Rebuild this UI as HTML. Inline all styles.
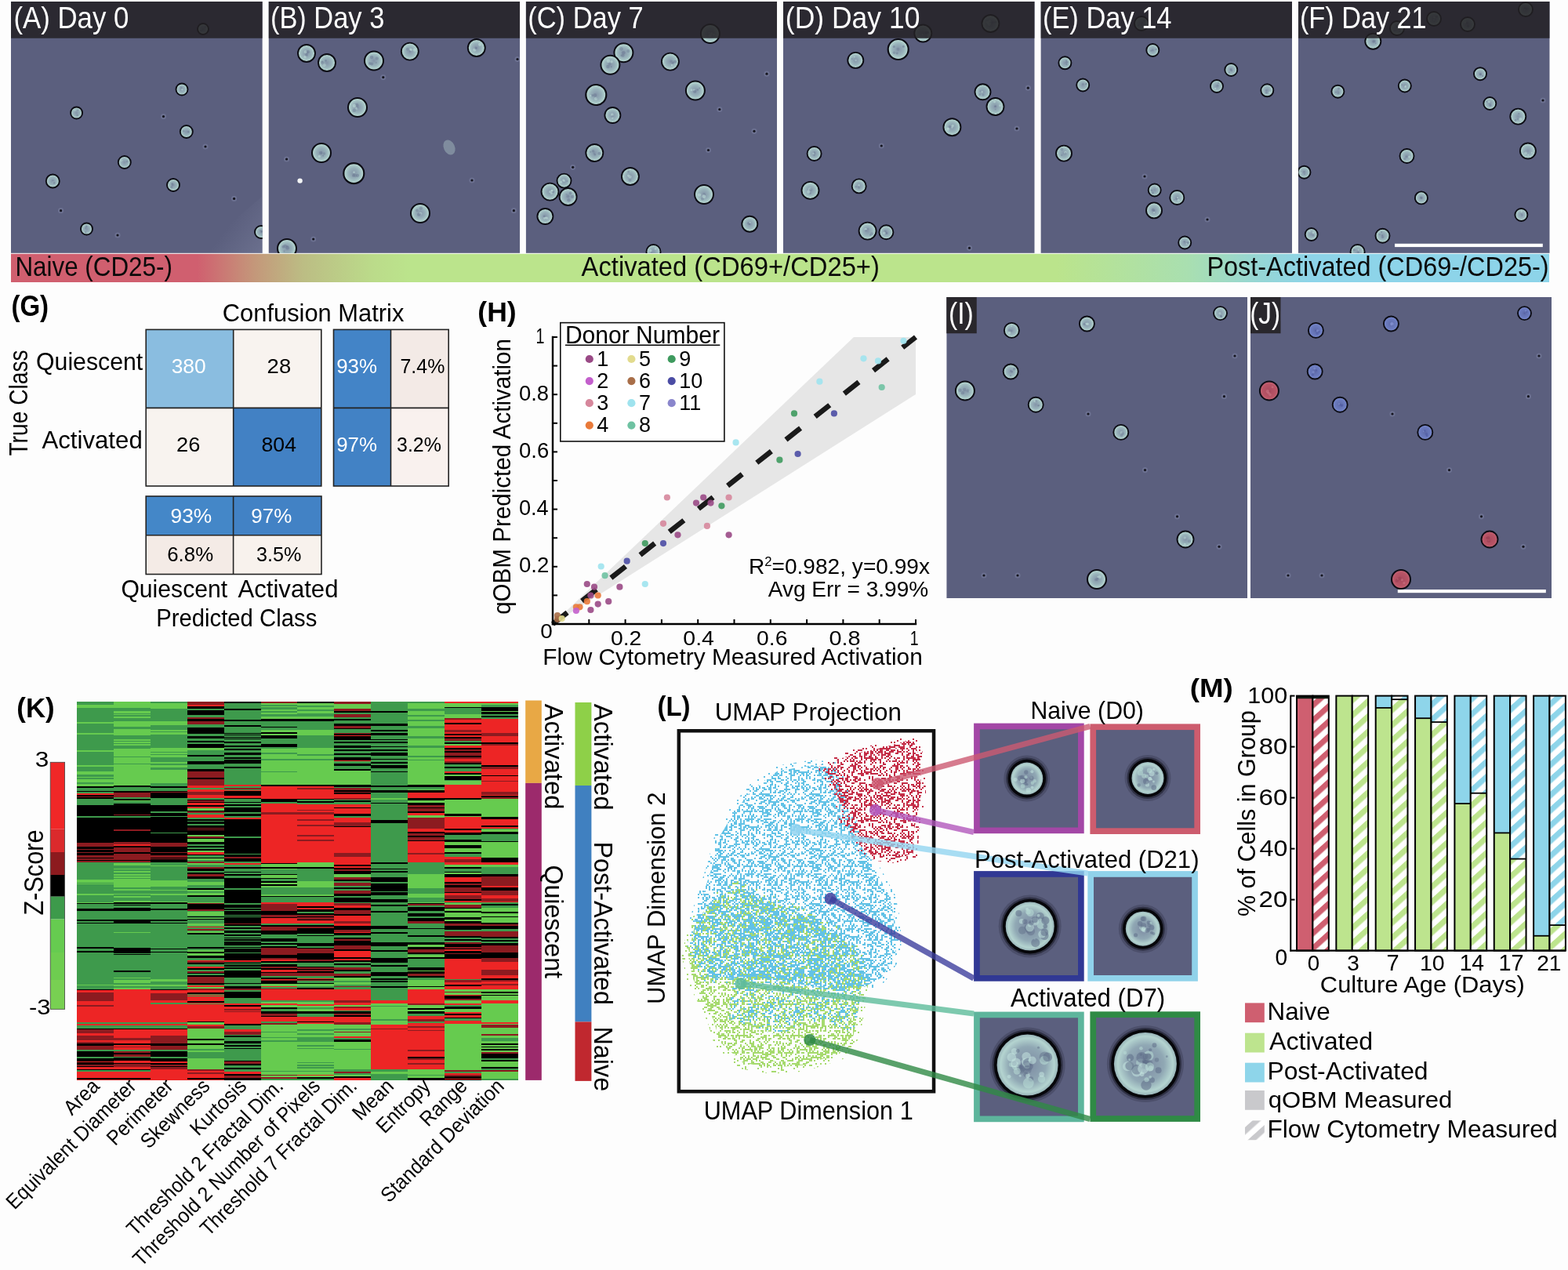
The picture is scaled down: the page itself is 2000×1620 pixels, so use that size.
<!DOCTYPE html><html><head><meta charset="utf-8"><title>Figure</title><style>html,body{margin:0;padding:0;background:#fdfdfd;width:2000px;height:1620px;overflow:hidden}svg{display:block}</style></head><body>
<svg width="2000" height="1620" viewBox="0 0 2000 1620" font-family="'Liberation Sans', Arial, sans-serif">
<rect x="0" y="0" width="2000" height="1620" fill="#fdfdfd"/>
<defs><radialGradient id="gc" cx="0.5" cy="0.5" r="0.5"><stop offset="0" stop-color="#8494a8"/><stop offset="0.55" stop-color="#98b2ba"/><stop offset="0.85" stop-color="#b0d0cc"/><stop offset="1" stop-color="#bedcd6"/></radialGradient><radialGradient id="gb" cx="0.5" cy="0.5" r="0.5"><stop offset="0" stop-color="#5e6aa8"/><stop offset="0.7" stop-color="#6c7cc0"/><stop offset="1" stop-color="#8090d0"/></radialGradient><radialGradient id="gr" cx="0.5" cy="0.5" r="0.5"><stop offset="0" stop-color="#a84a5e"/><stop offset="0.7" stop-color="#b85466"/><stop offset="1" stop-color="#c86878"/></radialGradient><radialGradient id="gc2" cx="0.5" cy="0.5" r="0.5"><stop offset="0" stop-color="#7c8aa2"/><stop offset="0.6" stop-color="#90a8b4"/><stop offset="0.88" stop-color="#b4d4d0"/><stop offset="1" stop-color="#98b4b8"/></radialGradient></defs>
<clipPath id="cp0"><rect x="14" y="2" width="320.8" height="321"/></clipPath>
<g clip-path="url(#cp0)">
<rect x="14" y="2" width="320.8" height="320.8" fill="#5b5f7e"/>
<linearGradient id="glA" x1="290" y1="290" x2="335" y2="323" gradientUnits="userSpaceOnUse"><stop offset="0" stop-color="#8a90ac" stop-opacity="0"/><stop offset="1" stop-color="#8a90ac" stop-opacity="0.35"/></linearGradient>
<polygon points="335,250 335,323 250,323" fill="url(#glA)"/>
<circle cx="232" cy="114" r="7.5" fill="url(#gc)" stroke="#0c0c14" stroke-width="1.9"/>
<circle cx="231.26" cy="114.51" r="1.01" fill="#6c7a94" opacity="0.5"/>
<circle cx="232.26" cy="114.29" r="1.34" fill="#c2e2dc" opacity="0.5"/>
<circle cx="231.03" cy="111.78" r="1.46" fill="#74849a" opacity="0.5"/>
<circle cx="97.6" cy="144" r="7.5" fill="url(#gc)" stroke="#0c0c14" stroke-width="1.9"/>
<circle cx="98.61" cy="147.09" r="1.25" fill="#74849a" opacity="0.5"/>
<circle cx="99.3" cy="140.52" r="1.03" fill="#74849a" opacity="0.5"/>
<circle cx="95.56" cy="140.76" r="1.1" fill="#c2e2dc" opacity="0.5"/>
<circle cx="237.8" cy="168" r="8" fill="url(#gc)" stroke="#0c0c14" stroke-width="1.9"/>
<circle cx="234.14" cy="167.33" r="1.23" fill="#74849a" opacity="0.5"/>
<circle cx="240.38" cy="168.71" r="1.2" fill="#74849a" opacity="0.5"/>
<circle cx="240.36" cy="167.83" r="1.22" fill="#6c7a94" opacity="0.5"/>
<circle cx="158.8" cy="207" r="8" fill="url(#gc)" stroke="#0c0c14" stroke-width="1.9"/>
<circle cx="155.1" cy="204.11" r="1.15" fill="#6c7a94" opacity="0.5"/>
<circle cx="162.08" cy="205.99" r="1.42" fill="#74849a" opacity="0.5"/>
<circle cx="154.9" cy="204.34" r="1.56" fill="#c2e2dc" opacity="0.5"/>
<circle cx="67.3" cy="231" r="8.5" fill="url(#gc)" stroke="#0c0c14" stroke-width="1.9"/>
<circle cx="67.55" cy="231.5" r="1.04" fill="#c2e2dc" opacity="0.5"/>
<circle cx="67.48" cy="230.63" r="1.24" fill="#6c7a94" opacity="0.5"/>
<circle cx="69.26" cy="233.46" r="1.2" fill="#6c7a94" opacity="0.5"/>
<circle cx="221" cy="236" r="8" fill="url(#gc)" stroke="#0c0c14" stroke-width="1.9"/>
<circle cx="220.05" cy="235.86" r="1.45" fill="#6c7a94" opacity="0.5"/>
<circle cx="219.65" cy="234.36" r="1.28" fill="#6c7a94" opacity="0.5"/>
<circle cx="218.98" cy="238.65" r="1.55" fill="#6c7a94" opacity="0.5"/>
<circle cx="110.5" cy="292" r="7.5" fill="url(#gc)" stroke="#0c0c14" stroke-width="1.9"/>
<circle cx="110.27" cy="288.78" r="1.37" fill="#6c7a94" opacity="0.5"/>
<circle cx="109.07" cy="290.85" r="0.96" fill="#6c7a94" opacity="0.5"/>
<circle cx="109.23" cy="296.28" r="1.15" fill="#6c7a94" opacity="0.5"/>
<circle cx="333" cy="296" r="8" fill="url(#gc)" stroke="#0c0c14" stroke-width="1.9"/>
<circle cx="334.12" cy="294.95" r="1.25" fill="#6c7a94" opacity="0.5"/>
<circle cx="333.32" cy="295.54" r="1.48" fill="#6c7a94" opacity="0.5"/>
<circle cx="331.95" cy="293.83" r="0.91" fill="#6c7a94" opacity="0.5"/>
<circle cx="259" cy="37" r="7" fill="url(#gc)" stroke="#0c0c14" stroke-width="1.9"/>
<circle cx="258.17" cy="38.35" r="1.07" fill="#74849a" opacity="0.5"/>
<circle cx="256.42" cy="39.24" r="1.17" fill="#6c7a94" opacity="0.5"/>
<circle cx="261.82" cy="34.34" r="1.26" fill="#74849a" opacity="0.5"/>
<circle cx="262" cy="187" r="3.6" fill="#7a80a0" fill-opacity="0.55"/><circle cx="262" cy="187" r="1.6" fill="#15151f"/>
<circle cx="208.5" cy="148.6" r="3.6" fill="#7a80a0" fill-opacity="0.55"/><circle cx="208.5" cy="148.6" r="1.6" fill="#15151f"/>
<circle cx="298.6" cy="253.4" r="3.6" fill="#7a80a0" fill-opacity="0.55"/><circle cx="298.6" cy="253.4" r="1.6" fill="#15151f"/>
<circle cx="77.6" cy="268.7" r="3.6" fill="#7a80a0" fill-opacity="0.55"/><circle cx="77.6" cy="268.7" r="1.6" fill="#15151f"/>
<circle cx="150" cy="300" r="3.6" fill="#7a80a0" fill-opacity="0.55"/><circle cx="150" cy="300" r="1.6" fill="#15151f"/>
<rect x="14" y="2" width="320.8" height="46.75" fill="#232124" fill-opacity="0.86"/>
</g>
<text x="17.41" y="35.5" font-size="39.27" textLength="146.92" lengthAdjust="spacingAndGlyphs" fill="#fff">(A) Day 0</text>
<clipPath id="cp1"><rect x="342.5" y="2" width="320.7" height="321"/></clipPath>
<g clip-path="url(#cp1)">
<rect x="342.5" y="2" width="320.7" height="320.8" fill="#5b5f7e"/>
<circle cx="382.6" cy="230.6" r="3.2" fill="#f4f6f6"/>
<ellipse cx="573" cy="188" rx="7" ry="10" fill="#8ea0ac" opacity="0.7" transform="rotate(-25 573 188)"/>
<circle cx="391" cy="68" r="11" fill="url(#gc)" stroke="#0c0c14" stroke-width="1.9"/>
<circle cx="391.2" cy="66.49" r="2.01" fill="#6c7a94" opacity="0.5"/>
<circle cx="389.83" cy="66.32" r="2.04" fill="#c2e2dc" opacity="0.5"/>
<circle cx="389.03" cy="72.64" r="1.83" fill="#c2e2dc" opacity="0.5"/>
<circle cx="391" cy="69.96" r="1.88" fill="#6c7a94" opacity="0.5"/>
<circle cx="393.06" cy="66.13" r="2.08" fill="#6c7a94" opacity="0.5"/>
<circle cx="417" cy="80" r="11" fill="url(#gc)" stroke="#0c0c14" stroke-width="1.9"/>
<circle cx="411.01" cy="79.88" r="2.04" fill="#74849a" opacity="0.5"/>
<circle cx="411" cy="78.73" r="1.23" fill="#74849a" opacity="0.5"/>
<circle cx="413.34" cy="82.34" r="1.69" fill="#74849a" opacity="0.5"/>
<circle cx="413.76" cy="83.09" r="2.02" fill="#c2e2dc" opacity="0.5"/>
<circle cx="415.55" cy="77.48" r="1.39" fill="#6c7a94" opacity="0.5"/>
<circle cx="477" cy="77.5" r="12" fill="url(#gc)" stroke="#0c0c14" stroke-width="2.04"/>
<circle cx="474.29" cy="81.47" r="1.94" fill="#6c7a94" opacity="0.5"/>
<circle cx="480.73" cy="74.47" r="2.08" fill="#74849a" opacity="0.5"/>
<circle cx="474.05" cy="73.03" r="2.2" fill="#6c7a94" opacity="0.5"/>
<circle cx="471.8" cy="80.88" r="1.88" fill="#6c7a94" opacity="0.5"/>
<circle cx="479.91" cy="79.98" r="0.9" fill="#74849a" opacity="0.5"/>
<circle cx="522.8" cy="65.6" r="11" fill="url(#gc)" stroke="#0c0c14" stroke-width="1.9"/>
<circle cx="528.94" cy="63.6" r="2.19" fill="#c2e2dc" opacity="0.5"/>
<circle cx="523.44" cy="62.74" r="1.17" fill="#c2e2dc" opacity="0.5"/>
<circle cx="524.44" cy="63.39" r="1.63" fill="#c2e2dc" opacity="0.5"/>
<circle cx="519.76" cy="62.75" r="1.89" fill="#74849a" opacity="0.5"/>
<circle cx="522.84" cy="65.73" r="1.04" fill="#74849a" opacity="0.5"/>
<circle cx="607.8" cy="61" r="11" fill="url(#gc)" stroke="#0c0c14" stroke-width="1.9"/>
<circle cx="607.99" cy="61.1" r="0.98" fill="#74849a" opacity="0.5"/>
<circle cx="605.3" cy="63.69" r="2.13" fill="#c2e2dc" opacity="0.5"/>
<circle cx="606.66" cy="60.42" r="1.03" fill="#74849a" opacity="0.5"/>
<circle cx="606.89" cy="61.68" r="1.5" fill="#6c7a94" opacity="0.5"/>
<circle cx="612.08" cy="56.87" r="2.03" fill="#c2e2dc" opacity="0.5"/>
<circle cx="456" cy="137" r="12" fill="url(#gc)" stroke="#0c0c14" stroke-width="2.04"/>
<circle cx="455.1" cy="134.13" r="2.33" fill="#6c7a94" opacity="0.5"/>
<circle cx="455.05" cy="138.15" r="1.59" fill="#c2e2dc" opacity="0.5"/>
<circle cx="451.59" cy="141" r="2.31" fill="#74849a" opacity="0.5"/>
<circle cx="451.96" cy="135.01" r="2.27" fill="#c2e2dc" opacity="0.5"/>
<circle cx="456.26" cy="137.47" r="1.26" fill="#74849a" opacity="0.5"/>
<circle cx="410" cy="195" r="12" fill="url(#gc)" stroke="#0c0c14" stroke-width="2.04"/>
<circle cx="409.18" cy="194.88" r="2.09" fill="#6c7a94" opacity="0.5"/>
<circle cx="407.29" cy="199.53" r="1.75" fill="#c2e2dc" opacity="0.5"/>
<circle cx="409.99" cy="195.09" r="1.38" fill="#74849a" opacity="0.5"/>
<circle cx="412.13" cy="198.66" r="0.97" fill="#6c7a94" opacity="0.5"/>
<circle cx="413.52" cy="196.09" r="1.73" fill="#74849a" opacity="0.5"/>
<circle cx="451.3" cy="221.2" r="13" fill="url(#gc)" stroke="#0c0c14" stroke-width="2.21"/>
<circle cx="453.16" cy="224.07" r="2.08" fill="#74849a" opacity="0.5"/>
<circle cx="451.49" cy="222.66" r="1.72" fill="#74849a" opacity="0.5"/>
<circle cx="450.85" cy="224.01" r="1.85" fill="#6c7a94" opacity="0.5"/>
<circle cx="451.52" cy="219.86" r="1.5" fill="#c2e2dc" opacity="0.5"/>
<circle cx="455.91" cy="223.79" r="2.13" fill="#6c7a94" opacity="0.5"/>
<circle cx="536" cy="272" r="12" fill="url(#gc)" stroke="#0c0c14" stroke-width="2.04"/>
<circle cx="536.37" cy="272.5" r="2.04" fill="#c2e2dc" opacity="0.5"/>
<circle cx="534.15" cy="273.75" r="2.07" fill="#6c7a94" opacity="0.5"/>
<circle cx="531.89" cy="268.38" r="1.82" fill="#74849a" opacity="0.5"/>
<circle cx="536.93" cy="265.64" r="2.11" fill="#74849a" opacity="0.5"/>
<circle cx="536.49" cy="273.2" r="1.07" fill="#74849a" opacity="0.5"/>
<circle cx="366" cy="317" r="12" fill="url(#gc)" stroke="#0c0c14" stroke-width="2.04"/>
<circle cx="363.66" cy="314.07" r="2.29" fill="#6c7a94" opacity="0.5"/>
<circle cx="362.49" cy="320.43" r="1.05" fill="#6c7a94" opacity="0.5"/>
<circle cx="361.18" cy="314.85" r="1.8" fill="#6c7a94" opacity="0.5"/>
<circle cx="366.83" cy="316.19" r="2.24" fill="#6c7a94" opacity="0.5"/>
<circle cx="366.4" cy="314.34" r="1.37" fill="#6c7a94" opacity="0.5"/>
<circle cx="488.8" cy="98.6" r="3.6" fill="#7a80a0" fill-opacity="0.55"/><circle cx="488.8" cy="98.6" r="1.6" fill="#15151f"/>
<circle cx="365.6" cy="203" r="3.6" fill="#7a80a0" fill-opacity="0.55"/><circle cx="365.6" cy="203" r="1.6" fill="#15151f"/>
<circle cx="602" cy="230" r="3.6" fill="#7a80a0" fill-opacity="0.55"/><circle cx="602" cy="230" r="1.6" fill="#15151f"/>
<circle cx="655.4" cy="268.7" r="3.6" fill="#7a80a0" fill-opacity="0.55"/><circle cx="655.4" cy="268.7" r="1.6" fill="#15151f"/>
<circle cx="399.7" cy="305" r="3.6" fill="#7a80a0" fill-opacity="0.55"/><circle cx="399.7" cy="305" r="1.6" fill="#15151f"/>
<circle cx="660" cy="75.5" r="3.6" fill="#7a80a0" fill-opacity="0.55"/><circle cx="660" cy="75.5" r="1.6" fill="#15151f"/>
<rect x="342.5" y="2" width="320.7" height="46.75" fill="#232124" fill-opacity="0.86"/>
</g>
<text x="344.93" y="35.5" font-size="39.27" textLength="145.35" lengthAdjust="spacingAndGlyphs" fill="#fff">(B) Day 3</text>
<clipPath id="cp2"><rect x="670.7" y="2" width="320.4" height="321"/></clipPath>
<g clip-path="url(#cp2)">
<rect x="670.7" y="2" width="320.4" height="320.8" fill="#5b5f7e"/>
<circle cx="795.4" cy="67.3" r="12" fill="url(#gc)" stroke="#0c0c14" stroke-width="2.04"/>
<circle cx="795.27" cy="67.23" r="2.32" fill="#6c7a94" opacity="0.5"/>
<circle cx="801.35" cy="65.1" r="2.11" fill="#74849a" opacity="0.5"/>
<circle cx="794.52" cy="70.73" r="2.1" fill="#6c7a94" opacity="0.5"/>
<circle cx="792.75" cy="70.77" r="1.38" fill="#74849a" opacity="0.5"/>
<circle cx="792.42" cy="62.33" r="2.35" fill="#74849a" opacity="0.5"/>
<circle cx="778.4" cy="82.7" r="12" fill="url(#gc)" stroke="#0c0c14" stroke-width="2.04"/>
<circle cx="780.12" cy="78.66" r="1.72" fill="#c2e2dc" opacity="0.5"/>
<circle cx="775.88" cy="77.81" r="2.31" fill="#c2e2dc" opacity="0.5"/>
<circle cx="775.42" cy="84.88" r="2.25" fill="#6c7a94" opacity="0.5"/>
<circle cx="779.74" cy="85.3" r="0.98" fill="#6c7a94" opacity="0.5"/>
<circle cx="777.69" cy="81.76" r="1.75" fill="#74849a" opacity="0.5"/>
<circle cx="854.9" cy="78.6" r="11" fill="url(#gc)" stroke="#0c0c14" stroke-width="1.9"/>
<circle cx="861.13" cy="78.77" r="1.99" fill="#6c7a94" opacity="0.5"/>
<circle cx="855.86" cy="77.91" r="1.29" fill="#74849a" opacity="0.5"/>
<circle cx="856.95" cy="83.21" r="1.09" fill="#c2e2dc" opacity="0.5"/>
<circle cx="857.45" cy="79.18" r="2.19" fill="#74849a" opacity="0.5"/>
<circle cx="858.37" cy="80.34" r="1.34" fill="#6c7a94" opacity="0.5"/>
<circle cx="760.3" cy="121" r="13" fill="url(#gc)" stroke="#0c0c14" stroke-width="2.21"/>
<circle cx="755.57" cy="121.65" r="1.53" fill="#6c7a94" opacity="0.5"/>
<circle cx="760.79" cy="125.44" r="1.25" fill="#6c7a94" opacity="0.5"/>
<circle cx="758.85" cy="121.61" r="2.26" fill="#6c7a94" opacity="0.5"/>
<circle cx="753.38" cy="122.08" r="1.19" fill="#c2e2dc" opacity="0.5"/>
<circle cx="760.09" cy="126.08" r="2.04" fill="#c2e2dc" opacity="0.5"/>
<circle cx="886.9" cy="115.6" r="12" fill="url(#gc)" stroke="#0c0c14" stroke-width="2.04"/>
<circle cx="892.21" cy="112.55" r="1.02" fill="#6c7a94" opacity="0.5"/>
<circle cx="882.01" cy="114.84" r="1.53" fill="#c2e2dc" opacity="0.5"/>
<circle cx="885.29" cy="114.95" r="1.39" fill="#c2e2dc" opacity="0.5"/>
<circle cx="886.21" cy="116.78" r="2.09" fill="#6c7a94" opacity="0.5"/>
<circle cx="889.85" cy="114.5" r="1.37" fill="#6c7a94" opacity="0.5"/>
<circle cx="781.4" cy="147" r="10" fill="url(#gc)" stroke="#0c0c14" stroke-width="1.9"/>
<circle cx="780.82" cy="146.05" r="1.89" fill="#c2e2dc" opacity="0.5"/>
<circle cx="781.29" cy="150.46" r="1.22" fill="#c2e2dc" opacity="0.5"/>
<circle cx="780.77" cy="147.72" r="1.33" fill="#c2e2dc" opacity="0.5"/>
<circle cx="780.87" cy="148.47" r="1.4" fill="#6c7a94" opacity="0.5"/>
<circle cx="758.3" cy="195" r="11" fill="url(#gc)" stroke="#0c0c14" stroke-width="1.9"/>
<circle cx="757.73" cy="195.74" r="1" fill="#74849a" opacity="0.5"/>
<circle cx="764.47" cy="195.7" r="2.06" fill="#6c7a94" opacity="0.5"/>
<circle cx="753.3" cy="193.77" r="0.93" fill="#6c7a94" opacity="0.5"/>
<circle cx="758.84" cy="197.2" r="1.23" fill="#6c7a94" opacity="0.5"/>
<circle cx="756.54" cy="192.74" r="1.75" fill="#6c7a94" opacity="0.5"/>
<circle cx="803.9" cy="225" r="11" fill="url(#gc)" stroke="#0c0c14" stroke-width="1.9"/>
<circle cx="801.61" cy="219" r="1.38" fill="#74849a" opacity="0.5"/>
<circle cx="801.58" cy="224.11" r="1.63" fill="#c2e2dc" opacity="0.5"/>
<circle cx="803.52" cy="229.68" r="1.95" fill="#74849a" opacity="0.5"/>
<circle cx="803.48" cy="224.92" r="0.94" fill="#74849a" opacity="0.5"/>
<circle cx="803.59" cy="225.6" r="2.04" fill="#c2e2dc" opacity="0.5"/>
<circle cx="719.5" cy="230.6" r="9" fill="url(#gc)" stroke="#0c0c14" stroke-width="1.9"/>
<circle cx="718.69" cy="229.79" r="1.5" fill="#c2e2dc" opacity="0.5"/>
<circle cx="723.49" cy="231.02" r="0.97" fill="#74849a" opacity="0.5"/>
<circle cx="719.57" cy="230.67" r="1.34" fill="#c2e2dc" opacity="0.5"/>
<circle cx="715.5" cy="232.14" r="1.58" fill="#c2e2dc" opacity="0.5"/>
<circle cx="701.5" cy="244.6" r="11" fill="url(#gc)" stroke="#0c0c14" stroke-width="1.9"/>
<circle cx="705.49" cy="244.51" r="1.59" fill="#6c7a94" opacity="0.5"/>
<circle cx="703.77" cy="243.28" r="1.17" fill="#c2e2dc" opacity="0.5"/>
<circle cx="704.17" cy="243.25" r="1.54" fill="#c2e2dc" opacity="0.5"/>
<circle cx="701.61" cy="244.67" r="1.63" fill="#c2e2dc" opacity="0.5"/>
<circle cx="703.36" cy="246.57" r="1.45" fill="#c2e2dc" opacity="0.5"/>
<circle cx="724.6" cy="251" r="11" fill="url(#gc)" stroke="#0c0c14" stroke-width="1.9"/>
<circle cx="722.51" cy="247.81" r="0.93" fill="#74849a" opacity="0.5"/>
<circle cx="725.48" cy="255.32" r="2.19" fill="#6c7a94" opacity="0.5"/>
<circle cx="730.08" cy="250.91" r="2.04" fill="#6c7a94" opacity="0.5"/>
<circle cx="727.44" cy="246.4" r="1.8" fill="#6c7a94" opacity="0.5"/>
<circle cx="724.41" cy="250.34" r="1.99" fill="#74849a" opacity="0.5"/>
<circle cx="898" cy="248" r="12" fill="url(#gc)" stroke="#0c0c14" stroke-width="2.04"/>
<circle cx="897.48" cy="248.45" r="1.3" fill="#c2e2dc" opacity="0.5"/>
<circle cx="895.97" cy="253.76" r="1.99" fill="#74849a" opacity="0.5"/>
<circle cx="897.96" cy="247.75" r="1.81" fill="#6c7a94" opacity="0.5"/>
<circle cx="897.99" cy="250.82" r="2.23" fill="#c2e2dc" opacity="0.5"/>
<circle cx="891.94" cy="248.6" r="2.19" fill="#c2e2dc" opacity="0.5"/>
<circle cx="695.4" cy="276" r="10" fill="url(#gc)" stroke="#0c0c14" stroke-width="1.9"/>
<circle cx="694.46" cy="278.52" r="1.45" fill="#c2e2dc" opacity="0.5"/>
<circle cx="696.08" cy="277.56" r="1.11" fill="#c2e2dc" opacity="0.5"/>
<circle cx="697.48" cy="278.18" r="1.58" fill="#c2e2dc" opacity="0.5"/>
<circle cx="694.05" cy="275.86" r="1.38" fill="#6c7a94" opacity="0.5"/>
<circle cx="956.3" cy="285.7" r="10" fill="url(#gc)" stroke="#0c0c14" stroke-width="1.9"/>
<circle cx="954.48" cy="284.8" r="1.76" fill="#74849a" opacity="0.5"/>
<circle cx="955.87" cy="285.46" r="1.36" fill="#74849a" opacity="0.5"/>
<circle cx="955.82" cy="285.83" r="1.11" fill="#6c7a94" opacity="0.5"/>
<circle cx="956.6" cy="283.93" r="1.03" fill="#c2e2dc" opacity="0.5"/>
<circle cx="905.9" cy="43" r="12" fill="url(#gc)" stroke="#0c0c14" stroke-width="2.04"/>
<circle cx="905.79" cy="45.23" r="2.14" fill="#c2e2dc" opacity="0.5"/>
<circle cx="905.5" cy="42.5" r="1.07" fill="#6c7a94" opacity="0.5"/>
<circle cx="907.43" cy="42.66" r="1.51" fill="#c2e2dc" opacity="0.5"/>
<circle cx="910.4" cy="44.24" r="1.28" fill="#c2e2dc" opacity="0.5"/>
<circle cx="904.73" cy="41.95" r="1.1" fill="#c2e2dc" opacity="0.5"/>
<circle cx="833.5" cy="321" r="9" fill="url(#gc)" stroke="#0c0c14" stroke-width="1.9"/>
<circle cx="831.26" cy="325.39" r="1.75" fill="#6c7a94" opacity="0.5"/>
<circle cx="836.09" cy="317.47" r="1.47" fill="#c2e2dc" opacity="0.5"/>
<circle cx="831.21" cy="322.17" r="1.05" fill="#74849a" opacity="0.5"/>
<circle cx="829.82" cy="319.61" r="1.66" fill="#c2e2dc" opacity="0.5"/>
<circle cx="917.8" cy="139.5" r="3.6" fill="#7a80a0" fill-opacity="0.55"/><circle cx="917.8" cy="139.5" r="1.6" fill="#15151f"/>
<circle cx="903.5" cy="191.5" r="3.6" fill="#7a80a0" fill-opacity="0.55"/><circle cx="903.5" cy="191.5" r="1.6" fill="#15151f"/>
<circle cx="962" cy="167.3" r="3.6" fill="#7a80a0" fill-opacity="0.55"/><circle cx="962" cy="167.3" r="1.6" fill="#15151f"/>
<circle cx="730.7" cy="213.3" r="3.6" fill="#7a80a0" fill-opacity="0.55"/><circle cx="730.7" cy="213.3" r="1.6" fill="#15151f"/>
<circle cx="978" cy="94.2" r="3.6" fill="#7a80a0" fill-opacity="0.55"/><circle cx="978" cy="94.2" r="1.6" fill="#15151f"/>
<rect x="670.7" y="2" width="320.4" height="46.75" fill="#232124" fill-opacity="0.86"/>
</g>
<text x="673.23" y="35.5" font-size="39.27" textLength="147.44" lengthAdjust="spacingAndGlyphs" fill="#fff">(C) Day 7</text>
<clipPath id="cp3"><rect x="999" y="2" width="320.7" height="321"/></clipPath>
<g clip-path="url(#cp3)">
<rect x="999" y="2" width="320.7" height="320.8" fill="#5b5f7e"/>
<circle cx="1091.3" cy="76.9" r="10" fill="url(#gc)" stroke="#0c0c14" stroke-width="1.9"/>
<circle cx="1091.27" cy="76.99" r="1.55" fill="#6c7a94" opacity="0.5"/>
<circle cx="1091.49" cy="77.1" r="1.49" fill="#c2e2dc" opacity="0.5"/>
<circle cx="1086.63" cy="75.11" r="1.09" fill="#74849a" opacity="0.5"/>
<circle cx="1089.68" cy="72.56" r="1.01" fill="#c2e2dc" opacity="0.5"/>
<circle cx="1145.7" cy="63" r="13" fill="url(#gc)" stroke="#0c0c14" stroke-width="2.21"/>
<circle cx="1144.23" cy="68" r="1.48" fill="#6c7a94" opacity="0.5"/>
<circle cx="1145.49" cy="62.76" r="1.97" fill="#74849a" opacity="0.5"/>
<circle cx="1140.46" cy="67.28" r="1.83" fill="#74849a" opacity="0.5"/>
<circle cx="1140.26" cy="59.45" r="1.54" fill="#6c7a94" opacity="0.5"/>
<circle cx="1152.38" cy="59.25" r="1.5" fill="#6c7a94" opacity="0.5"/>
<circle cx="1177.3" cy="42.5" r="11" fill="url(#gc)" stroke="#0c0c14" stroke-width="1.9"/>
<circle cx="1177.25" cy="43.15" r="0.91" fill="#74849a" opacity="0.5"/>
<circle cx="1176.69" cy="43.94" r="1.06" fill="#c2e2dc" opacity="0.5"/>
<circle cx="1183.79" cy="41.54" r="1.26" fill="#6c7a94" opacity="0.5"/>
<circle cx="1181.17" cy="46.89" r="1.99" fill="#74849a" opacity="0.5"/>
<circle cx="1181.59" cy="41.68" r="1.9" fill="#6c7a94" opacity="0.5"/>
<circle cx="1253.5" cy="117.3" r="10" fill="url(#gc)" stroke="#0c0c14" stroke-width="1.9"/>
<circle cx="1250.44" cy="116.34" r="1.06" fill="#74849a" opacity="0.5"/>
<circle cx="1252.74" cy="117.19" r="1.23" fill="#c2e2dc" opacity="0.5"/>
<circle cx="1249.75" cy="120.65" r="1.28" fill="#74849a" opacity="0.5"/>
<circle cx="1254.03" cy="121.17" r="1.45" fill="#74849a" opacity="0.5"/>
<circle cx="1269.5" cy="136" r="11" fill="url(#gc)" stroke="#0c0c14" stroke-width="1.9"/>
<circle cx="1269.68" cy="139.34" r="0.95" fill="#74849a" opacity="0.5"/>
<circle cx="1269.67" cy="135.57" r="1.36" fill="#6c7a94" opacity="0.5"/>
<circle cx="1275.47" cy="134.67" r="1.36" fill="#c2e2dc" opacity="0.5"/>
<circle cx="1269.24" cy="135.94" r="0.92" fill="#6c7a94" opacity="0.5"/>
<circle cx="1268.51" cy="129.93" r="1.49" fill="#c2e2dc" opacity="0.5"/>
<circle cx="1214.4" cy="162.2" r="11" fill="url(#gc)" stroke="#0c0c14" stroke-width="1.9"/>
<circle cx="1211.41" cy="161.73" r="1.73" fill="#6c7a94" opacity="0.5"/>
<circle cx="1214.46" cy="162.49" r="1.19" fill="#c2e2dc" opacity="0.5"/>
<circle cx="1209.07" cy="164.65" r="2.16" fill="#c2e2dc" opacity="0.5"/>
<circle cx="1209.09" cy="163.65" r="0.93" fill="#c2e2dc" opacity="0.5"/>
<circle cx="1215.2" cy="160.38" r="1.71" fill="#c2e2dc" opacity="0.5"/>
<circle cx="1038.6" cy="196" r="9" fill="url(#gc)" stroke="#0c0c14" stroke-width="1.9"/>
<circle cx="1038.61" cy="198.12" r="1.23" fill="#74849a" opacity="0.5"/>
<circle cx="1038.74" cy="194.47" r="1.21" fill="#6c7a94" opacity="0.5"/>
<circle cx="1038.54" cy="195.84" r="1.2" fill="#74849a" opacity="0.5"/>
<circle cx="1037.54" cy="195.75" r="1.27" fill="#c2e2dc" opacity="0.5"/>
<circle cx="1033.5" cy="242.9" r="11" fill="url(#gc)" stroke="#0c0c14" stroke-width="1.9"/>
<circle cx="1033.2" cy="246.27" r="1.52" fill="#6c7a94" opacity="0.5"/>
<circle cx="1031.41" cy="244.65" r="2.19" fill="#c2e2dc" opacity="0.5"/>
<circle cx="1033.5" cy="242.9" r="1.12" fill="#6c7a94" opacity="0.5"/>
<circle cx="1033.05" cy="241.44" r="2.08" fill="#c2e2dc" opacity="0.5"/>
<circle cx="1034.07" cy="242.02" r="2.02" fill="#74849a" opacity="0.5"/>
<circle cx="1095.7" cy="237.4" r="9" fill="url(#gc)" stroke="#0c0c14" stroke-width="1.9"/>
<circle cx="1095.62" cy="239.52" r="1.26" fill="#74849a" opacity="0.5"/>
<circle cx="1095.07" cy="238.04" r="1.04" fill="#74849a" opacity="0.5"/>
<circle cx="1091.82" cy="238.28" r="1.33" fill="#74849a" opacity="0.5"/>
<circle cx="1095.59" cy="236.45" r="1.41" fill="#c2e2dc" opacity="0.5"/>
<circle cx="1106.6" cy="294.6" r="11" fill="url(#gc)" stroke="#0c0c14" stroke-width="1.9"/>
<circle cx="1104.14" cy="292.37" r="1.62" fill="#c2e2dc" opacity="0.5"/>
<circle cx="1110.2" cy="299.79" r="1.18" fill="#6c7a94" opacity="0.5"/>
<circle cx="1107.3" cy="292.08" r="1.33" fill="#74849a" opacity="0.5"/>
<circle cx="1104.48" cy="294.17" r="1.18" fill="#6c7a94" opacity="0.5"/>
<circle cx="1112.04" cy="298.03" r="1.89" fill="#74849a" opacity="0.5"/>
<circle cx="1130.4" cy="296.3" r="9" fill="url(#gc)" stroke="#0c0c14" stroke-width="1.9"/>
<circle cx="1131.13" cy="297.4" r="1.27" fill="#6c7a94" opacity="0.5"/>
<circle cx="1129.86" cy="297.14" r="1.55" fill="#6c7a94" opacity="0.5"/>
<circle cx="1129" cy="294.8" r="1.56" fill="#74849a" opacity="0.5"/>
<circle cx="1127.88" cy="297.34" r="1.76" fill="#c2e2dc" opacity="0.5"/>
<circle cx="1263.4" cy="30" r="11" fill="url(#gc)" stroke="#0c0c14" stroke-width="1.9"/>
<circle cx="1259.46" cy="28.55" r="1.68" fill="#c2e2dc" opacity="0.5"/>
<circle cx="1261.72" cy="30.73" r="2.15" fill="#c2e2dc" opacity="0.5"/>
<circle cx="1266.22" cy="28.54" r="1.39" fill="#6c7a94" opacity="0.5"/>
<circle cx="1269.68" cy="28.18" r="1.5" fill="#74849a" opacity="0.5"/>
<circle cx="1262.15" cy="27.04" r="1.67" fill="#c2e2dc" opacity="0.5"/>
<circle cx="1124.3" cy="186" r="3.6" fill="#7a80a0" fill-opacity="0.55"/><circle cx="1124.3" cy="186" r="1.6" fill="#15151f"/>
<circle cx="1297" cy="164" r="3.6" fill="#7a80a0" fill-opacity="0.55"/><circle cx="1297" cy="164" r="1.6" fill="#15151f"/>
<circle cx="1311.3" cy="112.2" r="3.6" fill="#7a80a0" fill-opacity="0.55"/><circle cx="1311.3" cy="112.2" r="1.6" fill="#15151f"/>
<circle cx="1236.5" cy="316.3" r="3.6" fill="#7a80a0" fill-opacity="0.55"/><circle cx="1236.5" cy="316.3" r="1.6" fill="#15151f"/>
<rect x="999" y="2" width="320.7" height="46.75" fill="#232124" fill-opacity="0.86"/>
</g>
<text x="1001.87" y="35.5" font-size="39.27" textLength="171.53" lengthAdjust="spacingAndGlyphs" fill="#fff">(D) Day 10</text>
<clipPath id="cp4"><rect x="1327.4" y="2" width="320.6" height="321"/></clipPath>
<g clip-path="url(#cp4)">
<rect x="1327.4" y="2" width="320.6" height="320.8" fill="#5b5f7e"/>
<circle cx="1470.3" cy="64" r="8" fill="url(#gc)" stroke="#0c0c14" stroke-width="1.9"/>
<circle cx="1468.2" cy="64.73" r="0.97" fill="#6c7a94" opacity="0.5"/>
<circle cx="1474.53" cy="63.05" r="1.22" fill="#6c7a94" opacity="0.5"/>
<circle cx="1470.27" cy="64.05" r="1.21" fill="#74849a" opacity="0.5"/>
<circle cx="1358.4" cy="80.3" r="8" fill="url(#gc)" stroke="#0c0c14" stroke-width="1.9"/>
<circle cx="1360.05" cy="77.22" r="0.99" fill="#6c7a94" opacity="0.5"/>
<circle cx="1360.8" cy="79.22" r="1.57" fill="#6c7a94" opacity="0.5"/>
<circle cx="1360.54" cy="82.14" r="1.03" fill="#6c7a94" opacity="0.5"/>
<circle cx="1381.2" cy="108.5" r="8" fill="url(#gc)" stroke="#0c0c14" stroke-width="1.9"/>
<circle cx="1381.36" cy="107.29" r="1.14" fill="#6c7a94" opacity="0.5"/>
<circle cx="1384.76" cy="107.54" r="0.93" fill="#6c7a94" opacity="0.5"/>
<circle cx="1385.63" cy="106.73" r="1.05" fill="#6c7a94" opacity="0.5"/>
<circle cx="1570.3" cy="89" r="8" fill="url(#gc)" stroke="#0c0c14" stroke-width="1.9"/>
<circle cx="1570.81" cy="90.16" r="1.15" fill="#74849a" opacity="0.5"/>
<circle cx="1567.83" cy="92.55" r="1.07" fill="#6c7a94" opacity="0.5"/>
<circle cx="1569.99" cy="88.6" r="1.31" fill="#6c7a94" opacity="0.5"/>
<circle cx="1552" cy="110" r="8" fill="url(#gc)" stroke="#0c0c14" stroke-width="1.9"/>
<circle cx="1553.96" cy="105.96" r="1.05" fill="#74849a" opacity="0.5"/>
<circle cx="1553.16" cy="109.3" r="1.47" fill="#74849a" opacity="0.5"/>
<circle cx="1550.18" cy="112.87" r="1.23" fill="#c2e2dc" opacity="0.5"/>
<circle cx="1616.3" cy="115.3" r="8" fill="url(#gc)" stroke="#0c0c14" stroke-width="1.9"/>
<circle cx="1615.31" cy="118.23" r="1.35" fill="#6c7a94" opacity="0.5"/>
<circle cx="1615.1" cy="115.53" r="1.32" fill="#74849a" opacity="0.5"/>
<circle cx="1619.79" cy="118.12" r="1.57" fill="#c2e2dc" opacity="0.5"/>
<circle cx="1357" cy="195.6" r="10" fill="url(#gc)" stroke="#0c0c14" stroke-width="1.9"/>
<circle cx="1359" cy="194.6" r="1.9" fill="#c2e2dc" opacity="0.5"/>
<circle cx="1359.24" cy="195.65" r="1.3" fill="#74849a" opacity="0.5"/>
<circle cx="1354.36" cy="190.48" r="1.91" fill="#74849a" opacity="0.5"/>
<circle cx="1354.21" cy="197.9" r="1.15" fill="#74849a" opacity="0.5"/>
<circle cx="1472.7" cy="242.5" r="8" fill="url(#gc)" stroke="#0c0c14" stroke-width="1.9"/>
<circle cx="1475.05" cy="238.53" r="0.96" fill="#c2e2dc" opacity="0.5"/>
<circle cx="1468.94" cy="242.93" r="1.38" fill="#6c7a94" opacity="0.5"/>
<circle cx="1470.39" cy="245.94" r="1.58" fill="#6c7a94" opacity="0.5"/>
<circle cx="1501.3" cy="252" r="9" fill="url(#gc)" stroke="#0c0c14" stroke-width="1.9"/>
<circle cx="1501.98" cy="252.24" r="1.13" fill="#c2e2dc" opacity="0.5"/>
<circle cx="1497.68" cy="254.75" r="0.91" fill="#74849a" opacity="0.5"/>
<circle cx="1500.5" cy="253.87" r="1.35" fill="#6c7a94" opacity="0.5"/>
<circle cx="1503.16" cy="255.35" r="1.61" fill="#c2e2dc" opacity="0.5"/>
<circle cx="1472" cy="268.4" r="10" fill="url(#gc)" stroke="#0c0c14" stroke-width="1.9"/>
<circle cx="1472.37" cy="268.45" r="0.94" fill="#74849a" opacity="0.5"/>
<circle cx="1471.65" cy="268.47" r="1.22" fill="#74849a" opacity="0.5"/>
<circle cx="1470.69" cy="267.7" r="1.92" fill="#6c7a94" opacity="0.5"/>
<circle cx="1472.03" cy="270.99" r="1.02" fill="#c2e2dc" opacity="0.5"/>
<circle cx="1511.2" cy="309.5" r="8" fill="url(#gc)" stroke="#0c0c14" stroke-width="1.9"/>
<circle cx="1513.52" cy="310.85" r="0.9" fill="#c2e2dc" opacity="0.5"/>
<circle cx="1510.6" cy="308.1" r="1.17" fill="#6c7a94" opacity="0.5"/>
<circle cx="1515.22" cy="309.41" r="1.51" fill="#6c7a94" opacity="0.5"/>
<circle cx="1456" cy="30" r="9" fill="url(#gc)" stroke="#0c0c14" stroke-width="1.9"/>
<circle cx="1456.51" cy="32.26" r="1.36" fill="#74849a" opacity="0.5"/>
<circle cx="1451.97" cy="32.34" r="1.08" fill="#6c7a94" opacity="0.5"/>
<circle cx="1457.16" cy="29.02" r="0.93" fill="#6c7a94" opacity="0.5"/>
<circle cx="1459.7" cy="26.28" r="1.61" fill="#6c7a94" opacity="0.5"/>
<circle cx="1460" cy="225" r="3.6" fill="#7a80a0" fill-opacity="0.55"/><circle cx="1460" cy="225" r="1.6" fill="#15151f"/>
<circle cx="1540" cy="280" r="3.6" fill="#7a80a0" fill-opacity="0.55"/><circle cx="1540" cy="280" r="1.6" fill="#15151f"/>
<rect x="1327.4" y="2" width="320.6" height="46.75" fill="#232124" fill-opacity="0.86"/>
</g>
<text x="1329.93" y="35.5" font-size="39.27" textLength="164.58" lengthAdjust="spacingAndGlyphs" fill="#fff">(E) Day 14</text>
<clipPath id="cp5"><rect x="1656" y="2" width="320.7" height="321"/></clipPath>
<g clip-path="url(#cp5)">
<rect x="1656" y="2" width="320.7" height="320.8" fill="#5b5f7e"/>
<circle cx="1751.3" cy="52.7" r="10" fill="url(#gc)" stroke="#0c0c14" stroke-width="1.9"/>
<circle cx="1754.71" cy="55.19" r="0.94" fill="#6c7a94" opacity="0.5"/>
<circle cx="1752.93" cy="52.59" r="1.83" fill="#6c7a94" opacity="0.5"/>
<circle cx="1752.22" cy="53.14" r="1.17" fill="#6c7a94" opacity="0.5"/>
<circle cx="1751.72" cy="52.91" r="1.7" fill="#74849a" opacity="0.5"/>
<circle cx="1706.4" cy="116.7" r="8" fill="url(#gc)" stroke="#0c0c14" stroke-width="1.9"/>
<circle cx="1707.55" cy="112.94" r="1.45" fill="#6c7a94" opacity="0.5"/>
<circle cx="1703.69" cy="117.67" r="1.2" fill="#74849a" opacity="0.5"/>
<circle cx="1707.14" cy="118.8" r="1.55" fill="#74849a" opacity="0.5"/>
<circle cx="1791.8" cy="109.5" r="8" fill="url(#gc)" stroke="#0c0c14" stroke-width="1.9"/>
<circle cx="1792.49" cy="110.83" r="1.47" fill="#c2e2dc" opacity="0.5"/>
<circle cx="1792.8" cy="109.78" r="1.04" fill="#c2e2dc" opacity="0.5"/>
<circle cx="1788.39" cy="108.36" r="1.06" fill="#74849a" opacity="0.5"/>
<circle cx="1888" cy="94.2" r="8" fill="url(#gc)" stroke="#0c0c14" stroke-width="1.9"/>
<circle cx="1891.17" cy="96.85" r="1.19" fill="#6c7a94" opacity="0.5"/>
<circle cx="1888.56" cy="94.75" r="1.46" fill="#6c7a94" opacity="0.5"/>
<circle cx="1888.25" cy="94.98" r="1.2" fill="#6c7a94" opacity="0.5"/>
<circle cx="1900.3" cy="132" r="8" fill="url(#gc)" stroke="#0c0c14" stroke-width="1.9"/>
<circle cx="1896.42" cy="129.61" r="1.09" fill="#6c7a94" opacity="0.5"/>
<circle cx="1900.93" cy="134.4" r="1.55" fill="#6c7a94" opacity="0.5"/>
<circle cx="1899.36" cy="130.1" r="1.33" fill="#c2e2dc" opacity="0.5"/>
<circle cx="1936.3" cy="148.6" r="10" fill="url(#gc)" stroke="#0c0c14" stroke-width="1.9"/>
<circle cx="1935.85" cy="152.03" r="1.18" fill="#74849a" opacity="0.5"/>
<circle cx="1939.47" cy="151.97" r="1.97" fill="#c2e2dc" opacity="0.5"/>
<circle cx="1933.02" cy="153.47" r="1.43" fill="#6c7a94" opacity="0.5"/>
<circle cx="1937.27" cy="145.08" r="1.02" fill="#6c7a94" opacity="0.5"/>
<circle cx="1948.9" cy="192.5" r="10" fill="url(#gc)" stroke="#0c0c14" stroke-width="1.9"/>
<circle cx="1953.82" cy="194.76" r="0.98" fill="#c2e2dc" opacity="0.5"/>
<circle cx="1949.38" cy="197.73" r="1.04" fill="#c2e2dc" opacity="0.5"/>
<circle cx="1945.44" cy="194.42" r="1.78" fill="#74849a" opacity="0.5"/>
<circle cx="1945.88" cy="195.16" r="1.87" fill="#c2e2dc" opacity="0.5"/>
<circle cx="1794.5" cy="199" r="9" fill="url(#gc)" stroke="#0c0c14" stroke-width="1.9"/>
<circle cx="1797.57" cy="200.05" r="1.58" fill="#c2e2dc" opacity="0.5"/>
<circle cx="1794.49" cy="199.72" r="1.04" fill="#74849a" opacity="0.5"/>
<circle cx="1791.82" cy="202.74" r="1.76" fill="#74849a" opacity="0.5"/>
<circle cx="1793.59" cy="199.94" r="1.5" fill="#74849a" opacity="0.5"/>
<circle cx="1663.5" cy="219.7" r="8" fill="url(#gc)" stroke="#0c0c14" stroke-width="1.9"/>
<circle cx="1663.93" cy="222.1" r="0.97" fill="#74849a" opacity="0.5"/>
<circle cx="1663.31" cy="219.13" r="1.09" fill="#74849a" opacity="0.5"/>
<circle cx="1659.49" cy="220.75" r="1.02" fill="#c2e2dc" opacity="0.5"/>
<circle cx="1812.9" cy="252.4" r="8" fill="url(#gc)" stroke="#0c0c14" stroke-width="1.9"/>
<circle cx="1812.85" cy="252.53" r="1.22" fill="#6c7a94" opacity="0.5"/>
<circle cx="1812.94" cy="252.34" r="1.56" fill="#6c7a94" opacity="0.5"/>
<circle cx="1811.96" cy="251.49" r="0.96" fill="#74849a" opacity="0.5"/>
<circle cx="1940.4" cy="274" r="8" fill="url(#gc)" stroke="#0c0c14" stroke-width="1.9"/>
<circle cx="1940.69" cy="269.95" r="1.32" fill="#c2e2dc" opacity="0.5"/>
<circle cx="1939.88" cy="274.54" r="0.92" fill="#c2e2dc" opacity="0.5"/>
<circle cx="1940.8" cy="274.3" r="1.52" fill="#74849a" opacity="0.5"/>
<circle cx="1672.7" cy="299" r="8" fill="url(#gc)" stroke="#0c0c14" stroke-width="1.9"/>
<circle cx="1670.39" cy="295.11" r="1.18" fill="#c2e2dc" opacity="0.5"/>
<circle cx="1675.25" cy="296.52" r="1.6" fill="#c2e2dc" opacity="0.5"/>
<circle cx="1675.1" cy="300.4" r="1.31" fill="#74849a" opacity="0.5"/>
<circle cx="1763.5" cy="300.7" r="9" fill="url(#gc)" stroke="#0c0c14" stroke-width="1.9"/>
<circle cx="1763.56" cy="302.45" r="1.52" fill="#6c7a94" opacity="0.5"/>
<circle cx="1763.1" cy="300.2" r="1.05" fill="#6c7a94" opacity="0.5"/>
<circle cx="1762.19" cy="296.04" r="1.09" fill="#6c7a94" opacity="0.5"/>
<circle cx="1759.6" cy="298.98" r="1.18" fill="#74849a" opacity="0.5"/>
<circle cx="1731.6" cy="321" r="9" fill="url(#gc)" stroke="#0c0c14" stroke-width="1.9"/>
<circle cx="1732.65" cy="318.73" r="1.13" fill="#c2e2dc" opacity="0.5"/>
<circle cx="1732.64" cy="321.39" r="0.98" fill="#74849a" opacity="0.5"/>
<circle cx="1732.55" cy="323.16" r="1.46" fill="#6c7a94" opacity="0.5"/>
<circle cx="1727.23" cy="318.98" r="1.63" fill="#6c7a94" opacity="0.5"/>
<circle cx="1829" cy="24" r="9" fill="url(#gc)" stroke="#0c0c14" stroke-width="1.9"/>
<circle cx="1832.45" cy="21.15" r="1.61" fill="#6c7a94" opacity="0.5"/>
<circle cx="1829.31" cy="26.71" r="0.97" fill="#74849a" opacity="0.5"/>
<circle cx="1829.03" cy="25.58" r="1.08" fill="#c2e2dc" opacity="0.5"/>
<circle cx="1829.48" cy="22.28" r="1.29" fill="#c2e2dc" opacity="0.5"/>
<circle cx="1872" cy="31" r="9" fill="url(#gc)" stroke="#0c0c14" stroke-width="1.9"/>
<circle cx="1868.86" cy="28.59" r="1.3" fill="#c2e2dc" opacity="0.5"/>
<circle cx="1872.27" cy="33.19" r="1.33" fill="#74849a" opacity="0.5"/>
<circle cx="1871.35" cy="29.22" r="1.46" fill="#6c7a94" opacity="0.5"/>
<circle cx="1872.63" cy="33.73" r="1.38" fill="#74849a" opacity="0.5"/>
<circle cx="1946" cy="12" r="9" fill="url(#gc)" stroke="#0c0c14" stroke-width="1.9"/>
<circle cx="1944.99" cy="9.93" r="0.95" fill="#6c7a94" opacity="0.5"/>
<circle cx="1948.19" cy="11.07" r="1.68" fill="#74849a" opacity="0.5"/>
<circle cx="1945" cy="12.13" r="0.97" fill="#c2e2dc" opacity="0.5"/>
<circle cx="1945.45" cy="11.26" r="1.48" fill="#74849a" opacity="0.5"/>
<circle cx="1782" cy="36" r="9" fill="url(#gc)" stroke="#0c0c14" stroke-width="1.9"/>
<circle cx="1778.64" cy="39.04" r="1.57" fill="#74849a" opacity="0.5"/>
<circle cx="1780.96" cy="33.02" r="1.42" fill="#74849a" opacity="0.5"/>
<circle cx="1783.05" cy="36.21" r="1.4" fill="#c2e2dc" opacity="0.5"/>
<circle cx="1785.22" cy="39.61" r="1.38" fill="#6c7a94" opacity="0.5"/>
<circle cx="1968" cy="128" r="3.6" fill="#7a80a0" fill-opacity="0.55"/><circle cx="1968" cy="128" r="1.6" fill="#15151f"/>
<rect x="1656" y="2" width="320.7" height="46.75" fill="#232124" fill-opacity="0.86"/>
</g>
<text x="1657.95" y="35.5" font-size="39.27" textLength="161.71" lengthAdjust="spacingAndGlyphs" fill="#fff">(F) Day 21</text>
<rect x="1779" y="310.8" width="188.8" height="4.3" fill="#fff"/>
<linearGradient id="gbar" x1="14" x2="1976" y1="0" y2="0" gradientUnits="userSpaceOnUse"><stop offset="0" stop-color="#d05f6f"/><stop offset="0.121" stop-color="#d05f6f"/><stop offset="0.158" stop-color="#c4977a"/><stop offset="0.19" stop-color="#bcbd84"/><stop offset="0.235" stop-color="#bbdb8a"/><stop offset="0.26" stop-color="#bbe48c"/><stop offset="0.68" stop-color="#bbe48c"/><stop offset="0.765" stop-color="#a9dfb0"/><stop offset="0.81" stop-color="#96d6d4"/><stop offset="0.845" stop-color="#8dd4e9"/><stop offset="1" stop-color="#8dd4e9"/></linearGradient>
<rect x="14" y="323.8" width="1962" height="36.2" fill="url(#gbar)"/>
<text x="19.39" y="352.25" font-size="34.55" textLength="200.5" lengthAdjust="spacingAndGlyphs" fill="#0a0a0a">Naive (CD25-)</text>
<text x="741.6" y="352.25" font-size="34.55" textLength="380.31" lengthAdjust="spacingAndGlyphs" fill="#0a0a0a">Activated (CD69+/CD25+)</text>
<text x="1539.4" y="352.25" font-size="34.55" textLength="436.28" lengthAdjust="spacingAndGlyphs" fill="#0a0a0a">Post-Activated (CD69-/CD25-)</text>
<text x="14.43" y="402.5" font-size="36.36" textLength="47.68" lengthAdjust="spacingAndGlyphs" fill="#000" font-weight="bold">(G)</text>
<text x="283.76" y="409.5" font-size="31.42" textLength="231.67" lengthAdjust="spacingAndGlyphs" fill="#000">Confusion Matrix</text>
<rect x="186.2" y="420.4" width="111.5" height="100" fill="#8abde0"/>
<rect x="297.7" y="420.4" width="112.1" height="100" fill="#f8f3ef"/>
<rect x="186.2" y="520.4" width="111.5" height="99.6" fill="#f8f3ef"/>
<rect x="297.7" y="520.4" width="112.1" height="99.6" fill="#4281c4"/>
<rect x="425.5" y="420.4" width="73" height="100" fill="#4384c7"/>
<rect x="498.5" y="420.4" width="73.7" height="100" fill="#f3eae6"/>
<rect x="425.5" y="520.4" width="73" height="99.6" fill="#4282c5"/>
<rect x="498.5" y="520.4" width="73.7" height="99.6" fill="#f9f1ee"/>
<rect x="186.2" y="633" width="111.4" height="49.7" fill="#4487c8"/>
<rect x="297.6" y="633" width="112.4" height="49.7" fill="#4282c5"/>
<rect x="186.2" y="682.7" width="111.4" height="49.8" fill="#f4ebe6"/>
<rect x="297.6" y="682.7" width="112.4" height="49.8" fill="#f8f2ed"/>
<rect x="186.2" y="420.4" width="223.6" height="199.6" fill="none" stroke="#232323" stroke-width="1.6"/>
<rect x="425.5" y="420.4" width="146.7" height="199.6" fill="none" stroke="#232323" stroke-width="1.6"/>
<rect x="186.2" y="633" width="223.8" height="99.5" fill="none" stroke="#232323" stroke-width="1.6"/>
<line x1="297.7" y1="420.4" x2="297.7" y2="620" stroke="#232323" stroke-width="1.6"/>
<line x1="186.2" y1="520.4" x2="409.8" y2="520.4" stroke="#232323" stroke-width="1.6"/>
<line x1="498.5" y1="420.4" x2="498.5" y2="620" stroke="#232323" stroke-width="1.6"/>
<line x1="425.5" y1="520.4" x2="572.2" y2="520.4" stroke="#232323" stroke-width="1.6"/>
<line x1="297.6" y1="633" x2="297.6" y2="732.5" stroke="#232323" stroke-width="1.6"/>
<line x1="186.2" y1="682.7" x2="410" y2="682.7" stroke="#232323" stroke-width="1.6"/>
<text x="218.71" y="475.7" font-size="26.09" textLength="44" lengthAdjust="spacingAndGlyphs" fill="#ffffff">380</text>
<text x="340.63" y="475.5" font-size="26.09" textLength="30.53" lengthAdjust="spacingAndGlyphs" fill="#000">28</text>
<text x="225.14" y="576" font-size="26.52" textLength="30.28" lengthAdjust="spacingAndGlyphs" fill="#000">26</text>
<text x="333.57" y="575.7" font-size="25.81" textLength="44.39" lengthAdjust="spacingAndGlyphs" fill="#000">804</text>
<text x="429.23" y="475.5" font-size="26.09" textLength="51.85" lengthAdjust="spacingAndGlyphs" fill="#ffffff">93%</text>
<text x="510.45" y="475.5" font-size="26.19" textLength="56.91" lengthAdjust="spacingAndGlyphs" fill="#000">7.4%</text>
<text x="429.23" y="575.7" font-size="26.09" textLength="51.85" lengthAdjust="spacingAndGlyphs" fill="#ffffff">97%</text>
<text x="506.07" y="575.7" font-size="26.09" textLength="56.79" lengthAdjust="spacingAndGlyphs" fill="#000">3.2%</text>
<text x="217.52" y="666.5" font-size="25.81" textLength="52.68" lengthAdjust="spacingAndGlyphs" fill="#ffffff">93%</text>
<text x="320.33" y="666.5" font-size="25.81" textLength="51.95" lengthAdjust="spacingAndGlyphs" fill="#ffffff">97%</text>
<text x="213.21" y="716.4" font-size="25.81" textLength="58.93" lengthAdjust="spacingAndGlyphs" fill="#000">6.8%</text>
<text x="327.05" y="716.4" font-size="25.81" textLength="57.51" lengthAdjust="spacingAndGlyphs" fill="#000">3.5%</text>
<text x="46.04" y="472.2" font-size="32" textLength="136.21" lengthAdjust="spacingAndGlyphs" fill="#000">Quiescent</text>
<text x="53.4" y="572" font-size="32.15" textLength="128.38" lengthAdjust="spacingAndGlyphs" fill="#000">Activated</text>
<text x="154.39" y="762" font-size="31.71" textLength="135.76" lengthAdjust="spacingAndGlyphs" fill="#000">Quiescent</text>
<text x="303.5" y="762" font-size="31.71" textLength="127.97" lengthAdjust="spacingAndGlyphs" fill="#000">Activated</text>
<text x="199.16" y="798.8" font-size="31.85" textLength="205.14" lengthAdjust="spacingAndGlyphs" fill="#000">Predicted Class</text>
<text transform="translate(35 581) rotate(-90)" x="-0.56" y="0" font-size="32.73" textLength="135.15" lengthAdjust="spacingAndGlyphs" fill="#000">True Class</text>
<text x="609.31" y="410" font-size="34.62" textLength="49.41" lengthAdjust="spacingAndGlyphs" fill="#000" font-weight="bold">(H)</text>
<polygon points="705,796 1089,430 1168,430 1168,503" fill="#e6e6e6"/>
<line x1="705" y1="796" x2="1168" y2="430" stroke="#1a1a1a" stroke-width="6.6" stroke-dasharray="23.7 23.7"/>
<circle cx="1152.5" cy="434.8" r="4.1" fill="#9fe3ee" fill-opacity="0.9"/>
<circle cx="1101.5" cy="457.3" r="4.1" fill="#9fe3ee" fill-opacity="0.9"/>
<circle cx="1120" cy="460.4" r="4.1" fill="#9fe3ee" fill-opacity="0.9"/>
<circle cx="1124.7" cy="494" r="4.1" fill="#6fc2a2" fill-opacity="0.9"/>
<circle cx="1045.4" cy="486.7" r="4.1" fill="#9fe3ee" fill-opacity="0.9"/>
<circle cx="1013" cy="527.4" r="4.1" fill="#3e9a5e" fill-opacity="0.9"/>
<circle cx="1063.9" cy="527.4" r="4.1" fill="#4b4ca4" fill-opacity="0.9"/>
<circle cx="938.6" cy="564.4" r="4.1" fill="#9fe3ee" fill-opacity="0.9"/>
<circle cx="994.4" cy="586.7" r="4.1" fill="#3e9a5e" fill-opacity="0.9"/>
<circle cx="1017.6" cy="579" r="4.1" fill="#4b4ca4" fill-opacity="0.9"/>
<circle cx="850.9" cy="634.5" r="4.1" fill="#d6879c" fill-opacity="0.9"/>
<circle cx="897.2" cy="634.5" r="4.1" fill="#9a4a86" fill-opacity="0.9"/>
<circle cx="888" cy="641.6" r="4.1" fill="#9a4a86" fill-opacity="0.9"/>
<circle cx="906.5" cy="641.6" r="4.1" fill="#9a4a86" fill-opacity="0.9"/>
<circle cx="929.6" cy="634.5" r="4.1" fill="#d6879c" fill-opacity="0.9"/>
<circle cx="920.4" cy="645.3" r="4.1" fill="#3e9a5e" fill-opacity="0.9"/>
<circle cx="846" cy="667.8" r="4.1" fill="#d6879c" fill-opacity="0.9"/>
<circle cx="901.9" cy="670.9" r="4.1" fill="#d6879c" fill-opacity="0.9"/>
<circle cx="864.5" cy="682.3" r="4.1" fill="#9a4a86" fill-opacity="0.9"/>
<circle cx="929.6" cy="682.3" r="4.1" fill="#9a4a86" fill-opacity="0.9"/>
<circle cx="822.8" cy="693.1" r="4.1" fill="#3e9a5e" fill-opacity="0.9"/>
<circle cx="846" cy="693.1" r="4.1" fill="#4b4ca4" fill-opacity="0.9"/>
<circle cx="799.7" cy="715.7" r="4.1" fill="#4b4ca4" fill-opacity="0.9"/>
<circle cx="766.7" cy="722.5" r="4.1" fill="#9fe3ee" fill-opacity="0.9"/>
<circle cx="771.6" cy="734.2" r="4.1" fill="#6fc2a2" fill-opacity="0.9"/>
<circle cx="822.8" cy="745" r="4.1" fill="#9fe3ee" fill-opacity="0.9"/>
<circle cx="748.8" cy="745" r="4.1" fill="#9a4a86" fill-opacity="0.9"/>
<circle cx="758" cy="748.7" r="4.1" fill="#9a4a86" fill-opacity="0.9"/>
<circle cx="790.4" cy="748.7" r="4.1" fill="#9a4a86" fill-opacity="0.9"/>
<circle cx="753.4" cy="759.5" r="4.1" fill="#9a4a86" fill-opacity="0.9"/>
<circle cx="762.7" cy="759.5" r="4.1" fill="#e97a3a" fill-opacity="0.9"/>
<circle cx="748.8" cy="767.2" r="4.1" fill="#e97a3a" fill-opacity="0.9"/>
<circle cx="762.7" cy="770.6" r="4.1" fill="#9a4a86" fill-opacity="0.9"/>
<circle cx="776.2" cy="767.2" r="4.1" fill="#9a4a86" fill-opacity="0.9"/>
<circle cx="734.9" cy="774.3" r="4.1" fill="#e97a3a" fill-opacity="0.9"/>
<circle cx="739.5" cy="774.3" r="4.1" fill="#e97a3a" fill-opacity="0.9"/>
<circle cx="753.4" cy="778" r="4.1" fill="#9a4a86" fill-opacity="0.9"/>
<circle cx="734.9" cy="779" r="4.1" fill="#c35fcc" fill-opacity="0.9"/>
<circle cx="711" cy="785.1" r="4.1" fill="#a86e48" fill-opacity="0.9"/>
<circle cx="711" cy="789.8" r="4.1" fill="#a86e48" fill-opacity="0.9"/>
<circle cx="716.7" cy="789.1" r="4.1" fill="#e2db8e" fill-opacity="0.9"/>
<line x1="705" y1="428.8" x2="705" y2="797.2" stroke="#000" stroke-width="2.4"/>
<line x1="703.8" y1="796" x2="1169.2" y2="796" stroke="#000" stroke-width="2.4"/>
<line x1="705" y1="759.4" x2="711" y2="759.4" stroke="#000" stroke-width="2"/>
<line x1="751.3" y1="796" x2="751.3" y2="790" stroke="#000" stroke-width="2"/>
<line x1="705" y1="722.8" x2="711" y2="722.8" stroke="#000" stroke-width="2"/>
<line x1="797.6" y1="796" x2="797.6" y2="790" stroke="#000" stroke-width="2"/>
<line x1="705" y1="686.2" x2="711" y2="686.2" stroke="#000" stroke-width="2"/>
<line x1="843.9" y1="796" x2="843.9" y2="790" stroke="#000" stroke-width="2"/>
<line x1="705" y1="649.6" x2="711" y2="649.6" stroke="#000" stroke-width="2"/>
<line x1="890.2" y1="796" x2="890.2" y2="790" stroke="#000" stroke-width="2"/>
<line x1="705" y1="613" x2="711" y2="613" stroke="#000" stroke-width="2"/>
<line x1="936.5" y1="796" x2="936.5" y2="790" stroke="#000" stroke-width="2"/>
<line x1="705" y1="576.4" x2="711" y2="576.4" stroke="#000" stroke-width="2"/>
<line x1="982.8" y1="796" x2="982.8" y2="790" stroke="#000" stroke-width="2"/>
<line x1="705" y1="539.8" x2="711" y2="539.8" stroke="#000" stroke-width="2"/>
<line x1="1029.1" y1="796" x2="1029.1" y2="790" stroke="#000" stroke-width="2"/>
<line x1="705" y1="503.2" x2="711" y2="503.2" stroke="#000" stroke-width="2"/>
<line x1="1075.4" y1="796" x2="1075.4" y2="790" stroke="#000" stroke-width="2"/>
<line x1="705" y1="466.6" x2="711" y2="466.6" stroke="#000" stroke-width="2"/>
<line x1="1121.7" y1="796" x2="1121.7" y2="790" stroke="#000" stroke-width="2"/>
<line x1="705" y1="430" x2="711" y2="430" stroke="#000" stroke-width="2"/>
<line x1="1168" y1="796" x2="1168" y2="790" stroke="#000" stroke-width="2"/>
<text x="683.53" y="437.7" font-size="27.93" textLength="10.93" lengthAdjust="spacingAndGlyphs" fill="#000">1</text>
<text x="661.97" y="510.8" font-size="27.53" textLength="38.13" lengthAdjust="spacingAndGlyphs" fill="#000">0.8</text>
<text x="661.97" y="584" font-size="27.53" textLength="38.2" lengthAdjust="spacingAndGlyphs" fill="#000">0.6</text>
<text x="661.98" y="657.2" font-size="27.53" textLength="37.77" lengthAdjust="spacingAndGlyphs" fill="#000">0.4</text>
<text x="661.97" y="730.4" font-size="27.53" textLength="38.35" lengthAdjust="spacingAndGlyphs" fill="#000">0.2</text>
<text x="689.35" y="814.4" font-size="26.09" textLength="15.53" lengthAdjust="spacingAndGlyphs" fill="#000">0</text>
<text x="778.94" y="822.8" font-size="26.09" textLength="39.42" lengthAdjust="spacingAndGlyphs" fill="#000">0.2</text>
<text x="871.33" y="822.8" font-size="26.09" textLength="39.66" lengthAdjust="spacingAndGlyphs" fill="#000">0.4</text>
<text x="965.14" y="822.8" font-size="26.09" textLength="39.27" lengthAdjust="spacingAndGlyphs" fill="#000">0.6</text>
<text x="1057.52" y="822.8" font-size="26.09" textLength="40.14" lengthAdjust="spacingAndGlyphs" fill="#000">0.8</text>
<text x="1160.84" y="822.8" font-size="26.47" textLength="10.8" lengthAdjust="spacingAndGlyphs" fill="#000">1</text>
<text x="692.21" y="848.4" font-size="30.4" textLength="484.59" lengthAdjust="spacingAndGlyphs" fill="#000">Flow Cytometry Measured Activation</text>
<text transform="translate(651.2 782.7) rotate(-90)" x="-1.18" y="0" font-size="31.42" textLength="351.8" lengthAdjust="spacingAndGlyphs" fill="#000">qOBM Predicted Activation</text>
<text x="955" y="731.8" font-size="27" fill="#000" textLength="231" lengthAdjust="spacingAndGlyphs">R<tspan font-size="16" dy="-10">2</tspan><tspan dy="10">=0.982, y=0.99x</tspan></text>
<text x="979.7" y="761.2" font-size="28.22" textLength="204.55" lengthAdjust="spacingAndGlyphs" fill="#000">Avg Err = 3.99%</text>
<rect x="714.8" y="411.65" width="209.1" height="151.35" fill="#fff" stroke="#111" stroke-width="1.6"/>
<text x="720.89" y="437.7" font-size="31.27" textLength="197.18" lengthAdjust="spacingAndGlyphs" fill="#000">Donor Number</text>
<line x1="721" y1="440.2" x2="918.3" y2="440.2" stroke="#000" stroke-width="1.6"/>
<circle cx="751.8" cy="458" r="5.1" fill="#9a4a86"/>
<text x="761.3" y="466.6" font-size="27" fill="#000">1</text>
<circle cx="751.8" cy="486.1" r="5.1" fill="#c35fcc"/>
<text x="761.3" y="494.7" font-size="27" fill="#000">2</text>
<circle cx="751.8" cy="514.2" r="5.1" fill="#d6879c"/>
<text x="761.3" y="522.8" font-size="27" fill="#000">3</text>
<circle cx="751.8" cy="542.6" r="5.1" fill="#e97a3a"/>
<text x="761.3" y="551.2" font-size="27" fill="#000">4</text>
<circle cx="805.4" cy="458" r="5.1" fill="#e2db8e"/>
<text x="814.9" y="466.6" font-size="27" fill="#000">5</text>
<circle cx="805.4" cy="486.1" r="5.1" fill="#a86e48"/>
<text x="814.9" y="494.7" font-size="27" fill="#000">6</text>
<circle cx="805.4" cy="514.2" r="5.1" fill="#9fe3ee"/>
<text x="814.9" y="522.8" font-size="27" fill="#000">7</text>
<circle cx="805.4" cy="542.6" r="5.1" fill="#6fc2a2"/>
<text x="814.9" y="551.2" font-size="27" fill="#000">8</text>
<circle cx="856.7" cy="458" r="5.1" fill="#3e9a5e"/>
<text x="866.2" y="466.6" font-size="27" fill="#000">9</text>
<circle cx="856.7" cy="486.1" r="5.1" fill="#4b4ca4"/>
<text x="866.2" y="494.7" font-size="27" fill="#000">10</text>
<circle cx="856.7" cy="514.2" r="5.1" fill="#8a86cc"/>
<text x="866.2" y="522.8" font-size="27" fill="#000">11</text>
<clipPath id="cpij0"><rect x="1207.25" y="379" width="383.75" height="384"/></clipPath>
<g clip-path="url(#cpij0)">
<rect x="1207.25" y="379" width="383.75" height="384" fill="#5b5f7e"/>
<circle cx="1388" cy="528" r="3.6" fill="#7a80a0" fill-opacity="0.55"/><circle cx="1388" cy="528" r="1.6" fill="#15151f"/>
<circle cx="1561.4" cy="505.7" r="3.6" fill="#7a80a0" fill-opacity="0.55"/><circle cx="1561.4" cy="505.7" r="1.6" fill="#15151f"/>
<circle cx="1555" cy="697.3" r="3.6" fill="#7a80a0" fill-opacity="0.55"/><circle cx="1555" cy="697.3" r="1.6" fill="#15151f"/>
<circle cx="1575" cy="454" r="3.6" fill="#7a80a0" fill-opacity="0.55"/><circle cx="1575" cy="454" r="1.6" fill="#15151f"/>
<circle cx="1501.5" cy="658.8" r="3.6" fill="#7a80a0" fill-opacity="0.55"/><circle cx="1501.5" cy="658.8" r="1.6" fill="#15151f"/>
<circle cx="1460.5" cy="599.6" r="3.6" fill="#7a80a0" fill-opacity="0.55"/><circle cx="1460.5" cy="599.6" r="1.6" fill="#15151f"/>
<circle cx="1255" cy="734" r="3.6" fill="#7a80a0" fill-opacity="0.55"/><circle cx="1255" cy="734" r="1.6" fill="#15151f"/>
<circle cx="1298" cy="734" r="3.6" fill="#7a80a0" fill-opacity="0.55"/><circle cx="1298" cy="734" r="1.6" fill="#15151f"/>
<circle cx="1290.4" cy="421.4" r="9.5" fill="url(#gc)" stroke="#0c0c14" stroke-width="1.9"/>
<circle cx="1290.31" cy="422.09" r="1.37" fill="#74849a" opacity="0.5"/>
<circle cx="1287.34" cy="424.69" r="1.82" fill="#c2e2dc" opacity="0.5"/>
<circle cx="1290.09" cy="416.09" r="0.93" fill="#c2e2dc" opacity="0.5"/>
<circle cx="1287.43" cy="421.16" r="1.81" fill="#74849a" opacity="0.5"/>
<circle cx="1386.4" cy="413" r="9.5" fill="url(#gc)" stroke="#0c0c14" stroke-width="1.9"/>
<circle cx="1384.75" cy="412.99" r="0.94" fill="#c2e2dc" opacity="0.5"/>
<circle cx="1387.42" cy="413.3" r="1.76" fill="#c2e2dc" opacity="0.5"/>
<circle cx="1386.25" cy="413.15" r="1.57" fill="#c2e2dc" opacity="0.5"/>
<circle cx="1383.12" cy="413.43" r="1.63" fill="#6c7a94" opacity="0.5"/>
<circle cx="1556.5" cy="399.6" r="8.5" fill="url(#gc)" stroke="#0c0c14" stroke-width="1.9"/>
<circle cx="1557.83" cy="403.84" r="1.3" fill="#6c7a94" opacity="0.5"/>
<circle cx="1557.26" cy="403.17" r="1.28" fill="#6c7a94" opacity="0.5"/>
<circle cx="1555.95" cy="399.69" r="1.7" fill="#c2e2dc" opacity="0.5"/>
<circle cx="1289.2" cy="474" r="9.5" fill="url(#gc)" stroke="#0c0c14" stroke-width="1.9"/>
<circle cx="1293.8" cy="470.64" r="1.87" fill="#6c7a94" opacity="0.5"/>
<circle cx="1289.21" cy="473.12" r="1.13" fill="#6c7a94" opacity="0.5"/>
<circle cx="1289.07" cy="479.23" r="1.04" fill="#6c7a94" opacity="0.5"/>
<circle cx="1290.78" cy="474.21" r="1.37" fill="#6c7a94" opacity="0.5"/>
<circle cx="1230.9" cy="498.4" r="12" fill="url(#gc)" stroke="#0c0c14" stroke-width="2.04"/>
<circle cx="1227.89" cy="501.15" r="2.18" fill="#6c7a94" opacity="0.5"/>
<circle cx="1224.43" cy="497.74" r="2.29" fill="#6c7a94" opacity="0.5"/>
<circle cx="1230.15" cy="496.95" r="2.12" fill="#74849a" opacity="0.5"/>
<circle cx="1236.6" cy="498.8" r="1.1" fill="#c2e2dc" opacity="0.5"/>
<circle cx="1234.65" cy="498.6" r="2.07" fill="#74849a" opacity="0.5"/>
<circle cx="1321.2" cy="516.2" r="9.5" fill="url(#gc)" stroke="#0c0c14" stroke-width="1.9"/>
<circle cx="1320.27" cy="511.48" r="1.77" fill="#c2e2dc" opacity="0.5"/>
<circle cx="1324.2" cy="517.55" r="1.06" fill="#6c7a94" opacity="0.5"/>
<circle cx="1321.56" cy="511.6" r="1.45" fill="#74849a" opacity="0.5"/>
<circle cx="1325.02" cy="517.09" r="1.19" fill="#74849a" opacity="0.5"/>
<circle cx="1429.8" cy="551.4" r="9.5" fill="url(#gc)" stroke="#0c0c14" stroke-width="1.9"/>
<circle cx="1430.06" cy="551.76" r="1.56" fill="#74849a" opacity="0.5"/>
<circle cx="1430.19" cy="551.67" r="1.77" fill="#c2e2dc" opacity="0.5"/>
<circle cx="1432.07" cy="553.17" r="1.8" fill="#74849a" opacity="0.5"/>
<circle cx="1430.52" cy="555.57" r="1.72" fill="#74849a" opacity="0.5"/>
<circle cx="1512" cy="688" r="10.5" fill="url(#gc)" stroke="#0c0c14" stroke-width="1.9"/>
<circle cx="1511.21" cy="686.11" r="1.51" fill="#74849a" opacity="0.5"/>
<circle cx="1516.99" cy="690.4" r="2.09" fill="#74849a" opacity="0.5"/>
<circle cx="1511.23" cy="685.98" r="1.75" fill="#c2e2dc" opacity="0.5"/>
<circle cx="1511.23" cy="694.25" r="1.48" fill="#c2e2dc" opacity="0.5"/>
<circle cx="1399" cy="739" r="12" fill="url(#gc)" stroke="#0c0c14" stroke-width="2.04"/>
<circle cx="1399.07" cy="739.07" r="1.81" fill="#6c7a94" opacity="0.5"/>
<circle cx="1400.77" cy="737.26" r="1.57" fill="#6c7a94" opacity="0.5"/>
<circle cx="1402.5" cy="736.04" r="2.14" fill="#c2e2dc" opacity="0.5"/>
<circle cx="1397.66" cy="739.48" r="1.81" fill="#74849a" opacity="0.5"/>
<circle cx="1400.31" cy="736.04" r="1.08" fill="#c2e2dc" opacity="0.5"/>
</g>
<rect x="1207.25" y="379" width="38.5" height="46.25" fill="#232124" fill-opacity="0.9"/>
<clipPath id="cpij1"><rect x="1595" y="379" width="384" height="384"/></clipPath>
<g clip-path="url(#cpij1)">
<rect x="1595" y="379" width="384" height="384" fill="#5b5f7e"/>
<circle cx="1776" cy="528" r="3.6" fill="#7a80a0" fill-opacity="0.55"/><circle cx="1776" cy="528" r="1.6" fill="#15151f"/>
<circle cx="1949.4" cy="505.7" r="3.6" fill="#7a80a0" fill-opacity="0.55"/><circle cx="1949.4" cy="505.7" r="1.6" fill="#15151f"/>
<circle cx="1943" cy="697.3" r="3.6" fill="#7a80a0" fill-opacity="0.55"/><circle cx="1943" cy="697.3" r="1.6" fill="#15151f"/>
<circle cx="1963" cy="454" r="3.6" fill="#7a80a0" fill-opacity="0.55"/><circle cx="1963" cy="454" r="1.6" fill="#15151f"/>
<circle cx="1889.5" cy="658.8" r="3.6" fill="#7a80a0" fill-opacity="0.55"/><circle cx="1889.5" cy="658.8" r="1.6" fill="#15151f"/>
<circle cx="1848.5" cy="599.6" r="3.6" fill="#7a80a0" fill-opacity="0.55"/><circle cx="1848.5" cy="599.6" r="1.6" fill="#15151f"/>
<circle cx="1643" cy="734" r="3.6" fill="#7a80a0" fill-opacity="0.55"/><circle cx="1643" cy="734" r="1.6" fill="#15151f"/>
<circle cx="1686" cy="734" r="3.6" fill="#7a80a0" fill-opacity="0.55"/><circle cx="1686" cy="734" r="1.6" fill="#15151f"/>
<circle cx="1678.4" cy="421.4" r="9.5" fill="url(#gb)" stroke="#0c0c14" stroke-width="1.9"/>
<circle cx="1680.55" cy="422.06" r="1.78" fill="#8a98d8" opacity="0.5"/>
<circle cx="1678.23" cy="421.89" r="1.03" fill="#4c58a0" opacity="0.5"/>
<circle cx="1682.5" cy="423.35" r="1.47" fill="#4c58a0" opacity="0.5"/>
<circle cx="1680.09" cy="425.09" r="1.85" fill="#4c58a0" opacity="0.5"/>
<circle cx="1774.4" cy="413" r="9.5" fill="url(#gb)" stroke="#0c0c14" stroke-width="1.9"/>
<circle cx="1774.65" cy="413.08" r="1.7" fill="#8a98d8" opacity="0.5"/>
<circle cx="1776.81" cy="413.46" r="1.16" fill="#8a98d8" opacity="0.5"/>
<circle cx="1774.85" cy="414.19" r="1.32" fill="#8a98d8" opacity="0.5"/>
<circle cx="1775.47" cy="412.2" r="1.73" fill="#8a98d8" opacity="0.5"/>
<circle cx="1944.5" cy="399.6" r="8.5" fill="url(#gb)" stroke="#0c0c14" stroke-width="1.9"/>
<circle cx="1944.51" cy="399.6" r="0.97" fill="#4c58a0" opacity="0.5"/>
<circle cx="1947.43" cy="397.92" r="1.05" fill="#4c58a0" opacity="0.5"/>
<circle cx="1946.09" cy="396.32" r="1.1" fill="#8a98d8" opacity="0.5"/>
<circle cx="1677.2" cy="474" r="9.5" fill="url(#gb)" stroke="#0c0c14" stroke-width="1.9"/>
<circle cx="1678.96" cy="472.48" r="1.16" fill="#4c58a0" opacity="0.5"/>
<circle cx="1675.13" cy="474.7" r="1.67" fill="#8a98d8" opacity="0.5"/>
<circle cx="1674.38" cy="477.96" r="1.69" fill="#4c58a0" opacity="0.5"/>
<circle cx="1676.73" cy="470.05" r="1.45" fill="#8a98d8" opacity="0.5"/>
<circle cx="1618.9" cy="498.4" r="12" fill="url(#gr)" stroke="#0c0c14" stroke-width="2.04"/>
<circle cx="1620.02" cy="503.54" r="1.74" fill="#d07a88" opacity="0.5"/>
<circle cx="1616.93" cy="499.19" r="2.18" fill="#d07a88" opacity="0.5"/>
<circle cx="1619.26" cy="499.6" r="1.04" fill="#963c50" opacity="0.5"/>
<circle cx="1618.03" cy="501.36" r="1.78" fill="#d07a88" opacity="0.5"/>
<circle cx="1623.05" cy="493.86" r="1.5" fill="#d07a88" opacity="0.5"/>
<circle cx="1709.2" cy="516.2" r="9.5" fill="url(#gb)" stroke="#0c0c14" stroke-width="1.9"/>
<circle cx="1711.36" cy="517.7" r="1.36" fill="#4c58a0" opacity="0.5"/>
<circle cx="1711.97" cy="516.68" r="1.44" fill="#4c58a0" opacity="0.5"/>
<circle cx="1709.53" cy="516.27" r="1.39" fill="#4c58a0" opacity="0.5"/>
<circle cx="1708.05" cy="515.44" r="1.16" fill="#8a98d8" opacity="0.5"/>
<circle cx="1817.8" cy="551.4" r="9.5" fill="url(#gb)" stroke="#0c0c14" stroke-width="1.9"/>
<circle cx="1815.85" cy="550.3" r="1" fill="#8a98d8" opacity="0.5"/>
<circle cx="1820.18" cy="555.88" r="1.45" fill="#4c58a0" opacity="0.5"/>
<circle cx="1819.65" cy="553.81" r="1.83" fill="#4c58a0" opacity="0.5"/>
<circle cx="1817.34" cy="549.49" r="1.2" fill="#4c58a0" opacity="0.5"/>
<circle cx="1900" cy="688" r="10.5" fill="url(#gr)" stroke="#0c0c14" stroke-width="1.9"/>
<circle cx="1898.88" cy="689.24" r="0.98" fill="#d07a88" opacity="0.5"/>
<circle cx="1898.32" cy="686.07" r="1.95" fill="#963c50" opacity="0.5"/>
<circle cx="1898.91" cy="690.16" r="1.96" fill="#963c50" opacity="0.5"/>
<circle cx="1896.36" cy="686.2" r="1.3" fill="#963c50" opacity="0.5"/>
<circle cx="1787" cy="739" r="12" fill="url(#gr)" stroke="#0c0c14" stroke-width="2.04"/>
<circle cx="1782.98" cy="739.02" r="1.06" fill="#d07a88" opacity="0.5"/>
<circle cx="1790.86" cy="743.59" r="1.55" fill="#d07a88" opacity="0.5"/>
<circle cx="1788.22" cy="739.54" r="1.61" fill="#d07a88" opacity="0.5"/>
<circle cx="1781.8" cy="740.66" r="2.25" fill="#963c50" opacity="0.5"/>
<circle cx="1785.4" cy="738.02" r="2.19" fill="#963c50" opacity="0.5"/>
</g>
<rect x="1595" y="379" width="38.5" height="46.25" fill="#232124" fill-opacity="0.9"/>
<text x="1209.98" y="413" font-size="39.27" textLength="31.84" lengthAdjust="spacingAndGlyphs" fill="#fff">(I)</text>
<text x="1594.25" y="413" font-size="39.27" textLength="38.77" lengthAdjust="spacingAndGlyphs" fill="#fff">(J)</text>
<rect x="1782.8" y="752" width="189" height="4.2" fill="#fff"/>
<path fill="#66cb4f" shape-rendering="crispEdges" d="M98 899h46.9v4h-46.9zM98 921h46.9v2h-46.9zM98 935h46.9v2h-46.9zM98 957h46.9v2h-46.9zM98 976h46.9v2h-46.9zM98 984h46.9v4h-46.9zM98 991h46.9v1h-46.9zM98 994h46.9v4h-46.9zM98 1000h46.9v3h-46.9zM98 1122h46.9v4h-46.9zM98 1127h46.9v1h-46.9zM98 1140h46.9v2h-46.9zM98 1151h46.9v1h-46.9zM98 1256h46.9v1h-46.9zM144.9 895h46.9v8h-46.9zM144.9 907h46.9v3h-46.9zM144.9 911h46.9v1h-46.9zM144.9 914h46.9v2h-46.9zM144.9 920h46.9v7h-46.9zM144.9 930h46.9v8h-46.9zM144.9 943h46.9v2h-46.9zM144.9 946h46.9v2h-46.9zM144.9 949h46.9v2h-46.9zM144.9 955h46.9v10h-46.9zM144.9 966h46.9v8h-46.9zM144.9 975h46.9v27h-46.9zM144.9 1021h46.9v1h-46.9zM144.9 1101h46.9v3h-46.9zM144.9 1108h46.9v1h-46.9zM144.9 1111h46.9v2h-46.9zM144.9 1115h46.9v2h-46.9zM144.9 1118h46.9v2h-46.9zM144.9 1121h46.9v11h-46.9zM144.9 1134h46.9v2h-46.9zM144.9 1140h46.9v1h-46.9zM144.9 1143h46.9v2h-46.9zM144.9 1149h46.9v2h-46.9zM144.9 1189h46.9v1h-46.9zM144.9 1247h46.9v1h-46.9zM144.9 1250h46.9v4h-46.9zM144.9 1256h46.9v2h-46.9zM144.9 1260h46.9v2h-46.9zM191.8 897h46.9v7h-46.9zM191.8 920h46.9v5h-46.9zM191.8 931h46.9v2h-46.9zM191.8 934h46.9v3h-46.9zM191.8 954h46.9v5h-46.9zM191.8 960h46.9v2h-46.9zM191.8 963h46.9v3h-46.9zM191.8 972h46.9v2h-46.9zM191.8 976h46.9v3h-46.9zM191.8 982h46.9v17h-46.9zM191.8 1104h46.9v1h-46.9zM191.8 1123h46.9v8h-46.9zM191.8 1135h46.9v1h-46.9zM191.8 1140h46.9v2h-46.9zM191.8 1150h46.9v1h-46.9zM191.8 1249h46.9v3h-46.9zM191.8 1256h46.9v2h-46.9zM238.7 954h46.9v3h-46.9zM238.7 1031h46.9v3h-46.9zM238.7 1065h46.9v2h-46.9zM238.7 1070h46.9v4h-46.9zM238.7 1085h46.9v2h-46.9zM238.7 1095h46.9v2h-46.9zM238.7 1101h46.9v2h-46.9zM238.7 1125h46.9v4h-46.9zM238.7 1135h46.9v2h-46.9zM238.7 1139h46.9v3h-46.9zM238.7 1151h46.9v1h-46.9zM238.7 1163h46.9v5h-46.9zM238.7 1171h46.9v1h-46.9zM238.7 1178h46.9v3h-46.9zM238.7 1188h46.9v2h-46.9zM238.7 1212h46.9v2h-46.9zM238.7 1216h46.9v3h-46.9zM238.7 1259h46.9v2h-46.9zM238.7 1304h46.9v3h-46.9zM238.7 1312h46.9v13h-46.9zM238.7 1327h46.9v4h-46.9zM238.7 1333h46.9v5h-46.9zM238.7 1340h46.9v2h-46.9zM238.7 1350h46.9v14h-46.9zM332.5 897h46.9v2h-46.9zM332.5 901h46.9v1h-46.9zM332.5 905h46.9v2h-46.9zM332.5 909h46.9v2h-46.9zM332.5 914h46.9v3h-46.9zM332.5 931h46.9v3h-46.9zM332.5 936h46.9v2h-46.9zM332.5 955h46.9v5h-46.9zM332.5 962h46.9v6h-46.9zM332.5 970h46.9v14h-46.9zM332.5 985h46.9v16h-46.9zM332.5 1102h46.9v4h-46.9zM332.5 1108h46.9v1h-46.9zM332.5 1116h46.9v4h-46.9zM332.5 1126h46.9v2h-46.9zM332.5 1130h46.9v2h-46.9zM332.5 1141h46.9v2h-46.9zM332.5 1255h46.9v3h-46.9zM332.5 1278h46.9v2h-46.9zM332.5 1282h46.9v3h-46.9zM332.5 1307h46.9v9h-46.9zM332.5 1317h46.9v6h-46.9zM332.5 1324h46.9v3h-46.9zM332.5 1329h46.9v37h-46.9zM332.5 1367h46.9v4h-46.9zM332.5 1372h46.9v2h-46.9zM379.4 897h46.9v3h-46.9zM379.4 902h46.9v3h-46.9zM379.4 907h46.9v3h-46.9zM379.4 914h46.9v3h-46.9zM379.4 931h46.9v7h-46.9zM379.4 954h46.9v8h-46.9zM379.4 964h46.9v4h-46.9zM379.4 970h46.9v31h-46.9zM379.4 1100h46.9v6h-46.9zM379.4 1124h46.9v8h-46.9zM379.4 1141h46.9v2h-46.9zM379.4 1255h46.9v3h-46.9zM379.4 1278h46.9v3h-46.9zM379.4 1283h46.9v2h-46.9zM379.4 1287h46.9v3h-46.9zM379.4 1306h46.9v7h-46.9zM379.4 1315h46.9v3h-46.9zM379.4 1320h46.9v3h-46.9zM379.4 1329h46.9v4h-46.9zM379.4 1335h46.9v2h-46.9zM379.4 1338h46.9v17h-46.9zM379.4 1356h46.9v2h-46.9zM379.4 1360h46.9v1h-46.9zM379.4 1363h46.9v3h-46.9zM379.4 1367h46.9v4h-46.9zM379.4 1372h46.9v2h-46.9zM426.3 898h46.9v6h-46.9zM426.3 983h46.9v18h-46.9zM426.3 1115h46.9v4h-46.9zM426.3 1247h46.9v4h-46.9zM426.3 1253h46.9v3h-46.9zM426.3 1282h46.9v2h-46.9zM426.3 1307h46.9v5h-46.9zM426.3 1314h46.9v2h-46.9zM426.3 1317h46.9v5h-46.9zM426.3 1329h46.9v9h-46.9zM426.3 1339h46.9v25h-46.9zM426.3 1371h46.9v2h-46.9zM473.2 1018h46.9v2h-46.9zM473.2 1280h46.9v3h-46.9zM473.2 1284h46.9v16h-46.9zM473.2 1302h46.9v5h-46.9zM473.2 1367h46.9v3h-46.9zM520.1 897h46.9v7h-46.9zM520.1 907h46.9v5h-46.9zM520.1 914h46.9v4h-46.9zM520.1 920h46.9v6h-46.9zM520.1 929h46.9v10h-46.9zM520.1 942h46.9v9h-46.9zM520.1 954h46.9v10h-46.9zM520.1 966h46.9v3h-46.9zM520.1 970h46.9v31h-46.9zM520.1 1007h46.9v1h-46.9zM520.1 1021h46.9v3h-46.9zM520.1 1040h46.9v3h-46.9zM520.1 1115h46.9v18h-46.9zM520.1 1140h46.9v5h-46.9zM520.1 1151h46.9v1h-46.9zM520.1 1205h46.9v3h-46.9zM520.1 1218h46.9v3h-46.9zM520.1 1238h46.9v1h-46.9zM520.1 1250h46.9v8h-46.9zM520.1 1259h46.9v3h-46.9zM520.1 1282h46.9v4h-46.9zM520.1 1288h46.9v2h-46.9zM520.1 1364h46.9v7h-46.9zM520.1 1372h46.9v3h-46.9zM567 897h46.9v5h-46.9zM567 911h46.9v5h-46.9zM567 949h46.9v2h-46.9zM567 988h46.9v2h-46.9zM567 996h46.9v5h-46.9zM567 1020h46.9v18h-46.9zM567 1041h46.9v1h-46.9zM567 1074h46.9v4h-46.9zM567 1082h46.9v5h-46.9zM567 1103h46.9v3h-46.9zM567 1113h46.9v2h-46.9zM567 1152h46.9v2h-46.9zM567 1159h46.9v3h-46.9zM567 1164h46.9v6h-46.9zM567 1173h46.9v2h-46.9zM567 1262h46.9v3h-46.9zM567 1266h46.9v3h-46.9zM567 1276h46.9v4h-46.9zM567 1287h46.9v4h-46.9zM567 1306h46.9v59h-46.9zM613.9 897h46.9v2h-46.9zM613.9 907h46.9v1h-46.9zM613.9 1019h46.9v23h-46.9zM613.9 1058h46.9v3h-46.9zM613.9 1074h46.9v20h-46.9zM613.9 1103h46.9v3h-46.9zM613.9 1158h46.9v5h-46.9zM613.9 1165h46.9v4h-46.9zM613.9 1170h46.9v7h-46.9zM613.9 1262h46.9v3h-46.9zM613.9 1267h46.9v2h-46.9zM613.9 1270h46.9v6h-46.9zM613.9 1280h46.9v24h-46.9zM613.9 1306h46.9v1h-46.9zM613.9 1311h46.9v8h-46.9zM613.9 1321h46.9v3h-46.9zM613.9 1328h46.9v3h-46.9zM613.9 1333h46.9v2h-46.9zM613.9 1336h46.9v2h-46.9zM613.9 1340h46.9v2h-46.9zM613.9 1354h46.9v7h-46.9zM613.9 1367h46.9v9h-46.9z"/>
<path fill="#3e9a4c" shape-rendering="crispEdges" d="M98 895h46.9v4h-46.9zM98 903h46.9v18h-46.9zM98 923h46.9v12h-46.9zM98 937h46.9v20h-46.9zM98 959h46.9v17h-46.9zM98 978h46.9v6h-46.9zM98 988h46.9v3h-46.9zM98 992h46.9v2h-46.9zM98 998h46.9v2h-46.9zM98 1005h46.9v4h-46.9zM98 1010h46.9v2h-46.9zM98 1019h46.9v8h-46.9zM98 1041h46.9v2h-46.9zM98 1100h46.9v22h-46.9zM98 1126h46.9v1h-46.9zM98 1128h46.9v12h-46.9zM98 1142h46.9v9h-46.9zM98 1153h46.9v6h-46.9zM98 1162h46.9v11h-46.9zM98 1175h46.9v2h-46.9zM98 1178h46.9v30h-46.9zM98 1210h46.9v3h-46.9zM98 1215h46.9v41h-46.9zM98 1257h46.9v5h-46.9zM98 1304h46.9v2h-46.9zM98 1308h46.9v4h-46.9zM98 1339h46.9v2h-46.9zM98 1348h46.9v2h-46.9zM98 1365h46.9v2h-46.9zM144.9 903h46.9v4h-46.9zM144.9 910h46.9v1h-46.9zM144.9 912h46.9v2h-46.9zM144.9 916h46.9v4h-46.9zM144.9 927h46.9v3h-46.9zM144.9 938h46.9v5h-46.9zM144.9 945h46.9v1h-46.9zM144.9 948h46.9v1h-46.9zM144.9 951h46.9v4h-46.9zM144.9 965h46.9v1h-46.9zM144.9 974h46.9v1h-46.9zM144.9 1004h46.9v5h-46.9zM144.9 1017h46.9v2h-46.9zM144.9 1022h46.9v3h-46.9zM144.9 1041h46.9v2h-46.9zM144.9 1100h46.9v1h-46.9zM144.9 1104h46.9v4h-46.9zM144.9 1109h46.9v2h-46.9zM144.9 1113h46.9v2h-46.9zM144.9 1117h46.9v1h-46.9zM144.9 1120h46.9v1h-46.9zM144.9 1132h46.9v2h-46.9zM144.9 1136h46.9v4h-46.9zM144.9 1141h46.9v2h-46.9zM144.9 1145h46.9v4h-46.9zM144.9 1153h46.9v1h-46.9zM144.9 1155h46.9v3h-46.9zM144.9 1162h46.9v11h-46.9zM144.9 1178h46.9v11h-46.9zM144.9 1190h46.9v19h-46.9zM144.9 1216h46.9v1h-46.9zM144.9 1218h46.9v20h-46.9zM144.9 1240h46.9v7h-46.9zM144.9 1248h46.9v2h-46.9zM144.9 1254h46.9v2h-46.9zM144.9 1258h46.9v2h-46.9zM144.9 1304h46.9v2h-46.9zM144.9 1308h46.9v4h-46.9zM144.9 1339h46.9v2h-46.9zM144.9 1348h46.9v1h-46.9zM144.9 1365h46.9v2h-46.9zM191.8 895h46.9v2h-46.9zM191.8 904h46.9v16h-46.9zM191.8 925h46.9v6h-46.9zM191.8 933h46.9v1h-46.9zM191.8 937h46.9v17h-46.9zM191.8 959h46.9v1h-46.9zM191.8 962h46.9v1h-46.9zM191.8 966h46.9v6h-46.9zM191.8 974h46.9v2h-46.9zM191.8 979h46.9v3h-46.9zM191.8 999h46.9v4h-46.9zM191.8 1005h46.9v4h-46.9zM191.8 1018h46.9v9h-46.9zM191.8 1035h46.9v2h-46.9zM191.8 1041h46.9v1h-46.9zM191.8 1062h46.9v1h-46.9zM191.8 1100h46.9v4h-46.9zM191.8 1105h46.9v18h-46.9zM191.8 1131h46.9v4h-46.9zM191.8 1136h46.9v4h-46.9zM191.8 1142h46.9v8h-46.9zM191.8 1153h46.9v6h-46.9zM191.8 1161h46.9v12h-46.9zM191.8 1175h46.9v2h-46.9zM191.8 1178h46.9v32h-46.9zM191.8 1211h46.9v3h-46.9zM191.8 1215h46.9v34h-46.9zM191.8 1252h46.9v4h-46.9zM191.8 1258h46.9v4h-46.9zM191.8 1279h46.9v2h-46.9zM191.8 1304h46.9v2h-46.9zM191.8 1308h46.9v4h-46.9zM191.8 1339h46.9v2h-46.9zM191.8 1348h46.9v2h-46.9zM238.7 904h46.9v2h-46.9zM238.7 912h46.9v3h-46.9zM238.7 924h46.9v4h-46.9zM238.7 936h46.9v3h-46.9zM238.7 942h46.9v3h-46.9zM238.7 947h46.9v2h-46.9zM238.7 957h46.9v6h-46.9zM238.7 965h46.9v6h-46.9zM238.7 975h46.9v6h-46.9zM238.7 1005h46.9v2h-46.9zM238.7 1018h46.9v2h-46.9zM238.7 1037h46.9v2h-46.9zM238.7 1043h46.9v2h-46.9zM238.7 1047h46.9v1h-46.9zM238.7 1051h46.9v2h-46.9zM238.7 1077h46.9v2h-46.9zM238.7 1081h46.9v2h-46.9zM238.7 1091h46.9v3h-46.9zM238.7 1097h46.9v2h-46.9zM238.7 1103h46.9v3h-46.9zM238.7 1111h46.9v2h-46.9zM238.7 1121h46.9v4h-46.9zM238.7 1129h46.9v4h-46.9zM238.7 1137h46.9v2h-46.9zM238.7 1144h46.9v7h-46.9zM238.7 1162h46.9v1h-46.9zM238.7 1168h46.9v1h-46.9zM238.7 1170h46.9v1h-46.9zM238.7 1173h46.9v5h-46.9zM238.7 1181h46.9v1h-46.9zM238.7 1183h46.9v2h-46.9zM238.7 1187h46.9v1h-46.9zM238.7 1192h46.9v16h-46.9zM238.7 1210h46.9v2h-46.9zM238.7 1222h46.9v3h-46.9zM238.7 1230h46.9v3h-46.9zM238.7 1237h46.9v2h-46.9zM238.7 1242h46.9v2h-46.9zM238.7 1256h46.9v1h-46.9zM238.7 1268h46.9v1h-46.9zM238.7 1270h46.9v1h-46.9zM238.7 1280h46.9v1h-46.9zM238.7 1338h46.9v2h-46.9zM238.7 1342h46.9v8h-46.9zM285.6 897h46.9v7h-46.9zM285.6 906h46.9v12h-46.9zM285.6 920h46.9v5h-46.9zM285.6 927h46.9v8h-46.9zM285.6 936h46.9v1h-46.9zM285.6 938h46.9v2h-46.9zM285.6 941h46.9v1h-46.9zM285.6 943h46.9v3h-46.9zM285.6 948h46.9v3h-46.9zM285.6 953h46.9v2h-46.9zM285.6 957h46.9v3h-46.9zM285.6 963h46.9v3h-46.9zM285.6 968h46.9v1h-46.9zM285.6 974h46.9v4h-46.9zM285.6 980h46.9v21h-46.9zM285.6 1003h46.9v2h-46.9zM285.6 1007h46.9v1h-46.9zM285.6 1019h46.9v4h-46.9zM285.6 1024h46.9v2h-46.9zM285.6 1028h46.9v2h-46.9zM285.6 1036h46.9v2h-46.9zM285.6 1041h46.9v2h-46.9zM285.6 1067h46.9v2h-46.9zM285.6 1089h46.9v1h-46.9zM285.6 1099h46.9v2h-46.9zM285.6 1103h46.9v3h-46.9zM285.6 1108h46.9v4h-46.9zM285.6 1113h46.9v2h-46.9zM285.6 1117h46.9v3h-46.9zM285.6 1133h46.9v2h-46.9zM285.6 1152h46.9v2h-46.9zM285.6 1158h46.9v1h-46.9zM285.6 1161h46.9v1h-46.9zM285.6 1167h46.9v1h-46.9zM285.6 1169h46.9v1h-46.9zM285.6 1181h46.9v2h-46.9zM285.6 1185h46.9v2h-46.9zM285.6 1190h46.9v2h-46.9zM285.6 1194h46.9v2h-46.9zM285.6 1197h46.9v1h-46.9zM285.6 1200h46.9v1h-46.9zM285.6 1206h46.9v2h-46.9zM285.6 1209h46.9v1h-46.9zM285.6 1215h46.9v1h-46.9zM285.6 1228h46.9v1h-46.9zM285.6 1230h46.9v1h-46.9zM285.6 1233h46.9v1h-46.9zM285.6 1236h46.9v2h-46.9zM285.6 1247h46.9v7h-46.9zM285.6 1255h46.9v3h-46.9zM285.6 1263h46.9v2h-46.9zM285.6 1273h46.9v7h-46.9zM285.6 1308h46.9v5h-46.9zM285.6 1320h46.9v1h-46.9zM285.6 1323h46.9v5h-46.9zM285.6 1331h46.9v2h-46.9zM285.6 1335h46.9v2h-46.9zM285.6 1338h46.9v15h-46.9zM285.6 1359h46.9v3h-46.9zM285.6 1364h46.9v3h-46.9zM332.5 899h46.9v2h-46.9zM332.5 902h46.9v3h-46.9zM332.5 907h46.9v2h-46.9zM332.5 911h46.9v3h-46.9zM332.5 920h46.9v7h-46.9zM332.5 928h46.9v3h-46.9zM332.5 942h46.9v7h-46.9zM332.5 953h46.9v2h-46.9zM332.5 960h46.9v2h-46.9zM332.5 968h46.9v2h-46.9zM332.5 984h46.9v1h-46.9zM332.5 1023h46.9v2h-46.9zM332.5 1109h46.9v6h-46.9zM332.5 1121h46.9v3h-46.9zM332.5 1132h46.9v9h-46.9zM332.5 1144h46.9v7h-46.9zM332.5 1178h46.9v2h-46.9zM332.5 1192h46.9v5h-46.9zM332.5 1201h46.9v2h-46.9zM332.5 1205h46.9v2h-46.9zM332.5 1228h46.9v2h-46.9zM332.5 1245h46.9v2h-46.9zM332.5 1259h46.9v2h-46.9zM332.5 1276h46.9v2h-46.9zM332.5 1287h46.9v3h-46.9zM332.5 1303h46.9v2h-46.9zM332.5 1316h46.9v1h-46.9zM332.5 1323h46.9v1h-46.9zM332.5 1327h46.9v2h-46.9zM332.5 1366h46.9v1h-46.9zM332.5 1376h46.9v2h-46.9zM379.4 900h46.9v2h-46.9zM379.4 905h46.9v2h-46.9zM379.4 910h46.9v4h-46.9zM379.4 920h46.9v11h-46.9zM379.4 938h46.9v16h-46.9zM379.4 962h46.9v2h-46.9zM379.4 968h46.9v2h-46.9zM379.4 1020h46.9v2h-46.9zM379.4 1024h46.9v2h-46.9zM379.4 1108h46.9v16h-46.9zM379.4 1132h46.9v9h-46.9zM379.4 1144h46.9v7h-46.9zM379.4 1163h46.9v2h-46.9zM379.4 1178h46.9v2h-46.9zM379.4 1191h46.9v2h-46.9zM379.4 1194h46.9v9h-46.9zM379.4 1207h46.9v2h-46.9zM379.4 1228h46.9v5h-46.9zM379.4 1245h46.9v3h-46.9zM379.4 1251h46.9v3h-46.9zM379.4 1258h46.9v2h-46.9zM379.4 1276h46.9v2h-46.9zM379.4 1285h46.9v2h-46.9zM379.4 1293h46.9v4h-46.9zM379.4 1313h46.9v2h-46.9zM379.4 1318h46.9v2h-46.9zM379.4 1323h46.9v6h-46.9zM379.4 1333h46.9v2h-46.9zM379.4 1337h46.9v1h-46.9zM379.4 1355h46.9v1h-46.9zM379.4 1358h46.9v2h-46.9zM379.4 1361h46.9v2h-46.9zM379.4 1366h46.9v1h-46.9zM379.4 1376h46.9v2h-46.9zM426.3 909h46.9v2h-46.9zM426.3 915h46.9v2h-46.9zM426.3 919h46.9v4h-46.9zM426.3 930h46.9v5h-46.9zM426.3 944h46.9v2h-46.9zM426.3 948h46.9v3h-46.9zM426.3 954h46.9v2h-46.9zM426.3 958h46.9v3h-46.9zM426.3 963h46.9v3h-46.9zM426.3 971h46.9v3h-46.9zM426.3 977h46.9v4h-46.9zM426.3 1004h46.9v1h-46.9zM426.3 1020h46.9v1h-46.9zM426.3 1023h46.9v3h-46.9zM426.3 1041h46.9v2h-46.9zM426.3 1124h46.9v2h-46.9zM426.3 1130h46.9v2h-46.9zM426.3 1134h46.9v2h-46.9zM426.3 1143h46.9v2h-46.9zM426.3 1151h46.9v1h-46.9zM426.3 1193h46.9v3h-46.9zM426.3 1227h46.9v2h-46.9zM426.3 1231h46.9v3h-46.9zM426.3 1239h46.9v3h-46.9zM426.3 1251h46.9v2h-46.9zM426.3 1256h46.9v2h-46.9zM426.3 1259h46.9v3h-46.9zM426.3 1289h46.9v1h-46.9zM426.3 1312h46.9v2h-46.9zM426.3 1324h46.9v2h-46.9zM426.3 1338h46.9v1h-46.9zM426.3 1364h46.9v3h-46.9zM426.3 1369h46.9v2h-46.9zM473.2 895h46.9v12h-46.9zM473.2 909h46.9v14h-46.9zM473.2 926h46.9v5h-46.9zM473.2 933h46.9v2h-46.9zM473.2 938h46.9v5h-46.9zM473.2 944h46.9v2h-46.9zM473.2 948h46.9v4h-46.9zM473.2 953h46.9v3h-46.9zM473.2 958h46.9v2h-46.9zM473.2 964h46.9v4h-46.9zM473.2 969h46.9v3h-46.9zM473.2 974h46.9v2h-46.9zM473.2 980h46.9v4h-46.9zM473.2 985h46.9v17h-46.9zM473.2 1004h46.9v4h-46.9zM473.2 1011h46.9v7h-46.9zM473.2 1020h46.9v4h-46.9zM473.2 1025h46.9v21h-46.9zM473.2 1050h46.9v50h-46.9zM473.2 1102h46.9v6h-46.9zM473.2 1109h46.9v2h-46.9zM473.2 1113h46.9v6h-46.9zM473.2 1125h46.9v2h-46.9zM473.2 1137h46.9v1h-46.9zM473.2 1142h46.9v5h-46.9zM473.2 1151h46.9v3h-46.9zM473.2 1156h46.9v6h-46.9zM473.2 1164h46.9v17h-46.9zM473.2 1185h46.9v4h-46.9zM473.2 1191h46.9v11h-46.9zM473.2 1207h46.9v5h-46.9zM473.2 1214h46.9v8h-46.9zM473.2 1228h46.9v3h-46.9zM473.2 1233h46.9v7h-46.9zM473.2 1245h46.9v3h-46.9zM473.2 1250h46.9v1h-46.9zM473.2 1253h46.9v5h-46.9zM473.2 1260h46.9v16h-46.9zM473.2 1283h46.9v1h-46.9zM473.2 1300h46.9v2h-46.9zM473.2 1364h46.9v3h-46.9zM473.2 1370h46.9v8h-46.9zM520.1 895h46.9v2h-46.9zM520.1 904h46.9v3h-46.9zM520.1 912h46.9v2h-46.9zM520.1 918h46.9v2h-46.9zM520.1 926h46.9v3h-46.9zM520.1 939h46.9v3h-46.9zM520.1 951h46.9v3h-46.9zM520.1 964h46.9v2h-46.9zM520.1 969h46.9v1h-46.9zM520.1 1004h46.9v3h-46.9zM520.1 1100h46.9v15h-46.9zM520.1 1133h46.9v7h-46.9zM520.1 1145h46.9v6h-46.9zM520.1 1155h46.9v2h-46.9zM520.1 1162h46.9v3h-46.9zM520.1 1169h46.9v2h-46.9zM520.1 1178h46.9v6h-46.9zM520.1 1185h46.9v8h-46.9zM520.1 1195h46.9v7h-46.9zM520.1 1217h46.9v1h-46.9zM520.1 1223h46.9v11h-46.9zM520.1 1247h46.9v3h-46.9zM520.1 1293h46.9v3h-46.9zM520.1 1303h46.9v2h-46.9zM520.1 1371h46.9v1h-46.9zM567 903h46.9v8h-46.9zM567 945h46.9v2h-46.9zM567 975h46.9v3h-46.9zM567 980h46.9v4h-46.9zM567 995h46.9v1h-46.9zM567 1065h46.9v6h-46.9zM567 1089h46.9v4h-46.9zM567 1108h46.9v4h-46.9zM567 1151h46.9v1h-46.9zM567 1186h46.9v2h-46.9zM567 1196h46.9v2h-46.9zM567 1200h46.9v2h-46.9zM567 1249h46.9v1h-46.9zM567 1282h46.9v2h-46.9zM567 1299h46.9v3h-46.9zM567 1367h46.9v2h-46.9zM613.9 899h46.9v3h-46.9zM613.9 911h46.9v2h-46.9zM613.9 915h46.9v2h-46.9zM613.9 1057h46.9v1h-46.9zM613.9 1064h46.9v9h-46.9zM613.9 1106h46.9v9h-46.9zM613.9 1151h46.9v2h-46.9zM613.9 1155h46.9v3h-46.9zM613.9 1185h46.9v3h-46.9zM613.9 1197h46.9v2h-46.9zM613.9 1201h46.9v2h-46.9zM613.9 1324h46.9v4h-46.9zM613.9 1350h46.9v2h-46.9zM613.9 1363h46.9v2h-46.9zM613.9 1376h46.9v2h-46.9z"/>
<path fill="#000000" shape-rendering="crispEdges" d="M98 1003h46.9v2h-46.9zM98 1009h46.9v1h-46.9zM98 1014h46.9v2h-46.9zM98 1017h46.9v2h-46.9zM98 1027h46.9v14h-46.9zM98 1043h46.9v32h-46.9zM98 1080h46.9v3h-46.9zM98 1084h46.9v3h-46.9zM98 1088h46.9v3h-46.9zM98 1094h46.9v1h-46.9zM98 1097h46.9v1h-46.9zM98 1152h46.9v1h-46.9zM98 1159h46.9v3h-46.9zM98 1173h46.9v2h-46.9zM98 1177h46.9v1h-46.9zM98 1208h46.9v2h-46.9zM98 1213h46.9v2h-46.9zM98 1262h46.9v1h-46.9zM98 1312h46.9v1h-46.9zM98 1331h46.9v3h-46.9zM98 1341h46.9v7h-46.9zM98 1350h46.9v4h-46.9zM98 1355h46.9v3h-46.9zM98 1360h46.9v1h-46.9zM98 1364h46.9v1h-46.9zM98 1375h46.9v2h-46.9zM144.9 1002h46.9v2h-46.9zM144.9 1009h46.9v2h-46.9zM144.9 1019h46.9v2h-46.9zM144.9 1025h46.9v14h-46.9zM144.9 1040h46.9v1h-46.9zM144.9 1043h46.9v15h-46.9zM144.9 1060h46.9v14h-46.9zM144.9 1079h46.9v2h-46.9zM144.9 1087h46.9v2h-46.9zM144.9 1097h46.9v1h-46.9zM144.9 1151h46.9v2h-46.9zM144.9 1154h46.9v1h-46.9zM144.9 1158h46.9v4h-46.9zM144.9 1173h46.9v5h-46.9zM144.9 1209h46.9v7h-46.9zM144.9 1217h46.9v1h-46.9zM144.9 1238h46.9v2h-46.9zM144.9 1312h46.9v1h-46.9zM144.9 1331h46.9v2h-46.9zM144.9 1343h46.9v2h-46.9zM144.9 1349h46.9v4h-46.9zM144.9 1356h46.9v1h-46.9zM144.9 1364h46.9v1h-46.9zM144.9 1375h46.9v2h-46.9zM191.8 1003h46.9v2h-46.9zM191.8 1009h46.9v1h-46.9zM191.8 1011h46.9v7h-46.9zM191.8 1027h46.9v8h-46.9zM191.8 1037h46.9v4h-46.9zM191.8 1042h46.9v20h-46.9zM191.8 1063h46.9v12h-46.9zM191.8 1080h46.9v7h-46.9zM191.8 1088h46.9v3h-46.9zM191.8 1094h46.9v1h-46.9zM191.8 1096h46.9v4h-46.9zM191.8 1151h46.9v2h-46.9zM191.8 1159h46.9v2h-46.9zM191.8 1173h46.9v2h-46.9zM191.8 1177h46.9v1h-46.9zM191.8 1210h46.9v1h-46.9zM191.8 1214h46.9v1h-46.9zM191.8 1262h46.9v1h-46.9zM191.8 1312h46.9v1h-46.9zM191.8 1331h46.9v3h-46.9zM191.8 1341h46.9v7h-46.9zM191.8 1350h46.9v4h-46.9zM191.8 1356h46.9v2h-46.9zM191.8 1360h46.9v1h-46.9zM238.7 901h46.9v3h-46.9zM238.7 906h46.9v6h-46.9zM238.7 917h46.9v3h-46.9zM238.7 928h46.9v8h-46.9zM238.7 939h46.9v3h-46.9zM238.7 945h46.9v2h-46.9zM238.7 949h46.9v5h-46.9zM238.7 963h46.9v2h-46.9zM238.7 971h46.9v4h-46.9zM238.7 981h46.9v3h-46.9zM238.7 992h46.9v2h-46.9zM238.7 1020h46.9v1h-46.9zM238.7 1023h46.9v1h-46.9zM238.7 1027h46.9v2h-46.9zM238.7 1034h46.9v1h-46.9zM238.7 1045h46.9v2h-46.9zM238.7 1048h46.9v3h-46.9zM238.7 1053h46.9v3h-46.9zM238.7 1057h46.9v1h-46.9zM238.7 1059h46.9v6h-46.9zM238.7 1069h46.9v1h-46.9zM238.7 1074h46.9v3h-46.9zM238.7 1079h46.9v2h-46.9zM238.7 1083h46.9v2h-46.9zM238.7 1090h46.9v1h-46.9zM238.7 1094h46.9v1h-46.9zM238.7 1108h46.9v3h-46.9zM238.7 1113h46.9v2h-46.9zM238.7 1118h46.9v3h-46.9zM238.7 1133h46.9v2h-46.9zM238.7 1142h46.9v2h-46.9zM238.7 1153h46.9v7h-46.9zM238.7 1169h46.9v1h-46.9zM238.7 1172h46.9v1h-46.9zM238.7 1190h46.9v2h-46.9zM238.7 1208h46.9v2h-46.9zM238.7 1214h46.9v2h-46.9zM238.7 1219h46.9v3h-46.9zM238.7 1228h46.9v2h-46.9zM238.7 1235h46.9v2h-46.9zM238.7 1241h46.9v1h-46.9zM238.7 1244h46.9v2h-46.9zM238.7 1254h46.9v2h-46.9zM238.7 1266h46.9v2h-46.9zM238.7 1277h46.9v2h-46.9zM238.7 1303h46.9v1h-46.9zM238.7 1325h46.9v2h-46.9zM238.7 1331h46.9v2h-46.9zM238.7 1375h46.9v2h-46.9zM285.6 895h46.9v2h-46.9zM285.6 904h46.9v2h-46.9zM285.6 918h46.9v2h-46.9zM285.6 925h46.9v2h-46.9zM285.6 935h46.9v1h-46.9zM285.6 937h46.9v1h-46.9zM285.6 940h46.9v1h-46.9zM285.6 942h46.9v1h-46.9zM285.6 946h46.9v2h-46.9zM285.6 951h46.9v2h-46.9zM285.6 955h46.9v2h-46.9zM285.6 960h46.9v3h-46.9zM285.6 966h46.9v2h-46.9zM285.6 969h46.9v5h-46.9zM285.6 978h46.9v2h-46.9zM285.6 1009h46.9v6h-46.9zM285.6 1018h46.9v1h-46.9zM285.6 1023h46.9v1h-46.9zM285.6 1026h46.9v2h-46.9zM285.6 1030h46.9v6h-46.9zM285.6 1038h46.9v3h-46.9zM285.6 1045h46.9v22h-46.9zM285.6 1069h46.9v20h-46.9zM285.6 1090h46.9v3h-46.9zM285.6 1095h46.9v4h-46.9zM285.6 1106h46.9v2h-46.9zM285.6 1112h46.9v1h-46.9zM285.6 1115h46.9v2h-46.9zM285.6 1120h46.9v13h-46.9zM285.6 1135h46.9v17h-46.9zM285.6 1154h46.9v4h-46.9zM285.6 1159h46.9v2h-46.9zM285.6 1162h46.9v5h-46.9zM285.6 1168h46.9v1h-46.9zM285.6 1170h46.9v8h-46.9zM285.6 1179h46.9v2h-46.9zM285.6 1183h46.9v2h-46.9zM285.6 1187h46.9v3h-46.9zM285.6 1192h46.9v2h-46.9zM285.6 1196h46.9v1h-46.9zM285.6 1198h46.9v2h-46.9zM285.6 1201h46.9v5h-46.9zM285.6 1208h46.9v1h-46.9zM285.6 1210h46.9v5h-46.9zM285.6 1216h46.9v9h-46.9zM285.6 1227h46.9v1h-46.9zM285.6 1229h46.9v1h-46.9zM285.6 1231h46.9v2h-46.9zM285.6 1234h46.9v2h-46.9zM285.6 1238h46.9v9h-46.9zM285.6 1254h46.9v1h-46.9zM285.6 1258h46.9v3h-46.9zM285.6 1265h46.9v8h-46.9zM285.6 1282h46.9v2h-46.9zM285.6 1306h46.9v2h-46.9zM285.6 1321h46.9v2h-46.9zM285.6 1328h46.9v3h-46.9zM285.6 1333h46.9v2h-46.9zM285.6 1337h46.9v1h-46.9zM285.6 1353h46.9v1h-46.9zM285.6 1357h46.9v2h-46.9zM285.6 1362h46.9v2h-46.9zM285.6 1370h46.9v2h-46.9zM285.6 1375h46.9v3h-46.9zM332.5 917h46.9v3h-46.9zM332.5 927h46.9v1h-46.9zM332.5 934h46.9v2h-46.9zM332.5 938h46.9v4h-46.9zM332.5 949h46.9v4h-46.9zM332.5 1001h46.9v2h-46.9zM332.5 1019h46.9v4h-46.9zM332.5 1101h46.9v1h-46.9zM332.5 1106h46.9v2h-46.9zM332.5 1115h46.9v1h-46.9zM332.5 1120h46.9v1h-46.9zM332.5 1124h46.9v2h-46.9zM332.5 1128h46.9v2h-46.9zM332.5 1143h46.9v1h-46.9zM332.5 1162h46.9v5h-46.9zM332.5 1170h46.9v1h-46.9zM332.5 1180h46.9v2h-46.9zM332.5 1187h46.9v5h-46.9zM332.5 1197h46.9v4h-46.9zM332.5 1203h46.9v2h-46.9zM332.5 1207h46.9v2h-46.9zM332.5 1218h46.9v4h-46.9zM332.5 1226h46.9v2h-46.9zM332.5 1230h46.9v3h-46.9zM332.5 1235h46.9v2h-46.9zM332.5 1240h46.9v1h-46.9zM332.5 1247h46.9v2h-46.9zM332.5 1251h46.9v4h-46.9zM332.5 1285h46.9v2h-46.9zM332.5 1290h46.9v3h-46.9zM332.5 1296h46.9v1h-46.9zM379.4 895h46.9v2h-46.9zM379.4 917h46.9v3h-46.9zM379.4 1001h46.9v2h-46.9zM379.4 1019h46.9v1h-46.9zM379.4 1022h46.9v2h-46.9zM379.4 1106h46.9v2h-46.9zM379.4 1143h46.9v1h-46.9zM379.4 1156h46.9v2h-46.9zM379.4 1160h46.9v3h-46.9zM379.4 1165h46.9v2h-46.9zM379.4 1169h46.9v1h-46.9zM379.4 1173h46.9v1h-46.9zM379.4 1180h46.9v2h-46.9zM379.4 1184h46.9v7h-46.9zM379.4 1193h46.9v1h-46.9zM379.4 1203h46.9v4h-46.9zM379.4 1209h46.9v1h-46.9zM379.4 1216h46.9v8h-46.9zM379.4 1226h46.9v2h-46.9zM379.4 1233h46.9v1h-46.9zM379.4 1236h46.9v1h-46.9zM379.4 1239h46.9v2h-46.9zM379.4 1249h46.9v1h-46.9zM379.4 1254h46.9v1h-46.9zM379.4 1260h46.9v2h-46.9zM379.4 1290h46.9v3h-46.9zM379.4 1303h46.9v1h-46.9zM379.4 1374h46.9v2h-46.9zM426.3 907h46.9v2h-46.9zM426.3 917h46.9v2h-46.9zM426.3 923h46.9v3h-46.9zM426.3 929h46.9v1h-46.9zM426.3 936h46.9v2h-46.9zM426.3 939h46.9v5h-46.9zM426.3 946h46.9v2h-46.9zM426.3 951h46.9v3h-46.9zM426.3 956h46.9v2h-46.9zM426.3 961h46.9v2h-46.9zM426.3 966h46.9v4h-46.9zM426.3 974h46.9v3h-46.9zM426.3 981h46.9v2h-46.9zM426.3 1001h46.9v3h-46.9zM426.3 1008h46.9v2h-46.9zM426.3 1011h46.9v2h-46.9zM426.3 1021h46.9v2h-46.9zM426.3 1030h46.9v1h-46.9zM426.3 1038h46.9v3h-46.9zM426.3 1054h46.9v1h-46.9zM426.3 1103h46.9v2h-46.9zM426.3 1107h46.9v2h-46.9zM426.3 1111h46.9v4h-46.9zM426.3 1122h46.9v2h-46.9zM426.3 1132h46.9v2h-46.9zM426.3 1140h46.9v3h-46.9zM426.3 1145h46.9v6h-46.9zM426.3 1158h46.9v3h-46.9zM426.3 1166h46.9v2h-46.9zM426.3 1181h46.9v5h-46.9zM426.3 1190h46.9v3h-46.9zM426.3 1196h46.9v2h-46.9zM426.3 1200h46.9v6h-46.9zM426.3 1211h46.9v2h-46.9zM426.3 1221h46.9v2h-46.9zM426.3 1225h46.9v2h-46.9zM426.3 1229h46.9v2h-46.9zM426.3 1237h46.9v2h-46.9zM426.3 1245h46.9v2h-46.9zM426.3 1290h46.9v3h-46.9zM426.3 1295h46.9v2h-46.9zM426.3 1326h46.9v3h-46.9zM426.3 1373h46.9v2h-46.9zM473.2 907h46.9v2h-46.9zM473.2 923h46.9v3h-46.9zM473.2 931h46.9v2h-46.9zM473.2 935h46.9v3h-46.9zM473.2 943h46.9v1h-46.9zM473.2 946h46.9v2h-46.9zM473.2 952h46.9v1h-46.9zM473.2 956h46.9v2h-46.9zM473.2 960h46.9v4h-46.9zM473.2 968h46.9v1h-46.9zM473.2 972h46.9v2h-46.9zM473.2 976h46.9v4h-46.9zM473.2 984h46.9v1h-46.9zM473.2 1002h46.9v2h-46.9zM473.2 1008h46.9v3h-46.9zM473.2 1024h46.9v1h-46.9zM473.2 1046h46.9v4h-46.9zM473.2 1100h46.9v2h-46.9zM473.2 1108h46.9v1h-46.9zM473.2 1111h46.9v2h-46.9zM473.2 1119h46.9v6h-46.9zM473.2 1127h46.9v10h-46.9zM473.2 1138h46.9v4h-46.9zM473.2 1147h46.9v4h-46.9zM473.2 1154h46.9v2h-46.9zM473.2 1162h46.9v2h-46.9zM473.2 1181h46.9v4h-46.9zM473.2 1189h46.9v2h-46.9zM473.2 1202h46.9v5h-46.9zM473.2 1212h46.9v2h-46.9zM473.2 1222h46.9v6h-46.9zM473.2 1231h46.9v2h-46.9zM473.2 1240h46.9v5h-46.9zM473.2 1248h46.9v2h-46.9zM473.2 1251h46.9v2h-46.9zM473.2 1258h46.9v2h-46.9zM520.1 1001h46.9v3h-46.9zM520.1 1008h46.9v3h-46.9zM520.1 1018h46.9v3h-46.9zM520.1 1024h46.9v3h-46.9zM520.1 1030h46.9v1h-46.9zM520.1 1035h46.9v2h-46.9zM520.1 1061h46.9v2h-46.9zM520.1 1066h46.9v2h-46.9zM520.1 1072h46.9v1h-46.9zM520.1 1152h46.9v1h-46.9zM520.1 1157h46.9v5h-46.9zM520.1 1165h46.9v4h-46.9zM520.1 1171h46.9v4h-46.9zM520.1 1184h46.9v1h-46.9zM520.1 1193h46.9v2h-46.9zM520.1 1202h46.9v3h-46.9zM520.1 1208h46.9v3h-46.9zM520.1 1215h46.9v2h-46.9zM520.1 1221h46.9v2h-46.9zM520.1 1234h46.9v4h-46.9zM520.1 1239h46.9v3h-46.9zM520.1 1245h46.9v2h-46.9zM520.1 1258h46.9v1h-46.9zM520.1 1286h46.9v2h-46.9zM520.1 1290h46.9v3h-46.9zM520.1 1348h46.9v2h-46.9zM520.1 1375h46.9v3h-46.9zM567 902h46.9v1h-46.9zM567 922h46.9v2h-46.9zM567 936h46.9v2h-46.9zM567 940h46.9v2h-46.9zM567 947h46.9v2h-46.9zM567 954h46.9v2h-46.9zM567 958h46.9v2h-46.9zM567 964h46.9v2h-46.9zM567 973h46.9v2h-46.9zM567 978h46.9v2h-46.9zM567 986h46.9v2h-46.9zM567 990h46.9v5h-46.9zM567 1018h46.9v2h-46.9zM567 1038h46.9v3h-46.9zM567 1057h46.9v2h-46.9zM567 1062h46.9v3h-46.9zM567 1071h46.9v3h-46.9zM567 1078h46.9v4h-46.9zM567 1087h46.9v2h-46.9zM567 1106h46.9v2h-46.9zM567 1112h46.9v1h-46.9zM567 1115h46.9v4h-46.9zM567 1125h46.9v2h-46.9zM567 1129h46.9v3h-46.9zM567 1138h46.9v1h-46.9zM567 1147h46.9v2h-46.9zM567 1158h46.9v1h-46.9zM567 1162h46.9v2h-46.9zM567 1170h46.9v3h-46.9zM567 1175h46.9v3h-46.9zM567 1181h46.9v5h-46.9zM567 1194h46.9v2h-46.9zM567 1198h46.9v2h-46.9zM567 1204h46.9v4h-46.9zM567 1210h46.9v1h-46.9zM567 1213h46.9v3h-46.9zM567 1217h46.9v6h-46.9zM567 1256h46.9v2h-46.9zM567 1270h46.9v4h-46.9zM567 1284h46.9v3h-46.9zM567 1293h46.9v2h-46.9zM567 1298h46.9v1h-46.9zM567 1373h46.9v3h-46.9zM567 1377h46.9v1h-46.9zM613.9 902h46.9v5h-46.9zM613.9 908h46.9v3h-46.9zM613.9 913h46.9v2h-46.9zM613.9 947h46.9v2h-46.9zM613.9 976h46.9v2h-46.9zM613.9 989h46.9v1h-46.9zM613.9 1015h46.9v2h-46.9zM613.9 1042h46.9v3h-46.9zM613.9 1053h46.9v2h-46.9zM613.9 1061h46.9v3h-46.9zM613.9 1073h46.9v1h-46.9zM613.9 1094h46.9v6h-46.9zM613.9 1115h46.9v3h-46.9zM613.9 1132h46.9v4h-46.9zM613.9 1153h46.9v2h-46.9zM613.9 1163h46.9v2h-46.9zM613.9 1169h46.9v1h-46.9zM613.9 1177h46.9v2h-46.9zM613.9 1181h46.9v4h-46.9zM613.9 1195h46.9v2h-46.9zM613.9 1199h46.9v2h-46.9zM613.9 1203h46.9v3h-46.9zM613.9 1215h46.9v7h-46.9zM613.9 1248h46.9v2h-46.9zM613.9 1265h46.9v2h-46.9zM613.9 1269h46.9v1h-46.9zM613.9 1331h46.9v2h-46.9zM613.9 1335h46.9v1h-46.9zM613.9 1338h46.9v2h-46.9zM613.9 1344h46.9v6h-46.9zM613.9 1352h46.9v2h-46.9zM613.9 1361h46.9v2h-46.9z"/>
<path fill="#8c1b20" shape-rendering="crispEdges" d="M98 1016h46.9v1h-46.9zM98 1075h46.9v5h-46.9zM98 1083h46.9v1h-46.9zM98 1087h46.9v1h-46.9zM98 1091h46.9v3h-46.9zM98 1095h46.9v2h-46.9zM98 1098h46.9v2h-46.9zM98 1266h46.9v11h-46.9zM98 1282h46.9v2h-46.9zM98 1313h46.9v5h-46.9zM98 1321h46.9v6h-46.9zM98 1329h46.9v2h-46.9zM98 1334h46.9v5h-46.9zM98 1358h46.9v2h-46.9zM144.9 1011h46.9v6h-46.9zM144.9 1039h46.9v1h-46.9zM144.9 1058h46.9v2h-46.9zM144.9 1074h46.9v3h-46.9zM144.9 1081h46.9v6h-46.9zM144.9 1089h46.9v8h-46.9zM144.9 1098h46.9v2h-46.9zM144.9 1324h46.9v3h-46.9zM144.9 1335h46.9v1h-46.9zM144.9 1341h46.9v2h-46.9zM144.9 1345h46.9v3h-46.9zM144.9 1357h46.9v4h-46.9zM191.8 1010h46.9v1h-46.9zM191.8 1075h46.9v5h-46.9zM191.8 1087h46.9v1h-46.9zM191.8 1091h46.9v3h-46.9zM191.8 1095h46.9v1h-46.9zM191.8 1267h46.9v9h-46.9zM191.8 1321h46.9v10h-46.9zM191.8 1334h46.9v5h-46.9zM191.8 1358h46.9v2h-46.9zM191.8 1361h46.9v3h-46.9zM238.7 895h46.9v4h-46.9zM238.7 915h46.9v2h-46.9zM238.7 920h46.9v4h-46.9zM238.7 984h46.9v8h-46.9zM238.7 994h46.9v8h-46.9zM238.7 1010h46.9v4h-46.9zM238.7 1021h46.9v2h-46.9zM238.7 1035h46.9v2h-46.9zM238.7 1056h46.9v1h-46.9zM238.7 1058h46.9v1h-46.9zM238.7 1067h46.9v2h-46.9zM238.7 1099h46.9v2h-46.9zM238.7 1106h46.9v2h-46.9zM238.7 1115h46.9v3h-46.9zM238.7 1152h46.9v1h-46.9zM238.7 1160h46.9v2h-46.9zM238.7 1185h46.9v2h-46.9zM238.7 1226h46.9v2h-46.9zM238.7 1239h46.9v2h-46.9zM238.7 1246h46.9v8h-46.9zM238.7 1261h46.9v2h-46.9zM238.7 1309h46.9v3h-46.9zM238.7 1364h46.9v2h-46.9zM238.7 1368h46.9v2h-46.9zM285.6 1005h46.9v2h-46.9zM285.6 1093h46.9v2h-46.9zM285.6 1178h46.9v1h-46.9zM285.6 1261h46.9v2h-46.9zM285.6 1287h46.9v2h-46.9zM285.6 1290h46.9v1h-46.9zM285.6 1316h46.9v4h-46.9zM285.6 1354h46.9v3h-46.9zM285.6 1372h46.9v3h-46.9zM332.5 895h46.9v2h-46.9zM332.5 1036h46.9v3h-46.9zM332.5 1153h46.9v9h-46.9zM332.5 1167h46.9v3h-46.9zM332.5 1182h46.9v5h-46.9zM332.5 1209h46.9v9h-46.9zM332.5 1222h46.9v2h-46.9zM332.5 1233h46.9v2h-46.9zM332.5 1241h46.9v4h-46.9zM332.5 1250h46.9v1h-46.9zM332.5 1261h46.9v1h-46.9zM332.5 1293h46.9v3h-46.9zM332.5 1305h46.9v2h-46.9zM332.5 1371h46.9v1h-46.9zM332.5 1374h46.9v2h-46.9zM379.4 1005h46.9v2h-46.9zM379.4 1033h46.9v1h-46.9zM379.4 1036h46.9v3h-46.9zM379.4 1045h46.9v2h-46.9zM379.4 1052h46.9v2h-46.9zM379.4 1065h46.9v2h-46.9zM379.4 1071h46.9v2h-46.9zM379.4 1167h46.9v2h-46.9zM379.4 1170h46.9v3h-46.9zM379.4 1182h46.9v2h-46.9zM379.4 1210h46.9v6h-46.9zM379.4 1224h46.9v2h-46.9zM379.4 1234h46.9v2h-46.9zM379.4 1237h46.9v2h-46.9zM379.4 1241h46.9v4h-46.9zM379.4 1250h46.9v1h-46.9zM426.3 895h46.9v3h-46.9zM426.3 904h46.9v3h-46.9zM426.3 911h46.9v4h-46.9zM426.3 926h46.9v3h-46.9zM426.3 935h46.9v1h-46.9zM426.3 1005h46.9v3h-46.9zM426.3 1010h46.9v1h-46.9zM426.3 1018h46.9v2h-46.9zM426.3 1049h46.9v5h-46.9zM426.3 1088h46.9v5h-46.9zM426.3 1109h46.9v2h-46.9zM426.3 1119h46.9v3h-46.9zM426.3 1126h46.9v4h-46.9zM426.3 1136h46.9v4h-46.9zM426.3 1152h46.9v3h-46.9zM426.3 1161h46.9v5h-46.9zM426.3 1175h46.9v3h-46.9zM426.3 1186h46.9v3h-46.9zM426.3 1198h46.9v2h-46.9zM426.3 1206h46.9v5h-46.9zM426.3 1234h46.9v3h-46.9zM426.3 1242h46.9v3h-46.9zM426.3 1258h46.9v1h-46.9zM426.3 1276h46.9v3h-46.9zM426.3 1284h46.9v2h-46.9zM426.3 1293h46.9v2h-46.9zM426.3 1304h46.9v3h-46.9zM426.3 1316h46.9v1h-46.9zM426.3 1367h46.9v2h-46.9zM473.2 1312h46.9v1h-46.9zM520.1 1027h46.9v3h-46.9zM520.1 1031h46.9v4h-46.9zM520.1 1043h46.9v14h-46.9zM520.1 1063h46.9v3h-46.9zM520.1 1068h46.9v4h-46.9zM520.1 1088h46.9v2h-46.9zM520.1 1153h46.9v2h-46.9zM520.1 1175h46.9v3h-46.9zM520.1 1211h46.9v4h-46.9zM520.1 1242h46.9v3h-46.9zM520.1 1280h46.9v2h-46.9zM520.1 1300h46.9v3h-46.9zM520.1 1309h46.9v2h-46.9zM520.1 1314h46.9v1h-46.9zM520.1 1339h46.9v2h-46.9zM520.1 1350h46.9v2h-46.9zM520.1 1356h46.9v2h-46.9zM567 916h46.9v2h-46.9zM567 931h46.9v3h-46.9zM567 942h46.9v3h-46.9zM567 956h46.9v2h-46.9zM567 960h46.9v4h-46.9zM567 966h46.9v2h-46.9zM567 971h46.9v2h-46.9zM567 1096h46.9v4h-46.9zM567 1127h46.9v2h-46.9zM567 1132h46.9v6h-46.9zM567 1142h46.9v5h-46.9zM567 1154h46.9v4h-46.9zM567 1178h46.9v3h-46.9zM567 1188h46.9v6h-46.9zM567 1202h46.9v2h-46.9zM567 1208h46.9v2h-46.9zM567 1216h46.9v1h-46.9zM567 1250h46.9v3h-46.9zM567 1265h46.9v1h-46.9zM567 1274h46.9v2h-46.9zM567 1365h46.9v2h-46.9zM567 1371h46.9v2h-46.9zM613.9 935h46.9v4h-46.9zM613.9 949h46.9v2h-46.9zM613.9 978h46.9v3h-46.9zM613.9 996h46.9v1h-46.9zM613.9 1010h46.9v4h-46.9zM613.9 1017h46.9v2h-46.9zM613.9 1118h46.9v12h-46.9zM613.9 1136h46.9v6h-46.9zM613.9 1146h46.9v4h-46.9zM613.9 1179h46.9v2h-46.9zM613.9 1188h46.9v7h-46.9zM613.9 1206h46.9v9h-46.9zM613.9 1222h46.9v5h-46.9zM613.9 1237h46.9v7h-46.9zM613.9 1250h46.9v2h-46.9zM613.9 1255h46.9v2h-46.9zM613.9 1307h46.9v4h-46.9zM613.9 1319h46.9v2h-46.9zM613.9 1342h46.9v2h-46.9zM613.9 1365h46.9v2h-46.9z"/>
<path fill="#ed2525" shape-rendering="crispEdges" d="M98 1012h46.9v2h-46.9zM98 1263h46.9v3h-46.9zM98 1277h46.9v5h-46.9zM98 1284h46.9v20h-46.9zM98 1306h46.9v2h-46.9zM98 1318h46.9v3h-46.9zM98 1327h46.9v2h-46.9zM98 1354h46.9v1h-46.9zM98 1361h46.9v3h-46.9zM98 1367h46.9v8h-46.9zM98 1377h46.9v1h-46.9zM144.9 1077h46.9v2h-46.9zM144.9 1262h46.9v42h-46.9zM144.9 1306h46.9v2h-46.9zM144.9 1313h46.9v11h-46.9zM144.9 1327h46.9v4h-46.9zM144.9 1333h46.9v2h-46.9zM144.9 1336h46.9v3h-46.9zM144.9 1353h46.9v3h-46.9zM144.9 1361h46.9v3h-46.9zM144.9 1367h46.9v8h-46.9zM144.9 1377h46.9v1h-46.9zM191.8 1263h46.9v4h-46.9zM191.8 1276h46.9v3h-46.9zM191.8 1281h46.9v23h-46.9zM191.8 1306h46.9v2h-46.9zM191.8 1313h46.9v8h-46.9zM191.8 1354h46.9v2h-46.9zM191.8 1364h46.9v14h-46.9zM238.7 899h46.9v2h-46.9zM238.7 1002h46.9v3h-46.9zM238.7 1007h46.9v3h-46.9zM238.7 1014h46.9v4h-46.9zM238.7 1024h46.9v3h-46.9zM238.7 1029h46.9v2h-46.9zM238.7 1039h46.9v4h-46.9zM238.7 1087h46.9v3h-46.9zM238.7 1182h46.9v1h-46.9zM238.7 1225h46.9v1h-46.9zM238.7 1233h46.9v2h-46.9zM238.7 1257h46.9v2h-46.9zM238.7 1263h46.9v3h-46.9zM238.7 1269h46.9v1h-46.9zM238.7 1271h46.9v6h-46.9zM238.7 1279h46.9v1h-46.9zM238.7 1281h46.9v22h-46.9zM238.7 1307h46.9v2h-46.9zM238.7 1366h46.9v2h-46.9zM238.7 1370h46.9v5h-46.9zM238.7 1377h46.9v1h-46.9zM285.6 1001h46.9v2h-46.9zM285.6 1008h46.9v1h-46.9zM285.6 1015h46.9v3h-46.9zM285.6 1043h46.9v2h-46.9zM285.6 1101h46.9v2h-46.9zM285.6 1225h46.9v2h-46.9zM285.6 1280h46.9v2h-46.9zM285.6 1284h46.9v3h-46.9zM285.6 1289h46.9v1h-46.9zM285.6 1291h46.9v15h-46.9zM285.6 1313h46.9v3h-46.9zM285.6 1367h46.9v3h-46.9zM332.5 1003h46.9v16h-46.9zM332.5 1025h46.9v11h-46.9zM332.5 1039h46.9v62h-46.9zM332.5 1151h46.9v2h-46.9zM332.5 1171h46.9v7h-46.9zM332.5 1224h46.9v2h-46.9zM332.5 1237h46.9v3h-46.9zM332.5 1249h46.9v1h-46.9zM332.5 1258h46.9v1h-46.9zM332.5 1262h46.9v14h-46.9zM332.5 1280h46.9v2h-46.9zM332.5 1297h46.9v6h-46.9zM379.4 1003h46.9v2h-46.9zM379.4 1007h46.9v12h-46.9zM379.4 1026h46.9v7h-46.9zM379.4 1034h46.9v2h-46.9zM379.4 1039h46.9v6h-46.9zM379.4 1047h46.9v5h-46.9zM379.4 1054h46.9v11h-46.9zM379.4 1067h46.9v4h-46.9zM379.4 1073h46.9v27h-46.9zM379.4 1151h46.9v5h-46.9zM379.4 1158h46.9v2h-46.9zM379.4 1174h46.9v4h-46.9zM379.4 1248h46.9v1h-46.9zM379.4 1262h46.9v14h-46.9zM379.4 1281h46.9v2h-46.9zM379.4 1297h46.9v6h-46.9zM379.4 1304h46.9v2h-46.9zM379.4 1371h46.9v1h-46.9zM426.3 938h46.9v1h-46.9zM426.3 970h46.9v1h-46.9zM426.3 1013h46.9v5h-46.9zM426.3 1026h46.9v4h-46.9zM426.3 1031h46.9v7h-46.9zM426.3 1043h46.9v6h-46.9zM426.3 1055h46.9v33h-46.9zM426.3 1093h46.9v10h-46.9zM426.3 1105h46.9v2h-46.9zM426.3 1155h46.9v3h-46.9zM426.3 1168h46.9v7h-46.9zM426.3 1178h46.9v3h-46.9zM426.3 1189h46.9v1h-46.9zM426.3 1213h46.9v8h-46.9zM426.3 1223h46.9v2h-46.9zM426.3 1262h46.9v14h-46.9zM426.3 1279h46.9v3h-46.9zM426.3 1286h46.9v3h-46.9zM426.3 1297h46.9v7h-46.9zM426.3 1322h46.9v2h-46.9zM426.3 1375h46.9v3h-46.9zM473.2 1276h46.9v4h-46.9zM473.2 1307h46.9v5h-46.9zM473.2 1313h46.9v51h-46.9zM520.1 1011h46.9v7h-46.9zM520.1 1037h46.9v3h-46.9zM520.1 1057h46.9v4h-46.9zM520.1 1073h46.9v15h-46.9zM520.1 1090h46.9v10h-46.9zM520.1 1262h46.9v18h-46.9zM520.1 1296h46.9v4h-46.9zM520.1 1305h46.9v4h-46.9zM520.1 1311h46.9v3h-46.9zM520.1 1315h46.9v24h-46.9zM520.1 1341h46.9v7h-46.9zM520.1 1352h46.9v4h-46.9zM520.1 1358h46.9v6h-46.9zM567 895h46.9v2h-46.9zM567 918h46.9v4h-46.9zM567 924h46.9v7h-46.9zM567 934h46.9v2h-46.9zM567 938h46.9v2h-46.9zM567 951h46.9v3h-46.9zM567 968h46.9v3h-46.9zM567 984h46.9v2h-46.9zM567 1001h46.9v17h-46.9zM567 1042h46.9v15h-46.9zM567 1059h46.9v3h-46.9zM567 1093h46.9v3h-46.9zM567 1100h46.9v3h-46.9zM567 1119h46.9v6h-46.9zM567 1139h46.9v3h-46.9zM567 1149h46.9v2h-46.9zM567 1211h46.9v2h-46.9zM567 1223h46.9v26h-46.9zM567 1253h46.9v3h-46.9zM567 1258h46.9v4h-46.9zM567 1269h46.9v1h-46.9zM567 1280h46.9v2h-46.9zM567 1291h46.9v2h-46.9zM567 1295h46.9v3h-46.9zM567 1302h46.9v4h-46.9zM567 1369h46.9v2h-46.9zM567 1376h46.9v1h-46.9zM613.9 895h46.9v2h-46.9zM613.9 917h46.9v18h-46.9zM613.9 939h46.9v8h-46.9zM613.9 951h46.9v25h-46.9zM613.9 981h46.9v8h-46.9zM613.9 990h46.9v6h-46.9zM613.9 997h46.9v13h-46.9zM613.9 1014h46.9v1h-46.9zM613.9 1045h46.9v8h-46.9zM613.9 1055h46.9v2h-46.9zM613.9 1100h46.9v3h-46.9zM613.9 1130h46.9v2h-46.9zM613.9 1142h46.9v4h-46.9zM613.9 1150h46.9v1h-46.9zM613.9 1227h46.9v10h-46.9zM613.9 1244h46.9v4h-46.9zM613.9 1252h46.9v3h-46.9zM613.9 1257h46.9v5h-46.9zM613.9 1276h46.9v4h-46.9zM613.9 1304h46.9v2h-46.9z"/>
<rect x="64.2" y="972.3" width="18.4" height="85.4" fill="#f02727"/>
<rect x="64.2" y="1057.7" width="18.4" height="29.3" fill="#db2a2c"/>
<rect x="64.2" y="1087" width="18.4" height="29" fill="#8c1a1e"/>
<rect x="64.2" y="1116" width="18.4" height="27.7" fill="#000"/>
<rect x="64.2" y="1143.7" width="18.4" height="28.9" fill="#3d9a4b"/>
<rect x="64.2" y="1172.6" width="18.4" height="42.4" fill="#66cb50"/>
<rect x="64.2" y="1215" width="18.4" height="35" fill="#6ecd50"/>
<rect x="64.2" y="1250" width="18.4" height="37.3" fill="#78d052"/>
<rect x="64.2" y="972.3" width="18.4" height="315" fill="none" stroke="#444" stroke-width="0.8"/>
<text x="44.82" y="977.5" font-size="27.96" textLength="17.56" lengthAdjust="spacingAndGlyphs" fill="#000">3</text>
<text x="37.09" y="1293.5" font-size="27.96" textLength="27.48" lengthAdjust="spacingAndGlyphs" fill="#000">-3</text>
<text transform="translate(54.6 1166.6) rotate(-90)" x="-0.92" y="0" font-size="34.33" textLength="108.96" lengthAdjust="spacingAndGlyphs" fill="#000">Z-Score</text>
<text x="21.35" y="915" font-size="34.91" textLength="48.33" lengthAdjust="spacingAndGlyphs" fill="#000" font-weight="bold">(K)</text>
<rect x="670.2" y="893.5" width="20.6" height="105.4" fill="#e8a845"/>
<rect x="670.2" y="998.9" width="20.6" height="379" fill="#9c2a6c"/>
<rect x="733.5" y="896" width="20.9" height="106" fill="#8ed048"/>
<rect x="733.5" y="1002" width="20.9" height="301.4" fill="#4080c0"/>
<rect x="733.5" y="1303.4" width="20.9" height="75.5" fill="#c0282f"/>
<text transform="translate(695.2 897.7) rotate(90)" x="0" y="0" font-size="33.16" textLength="134.68" lengthAdjust="spacingAndGlyphs" fill="#000">Activated</text>
<text transform="translate(695.2 1104.9) rotate(90)" x="-1.44" y="0" font-size="32.69" textLength="144.51" lengthAdjust="spacingAndGlyphs" fill="#000">Quiescent</text>
<text transform="translate(758 897.7) rotate(90)" x="0" y="0" font-size="33.75" textLength="136" lengthAdjust="spacingAndGlyphs" fill="#000">Activated</text>
<text transform="translate(758 1076) rotate(90)" x="-2.59" y="0" font-size="33.75" textLength="208.61" lengthAdjust="spacingAndGlyphs" fill="#000">Post-Activated</text>
<text transform="translate(758 1312) rotate(90)" x="-2.59" y="0" font-size="33.75" textLength="82.82" lengthAdjust="spacingAndGlyphs" fill="#000">Naive</text>
<text transform="translate(128.45 1387) rotate(-45)" text-anchor="end" font-size="26.5" textLength="52.06" lengthAdjust="spacingAndGlyphs" fill="#000">Area</text>
<text transform="translate(175.35 1387) rotate(-45)" text-anchor="end" font-size="26.5" textLength="221.92" lengthAdjust="spacingAndGlyphs" fill="#000">Equivalent Diameter</text>
<text transform="translate(222.25 1387) rotate(-45)" text-anchor="end" font-size="26.5" textLength="106.83" lengthAdjust="spacingAndGlyphs" fill="#000">Perimeter</text>
<text transform="translate(269.15 1387) rotate(-45)" text-anchor="end" font-size="26.5" textLength="112.32" lengthAdjust="spacingAndGlyphs" fill="#000">Skewness</text>
<text transform="translate(316.05 1387) rotate(-45)" text-anchor="end" font-size="26.5" textLength="89.03" lengthAdjust="spacingAndGlyphs" fill="#000">Kurtosis</text>
<text transform="translate(362.95 1387) rotate(-45)" text-anchor="end" font-size="26.5" textLength="269.82" lengthAdjust="spacingAndGlyphs" fill="#000">Threshold 2 Fractal Dim.</text>
<text transform="translate(409.85 1387) rotate(-45)" text-anchor="end" font-size="26.5" textLength="324.64" lengthAdjust="spacingAndGlyphs" fill="#000">Threshold 2 Number of Pixels</text>
<text transform="translate(456.75 1387) rotate(-45)" text-anchor="end" font-size="26.5" textLength="269.82" lengthAdjust="spacingAndGlyphs" fill="#000">Threshold 7 Fractal Dim.</text>
<text transform="translate(503.65 1387) rotate(-45)" text-anchor="end" font-size="26.5" textLength="61.65" lengthAdjust="spacingAndGlyphs" fill="#000">Mean</text>
<text transform="translate(550.55 1387) rotate(-45)" text-anchor="end" font-size="26.5" textLength="84.94" lengthAdjust="spacingAndGlyphs" fill="#000">Entropy</text>
<text transform="translate(597.45 1387) rotate(-45)" text-anchor="end" font-size="26.5" textLength="72.63" lengthAdjust="spacingAndGlyphs" fill="#000">Range</text>
<text transform="translate(644.35 1387) rotate(-45)" text-anchor="end" font-size="26.5" textLength="209.62" lengthAdjust="spacingAndGlyphs" fill="#000">Standard Deviation</text>
<text x="838.43" y="913" font-size="34.91" textLength="42.11" lengthAdjust="spacingAndGlyphs" fill="#000" font-weight="bold">(L)</text>
<text x="911.65" y="919" font-size="32" textLength="238.34" lengthAdjust="spacingAndGlyphs" fill="#000">UMAP Projection</text>
<text x="897.7" y="1428" font-size="32.58" textLength="267.03" lengthAdjust="spacingAndGlyphs" fill="#000">UMAP Dimension 1</text>
<text transform="translate(848.2 1278.6) rotate(-90)" x="-2.33" y="0" font-size="32" textLength="270.48" lengthAdjust="spacingAndGlyphs" fill="#000">UMAP Dimension 2</text>
<pattern id="pcy" width="64" height="70" patternUnits="userSpaceOnUse"><path fill="#62c2e6" d="M12 0h2v2h-2zM20 0h6v2h-6zM30 0h2v2h-2zM40 0h4v2h-4zM46 0h8v2h-8zM6 2h2v2h-2zM16 2h8v2h-8zM26 2h2v2h-2zM30 2h2v2h-2zM36 2h4v2h-4zM46 2h4v2h-4zM54 2h6v2h-6zM0 4h8v2h-8zM10 4h2v2h-2zM16 4h2v2h-2zM20 4h2v2h-2zM24 4h2v2h-2zM28 4h4v2h-4zM36 4h2v2h-2zM40 4h4v2h-4zM48 4h2v2h-2zM52 4h4v2h-4zM58 4h6v2h-6zM0 6h2v2h-2zM4 6h2v2h-2zM8 6h2v2h-2zM20 6h4v2h-4zM28 6h4v2h-4zM36 6h2v2h-2zM46 6h4v2h-4zM52 6h2v2h-2zM56 6h2v2h-2zM62 6h2v2h-2zM0 8h2v2h-2zM4 8h4v2h-4zM14 8h2v2h-2zM18 8h6v2h-6zM26 8h6v2h-6zM34 8h4v2h-4zM48 8h6v2h-6zM60 8h2v2h-2zM4 10h2v2h-2zM8 10h2v2h-2zM24 10h2v2h-2zM32 10h2v2h-2zM42 10h2v2h-2zM48 10h2v2h-2zM58 10h2v2h-2zM4 12h2v2h-2zM8 12h2v2h-2zM14 12h2v2h-2zM24 12h6v2h-6zM32 12h4v2h-4zM44 12h2v2h-2zM48 12h2v2h-2zM58 12h2v2h-2zM62 12h2v2h-2zM0 14h2v2h-2zM12 14h4v2h-4zM18 14h6v2h-6zM28 14h2v2h-2zM36 14h4v2h-4zM42 14h2v2h-2zM48 14h2v2h-2zM52 14h4v2h-4zM58 14h2v2h-2zM62 14h2v2h-2zM0 16h4v2h-4zM18 16h2v2h-2zM22 16h4v2h-4zM30 16h6v2h-6zM44 16h2v2h-2zM50 16h2v2h-2zM56 16h2v2h-2zM0 18h2v2h-2zM14 18h2v2h-2zM24 18h2v2h-2zM36 18h2v2h-2zM42 18h4v2h-4zM54 18h2v2h-2zM58 18h2v2h-2zM62 18h2v2h-2zM0 20h2v2h-2zM4 20h4v2h-4zM22 20h4v2h-4zM28 20h2v2h-2zM40 20h4v2h-4zM48 20h2v2h-2zM58 20h2v2h-2zM2 22h2v2h-2zM8 22h2v2h-2zM18 22h2v2h-2zM22 22h2v2h-2zM28 22h2v2h-2zM32 22h2v2h-2zM42 22h4v2h-4zM50 22h2v2h-2zM54 22h6v2h-6zM62 22h2v2h-2zM0 24h2v2h-2zM4 24h2v2h-2zM8 24h2v2h-2zM12 24h4v2h-4zM20 24h4v2h-4zM26 24h4v2h-4zM42 24h2v2h-2zM50 24h4v2h-4zM56 24h2v2h-2zM62 24h2v2h-2zM0 26h2v2h-2zM4 26h4v2h-4zM14 26h4v2h-4zM20 26h4v2h-4zM30 26h2v2h-2zM40 26h8v2h-8zM54 26h6v2h-6zM2 28h4v2h-4zM12 28h2v2h-2zM22 28h2v2h-2zM28 28h2v2h-2zM34 28h6v2h-6zM42 28h2v2h-2zM54 28h2v2h-2zM0 30h2v2h-2zM10 30h2v2h-2zM22 30h2v2h-2zM26 30h4v2h-4zM32 30h4v2h-4zM40 30h2v2h-2zM46 30h2v2h-2zM54 30h2v2h-2zM2 32h2v2h-2zM8 32h14v2h-14zM38 32h2v2h-2zM44 32h2v2h-2zM48 32h2v2h-2zM52 32h2v2h-2zM58 32h2v2h-2zM4 34h4v2h-4zM12 34h2v2h-2zM16 34h10v2h-10zM28 34h2v2h-2zM34 34h2v2h-2zM40 34h2v2h-2zM50 34h2v2h-2zM2 36h2v2h-2zM8 36h4v2h-4zM14 36h2v2h-2zM22 36h2v2h-2zM26 36h2v2h-2zM38 36h4v2h-4zM48 36h4v2h-4zM62 36h2v2h-2zM0 38h2v2h-2zM8 38h6v2h-6zM18 38h2v2h-2zM22 38h4v2h-4zM32 38h2v2h-2zM36 38h4v2h-4zM44 38h4v2h-4zM54 38h2v2h-2zM58 38h2v2h-2zM62 38h2v2h-2zM4 40h2v2h-2zM14 40h4v2h-4zM20 40h4v2h-4zM30 40h2v2h-2zM34 40h4v2h-4zM40 40h4v2h-4zM48 40h6v2h-6zM56 40h4v2h-4zM10 42h6v2h-6zM20 42h14v2h-14zM44 42h2v2h-2zM50 42h4v2h-4zM2 44h2v2h-2zM8 44h4v2h-4zM16 44h2v2h-2zM20 44h2v2h-2zM26 44h4v2h-4zM36 44h4v2h-4zM54 44h2v2h-2zM18 46h2v2h-2zM24 46h6v2h-6zM32 46h2v2h-2zM36 46h6v2h-6zM46 46h4v2h-4zM56 46h8v2h-8zM0 48h2v2h-2zM6 48h8v2h-8zM16 48h2v2h-2zM24 48h2v2h-2zM30 48h2v2h-2zM38 48h4v2h-4zM46 48h2v2h-2zM52 48h2v2h-2zM58 48h4v2h-4zM0 50h2v2h-2zM8 50h8v2h-8zM24 50h2v2h-2zM28 50h2v2h-2zM32 50h2v2h-2zM40 50h4v2h-4zM46 50h2v2h-2zM58 50h2v2h-2zM62 50h2v2h-2zM2 52h2v2h-2zM6 52h2v2h-2zM12 52h2v2h-2zM16 52h8v2h-8zM28 52h2v2h-2zM32 52h4v2h-4zM44 52h4v2h-4zM50 52h2v2h-2zM56 52h2v2h-2zM62 52h2v2h-2zM2 54h4v2h-4zM8 54h6v2h-6zM16 54h4v2h-4zM22 54h2v2h-2zM30 54h2v2h-2zM34 54h6v2h-6zM44 54h4v2h-4zM52 54h12v2h-12zM12 56h10v2h-10zM32 56h6v2h-6zM40 56h4v2h-4zM52 56h2v2h-2zM60 56h2v2h-2zM0 58h2v2h-2zM12 58h2v2h-2zM18 58h6v2h-6zM28 58h2v2h-2zM32 58h2v2h-2zM36 58h2v2h-2zM40 58h2v2h-2zM50 58h2v2h-2zM60 58h2v2h-2zM0 60h2v2h-2zM4 60h2v2h-2zM10 60h2v2h-2zM14 60h6v2h-6zM26 60h2v2h-2zM32 60h2v2h-2zM38 60h4v2h-4zM44 60h4v2h-4zM50 60h2v2h-2zM54 60h2v2h-2zM58 60h2v2h-2zM62 60h2v2h-2zM2 62h2v2h-2zM10 62h2v2h-2zM28 62h2v2h-2zM44 62h4v2h-4zM58 62h2v2h-2zM62 62h2v2h-2zM0 64h2v2h-2zM6 64h4v2h-4zM14 64h10v2h-10zM36 64h2v2h-2zM44 64h2v2h-2zM48 64h2v2h-2zM54 64h10v2h-10zM4 66h4v2h-4zM10 66h4v2h-4zM16 66h2v2h-2zM26 66h4v2h-4zM34 66h2v2h-2zM38 66h2v2h-2zM42 66h2v2h-2zM48 66h2v2h-2zM52 66h2v2h-2zM56 66h4v2h-4zM62 66h2v2h-2zM6 68h2v2h-2zM14 68h6v2h-6zM22 68h6v2h-6zM32 68h2v2h-2zM40 68h4v2h-4zM48 68h2v2h-2zM52 68h2v2h-2zM62 68h2v2h-2z"/></pattern>
<pattern id="pcy2" width="58" height="54" patternUnits="userSpaceOnUse"><path fill="#62c2e6" d="M6 0h4v2h-4zM24 0h2v2h-2zM28 0h2v2h-2zM32 0h2v2h-2zM36 0h2v2h-2zM46 0h4v2h-4zM54 0h2v2h-2zM2 2h2v2h-2zM6 2h2v2h-2zM12 2h2v2h-2zM16 2h4v2h-4zM32 2h2v2h-2zM50 2h2v2h-2zM4 4h2v2h-2zM20 4h2v2h-2zM24 4h2v2h-2zM28 4h2v2h-2zM36 4h2v2h-2zM52 4h2v2h-2zM0 6h2v2h-2zM6 6h2v2h-2zM16 6h4v2h-4zM28 6h2v2h-2zM52 6h2v2h-2zM20 8h2v2h-2zM2 10h2v2h-2zM20 10h2v2h-2zM34 10h2v2h-2zM50 10h4v2h-4zM8 12h2v2h-2zM14 12h2v2h-2zM26 12h2v2h-2zM44 12h2v2h-2zM32 14h2v2h-2zM40 14h2v2h-2zM0 16h2v2h-2zM26 16h2v2h-2zM36 16h2v2h-2zM50 16h2v2h-2zM2 18h2v2h-2zM6 18h6v2h-6zM16 18h4v2h-4zM26 18h2v2h-2zM22 20h12v2h-12zM36 20h2v2h-2zM50 20h2v2h-2zM12 22h2v2h-2zM34 22h2v2h-2zM56 22h2v2h-2zM12 24h2v2h-2zM24 24h2v2h-2zM30 24h2v2h-2zM52 24h2v2h-2zM20 26h2v2h-2zM24 26h2v2h-2zM34 26h2v2h-2zM44 26h2v2h-2zM30 28h2v2h-2zM42 28h2v2h-2zM54 28h4v2h-4zM0 30h2v2h-2zM4 30h4v2h-4zM18 30h2v2h-2zM32 30h2v2h-2zM48 30h2v2h-2zM52 30h2v2h-2zM4 32h2v2h-2zM12 32h2v2h-2zM34 32h2v2h-2zM8 34h6v2h-6zM16 34h2v2h-2zM20 34h2v2h-2zM26 34h2v2h-2zM0 36h4v2h-4zM8 36h2v2h-2zM34 36h2v2h-2zM46 36h2v2h-2zM50 36h4v2h-4zM12 38h2v2h-2zM26 38h4v2h-4zM54 38h2v2h-2zM2 40h2v2h-2zM8 40h2v2h-2zM34 40h2v2h-2zM38 40h2v2h-2zM44 40h2v2h-2zM54 40h4v2h-4zM8 42h2v2h-2zM16 42h2v2h-2zM28 42h4v2h-4zM42 42h2v2h-2zM46 42h2v2h-2zM54 42h4v2h-4zM2 44h2v2h-2zM6 44h2v2h-2zM20 44h4v2h-4zM30 44h2v2h-2zM36 44h4v2h-4zM48 44h2v2h-2zM52 44h2v2h-2zM14 46h2v2h-2zM28 46h6v2h-6zM52 46h2v2h-2zM56 46h2v2h-2zM14 48h2v2h-2zM26 48h8v2h-8zM38 48h2v2h-2zM48 48h2v2h-2zM54 48h4v2h-4zM12 50h2v2h-2zM20 50h2v2h-2zM26 50h2v2h-2zM34 50h4v2h-4zM44 50h4v2h-4zM52 50h4v2h-4zM0 52h4v2h-4zM6 52h2v2h-2zM16 52h2v2h-2zM22 52h2v2h-2zM26 52h2v2h-2zM34 52h2v2h-2z"/></pattern>
<pattern id="pcyf" width="50" height="46" patternUnits="userSpaceOnUse"><path fill="#62c2e6" d="M2 0h2v2h-2zM10 0h2v2h-2zM0 2h2v2h-2zM22 2h2v2h-2zM40 2h6v2h-6zM26 4h2v2h-2zM34 4h2v2h-2zM48 4h2v2h-2zM12 6h4v2h-4zM30 6h4v2h-4zM8 8h2v2h-2zM40 8h2v2h-2zM48 8h2v2h-2zM10 10h2v2h-2zM26 10h2v2h-2zM2 12h2v2h-2zM32 12h2v2h-2zM40 12h2v2h-2zM12 14h2v2h-2zM46 14h2v2h-2zM12 16h2v2h-2zM30 20h2v2h-2zM42 20h2v2h-2zM36 22h2v2h-2zM12 24h2v2h-2zM24 24h2v2h-2zM34 24h2v2h-2zM0 26h2v2h-2zM12 26h2v2h-2zM16 28h2v2h-2zM4 30h2v2h-2zM36 30h2v2h-2zM26 32h2v2h-2zM36 32h2v2h-2zM42 32h2v2h-2zM46 32h2v2h-2zM6 34h2v2h-2zM42 34h2v2h-2zM8 36h2v2h-2zM40 36h2v2h-2zM44 36h2v2h-2zM48 36h2v2h-2zM10 38h2v2h-2zM32 38h2v2h-2zM2 40h4v2h-4zM34 40h2v2h-2zM40 40h2v2h-2zM6 42h2v2h-2zM30 42h2v2h-2zM46 42h2v2h-2z"/></pattern>
<pattern id="pgr" width="70" height="62" patternUnits="userSpaceOnUse"><path fill="#a6da6e" d="M0 0h2v2h-2zM8 0h8v2h-8zM18 0h2v2h-2zM22 0h4v2h-4zM32 0h6v2h-6zM52 0h2v2h-2zM64 0h2v2h-2zM68 0h2v2h-2zM0 2h2v2h-2zM14 2h2v2h-2zM20 2h4v2h-4zM26 2h2v2h-2zM32 2h4v2h-4zM38 2h10v2h-10zM52 2h2v2h-2zM58 2h4v2h-4zM68 2h2v2h-2zM0 4h2v2h-2zM8 4h2v2h-2zM12 4h2v2h-2zM16 4h2v2h-2zM24 4h2v2h-2zM32 4h2v2h-2zM36 4h6v2h-6zM44 4h6v2h-6zM56 4h2v2h-2zM60 4h6v2h-6zM68 4h2v2h-2zM0 6h4v2h-4zM6 6h2v2h-2zM10 6h2v2h-2zM14 6h4v2h-4zM28 6h4v2h-4zM38 6h2v2h-2zM44 6h2v2h-2zM48 6h16v2h-16zM68 6h2v2h-2zM2 8h2v2h-2zM8 8h4v2h-4zM14 8h2v2h-2zM18 8h2v2h-2zM22 8h12v2h-12zM40 8h2v2h-2zM44 8h2v2h-2zM48 8h2v2h-2zM54 8h6v2h-6zM62 8h2v2h-2zM66 8h4v2h-4zM2 10h2v2h-2zM24 10h4v2h-4zM34 10h2v2h-2zM38 10h8v2h-8zM48 10h2v2h-2zM66 10h2v2h-2zM0 12h4v2h-4zM8 12h2v2h-2zM14 12h8v2h-8zM24 12h2v2h-2zM30 12h2v2h-2zM38 12h2v2h-2zM46 12h4v2h-4zM52 12h2v2h-2zM56 12h2v2h-2zM60 12h4v2h-4zM66 12h2v2h-2zM6 14h2v2h-2zM16 14h2v2h-2zM20 14h2v2h-2zM24 14h4v2h-4zM32 14h2v2h-2zM38 14h2v2h-2zM42 14h2v2h-2zM48 14h6v2h-6zM62 14h2v2h-2zM10 16h4v2h-4zM18 16h2v2h-2zM30 16h2v2h-2zM38 16h2v2h-2zM46 16h2v2h-2zM54 16h4v2h-4zM60 16h2v2h-2zM0 18h2v2h-2zM6 18h10v2h-10zM18 18h2v2h-2zM22 18h4v2h-4zM28 18h16v2h-16zM46 18h4v2h-4zM64 18h4v2h-4zM6 20h2v2h-2zM14 20h4v2h-4zM24 20h2v2h-2zM28 20h2v2h-2zM32 20h2v2h-2zM38 20h2v2h-2zM42 20h6v2h-6zM50 20h2v2h-2zM60 20h8v2h-8zM0 22h4v2h-4zM12 22h4v2h-4zM18 22h4v2h-4zM24 22h4v2h-4zM32 22h2v2h-2zM56 22h4v2h-4zM62 22h2v2h-2zM66 22h2v2h-2zM0 24h2v2h-2zM26 24h4v2h-4zM36 24h4v2h-4zM46 24h2v2h-2zM54 24h4v2h-4zM66 24h2v2h-2zM6 26h2v2h-2zM10 26h2v2h-2zM14 26h2v2h-2zM28 26h2v2h-2zM34 26h4v2h-4zM46 26h2v2h-2zM50 26h2v2h-2zM58 26h2v2h-2zM64 26h2v2h-2zM68 26h2v2h-2zM10 28h2v2h-2zM14 28h2v2h-2zM18 28h2v2h-2zM22 28h2v2h-2zM26 28h4v2h-4zM40 28h2v2h-2zM46 28h6v2h-6zM60 28h2v2h-2zM66 28h2v2h-2zM0 30h4v2h-4zM8 30h2v2h-2zM12 30h2v2h-2zM18 30h2v2h-2zM24 30h4v2h-4zM34 30h2v2h-2zM42 30h2v2h-2zM48 30h4v2h-4zM56 30h2v2h-2zM60 30h4v2h-4zM0 32h2v2h-2zM16 32h2v2h-2zM20 32h2v2h-2zM34 32h2v2h-2zM38 32h2v2h-2zM44 32h2v2h-2zM48 32h6v2h-6zM56 32h6v2h-6zM0 34h2v2h-2zM4 34h4v2h-4zM12 34h2v2h-2zM16 34h6v2h-6zM32 34h2v2h-2zM36 34h4v2h-4zM46 34h2v2h-2zM52 34h4v2h-4zM58 34h6v2h-6zM2 36h2v2h-2zM6 36h2v2h-2zM12 36h2v2h-2zM16 36h4v2h-4zM24 36h2v2h-2zM28 36h2v2h-2zM36 36h2v2h-2zM40 36h10v2h-10zM52 36h4v2h-4zM58 36h2v2h-2zM68 36h2v2h-2zM0 38h8v2h-8zM12 38h4v2h-4zM18 38h2v2h-2zM26 38h2v2h-2zM30 38h2v2h-2zM36 38h4v2h-4zM48 38h2v2h-2zM52 38h2v2h-2zM56 38h2v2h-2zM62 38h2v2h-2zM2 40h6v2h-6zM12 40h6v2h-6zM20 40h12v2h-12zM36 40h4v2h-4zM42 40h4v2h-4zM50 40h14v2h-14zM66 40h4v2h-4zM0 42h4v2h-4zM10 42h2v2h-2zM16 42h2v2h-2zM22 42h2v2h-2zM28 42h2v2h-2zM34 42h2v2h-2zM50 42h2v2h-2zM62 42h8v2h-8zM4 44h4v2h-4zM16 44h2v2h-2zM22 44h2v2h-2zM26 44h2v2h-2zM38 44h2v2h-2zM44 44h2v2h-2zM50 44h4v2h-4zM56 44h2v2h-2zM60 44h2v2h-2zM66 44h4v2h-4zM6 46h4v2h-4zM18 46h4v2h-4zM34 46h4v2h-4zM40 46h2v2h-2zM44 46h2v2h-2zM48 46h2v2h-2zM54 46h4v2h-4zM60 46h8v2h-8zM0 48h2v2h-2zM10 48h4v2h-4zM22 48h2v2h-2zM30 48h2v2h-2zM34 48h2v2h-2zM38 48h2v2h-2zM42 48h6v2h-6zM50 48h6v2h-6zM62 48h2v2h-2zM66 48h4v2h-4zM2 50h4v2h-4zM16 50h4v2h-4zM26 50h4v2h-4zM38 50h6v2h-6zM54 50h2v2h-2zM58 50h2v2h-2zM0 52h4v2h-4zM8 52h2v2h-2zM14 52h2v2h-2zM18 52h4v2h-4zM36 52h4v2h-4zM48 52h4v2h-4zM60 52h4v2h-4zM6 54h2v2h-2zM10 54h2v2h-2zM18 54h4v2h-4zM30 54h4v2h-4zM36 54h2v2h-2zM44 54h6v2h-6zM52 54h4v2h-4zM62 54h4v2h-4zM0 56h2v2h-2zM8 56h2v2h-2zM12 56h6v2h-6zM20 56h2v2h-2zM24 56h2v2h-2zM28 56h2v2h-2zM38 56h8v2h-8zM48 56h2v2h-2zM60 56h2v2h-2zM64 56h2v2h-2zM68 56h2v2h-2zM2 58h2v2h-2zM16 58h2v2h-2zM20 58h8v2h-8zM32 58h2v2h-2zM38 58h2v2h-2zM44 58h2v2h-2zM56 58h4v2h-4zM64 58h2v2h-2zM68 58h2v2h-2zM0 60h2v2h-2zM8 60h4v2h-4zM14 60h4v2h-4zM20 60h2v2h-2zM34 60h2v2h-2zM38 60h4v2h-4zM44 60h2v2h-2zM50 60h2v2h-2zM54 60h2v2h-2zM58 60h2v2h-2zM62 60h4v2h-4zM68 60h2v2h-2z"/></pattern>
<pattern id="pgrf" width="46" height="50" patternUnits="userSpaceOnUse"><path fill="#a6da6e" d="M16 0h2v2h-2zM40 0h2v2h-2zM20 2h2v2h-2zM38 2h2v2h-2zM44 2h2v2h-2zM16 4h2v2h-2zM0 6h4v2h-4zM6 6h2v2h-2zM12 6h2v2h-2zM28 6h2v2h-2zM34 6h2v2h-2zM40 6h2v2h-2zM2 8h4v2h-4zM14 8h2v2h-2zM20 8h4v2h-4zM4 10h2v2h-2zM12 10h2v2h-2zM30 10h2v2h-2zM0 12h2v2h-2zM26 12h2v2h-2zM30 12h2v2h-2zM30 14h4v2h-4zM6 16h2v2h-2zM18 16h6v2h-6zM36 16h2v2h-2zM6 18h2v2h-2zM10 18h2v2h-2zM26 18h2v2h-2zM40 18h4v2h-4zM26 20h2v2h-2zM8 22h2v2h-2zM26 22h2v2h-2zM42 22h4v2h-4zM16 24h2v2h-2zM20 24h2v2h-2zM14 26h10v2h-10zM28 26h2v2h-2zM34 26h4v2h-4zM42 26h2v2h-2zM30 28h2v2h-2zM8 30h4v2h-4zM26 30h4v2h-4zM8 32h2v2h-2zM12 34h2v2h-2zM24 34h4v2h-4zM40 34h2v2h-2zM44 34h2v2h-2zM22 36h2v2h-2zM8 38h2v2h-2zM28 38h6v2h-6zM40 38h2v2h-2zM24 40h2v2h-2zM2 42h2v2h-2zM8 42h2v2h-2zM20 42h2v2h-2zM30 42h2v2h-2zM2 48h2v2h-2zM26 48h2v2h-2zM38 48h2v2h-2zM42 48h4v2h-4z"/></pattern>
<pattern id="prd" width="54" height="60" patternUnits="userSpaceOnUse"><path fill="#c42d47" d="M0 0h2v2h-2zM8 0h4v2h-4zM16 0h2v2h-2zM24 0h4v2h-4zM30 0h4v2h-4zM38 0h2v2h-2zM44 0h2v2h-2zM48 0h6v2h-6zM0 2h2v2h-2zM16 2h2v2h-2zM22 2h4v2h-4zM30 2h2v2h-2zM34 2h2v2h-2zM40 2h2v2h-2zM44 2h6v2h-6zM52 2h2v2h-2zM2 4h2v2h-2zM18 4h2v2h-2zM22 4h2v2h-2zM28 4h4v2h-4zM36 4h2v2h-2zM44 4h2v2h-2zM50 4h4v2h-4zM0 6h2v2h-2zM6 6h2v2h-2zM10 6h4v2h-4zM18 6h2v2h-2zM22 6h12v2h-12zM36 6h4v2h-4zM44 6h2v2h-2zM48 6h2v2h-2zM8 8h2v2h-2zM18 8h2v2h-2zM24 8h2v2h-2zM30 8h8v2h-8zM40 8h4v2h-4zM52 8h2v2h-2zM0 10h2v2h-2zM4 10h6v2h-6zM12 10h2v2h-2zM16 10h2v2h-2zM22 10h2v2h-2zM30 10h2v2h-2zM34 10h2v2h-2zM42 10h2v2h-2zM50 10h2v2h-2zM10 12h2v2h-2zM14 12h6v2h-6zM22 12h2v2h-2zM32 12h2v2h-2zM36 12h2v2h-2zM42 12h2v2h-2zM46 12h2v2h-2zM6 14h2v2h-2zM10 14h4v2h-4zM30 14h2v2h-2zM46 14h4v2h-4zM4 16h8v2h-8zM14 16h4v2h-4zM22 16h2v2h-2zM34 16h2v2h-2zM42 16h4v2h-4zM2 18h2v2h-2zM8 18h4v2h-4zM14 18h2v2h-2zM18 18h2v2h-2zM24 18h2v2h-2zM34 18h2v2h-2zM38 18h2v2h-2zM42 18h2v2h-2zM46 18h4v2h-4zM0 20h2v2h-2zM8 20h4v2h-4zM16 20h2v2h-2zM24 20h4v2h-4zM30 20h4v2h-4zM36 20h2v2h-2zM40 20h2v2h-2zM46 20h2v2h-2zM2 22h2v2h-2zM8 22h2v2h-2zM12 22h2v2h-2zM18 22h2v2h-2zM22 22h2v2h-2zM30 22h2v2h-2zM34 22h2v2h-2zM38 22h2v2h-2zM42 22h2v2h-2zM50 22h2v2h-2zM2 24h2v2h-2zM6 24h4v2h-4zM18 24h2v2h-2zM22 24h10v2h-10zM42 24h2v2h-2zM48 24h2v2h-2zM6 26h2v2h-2zM14 26h8v2h-8zM24 26h4v2h-4zM30 26h10v2h-10zM44 26h2v2h-2zM50 26h2v2h-2zM0 28h2v2h-2zM6 28h2v2h-2zM18 28h4v2h-4zM40 28h4v2h-4zM46 28h2v2h-2zM50 28h2v2h-2zM0 30h4v2h-4zM8 30h6v2h-6zM28 30h2v2h-2zM32 30h2v2h-2zM0 32h2v2h-2zM10 32h4v2h-4zM16 32h2v2h-2zM28 32h2v2h-2zM32 32h2v2h-2zM44 32h6v2h-6zM52 32h2v2h-2zM0 34h2v2h-2zM4 34h2v2h-2zM8 34h4v2h-4zM14 34h4v2h-4zM22 34h2v2h-2zM32 34h2v2h-2zM36 34h2v2h-2zM40 34h4v2h-4zM48 34h2v2h-2zM52 34h2v2h-2zM0 36h4v2h-4zM10 36h4v2h-4zM34 36h2v2h-2zM38 36h2v2h-2zM42 36h4v2h-4zM50 36h2v2h-2zM6 38h4v2h-4zM16 38h8v2h-8zM36 38h2v2h-2zM40 38h2v2h-2zM46 38h2v2h-2zM50 38h2v2h-2zM16 40h2v2h-2zM24 40h2v2h-2zM28 40h4v2h-4zM34 40h2v2h-2zM38 40h2v2h-2zM42 40h4v2h-4zM52 40h2v2h-2zM0 42h4v2h-4zM6 42h2v2h-2zM14 42h2v2h-2zM18 42h2v2h-2zM24 42h2v2h-2zM30 42h4v2h-4zM36 42h4v2h-4zM44 42h4v2h-4zM52 42h2v2h-2zM4 44h2v2h-2zM10 44h2v2h-2zM16 44h2v2h-2zM20 44h2v2h-2zM24 44h2v2h-2zM34 44h2v2h-2zM38 44h2v2h-2zM0 46h2v2h-2zM4 46h2v2h-2zM8 46h2v2h-2zM14 46h2v2h-2zM18 46h2v2h-2zM22 46h6v2h-6zM30 46h2v2h-2zM40 46h2v2h-2zM44 46h6v2h-6zM2 48h2v2h-2zM6 48h2v2h-2zM16 48h6v2h-6zM24 48h2v2h-2zM28 48h6v2h-6zM42 48h6v2h-6zM52 48h2v2h-2zM0 50h2v2h-2zM6 50h4v2h-4zM12 50h2v2h-2zM26 50h4v2h-4zM36 50h2v2h-2zM40 50h2v2h-2zM48 50h6v2h-6zM2 52h6v2h-6zM12 52h8v2h-8zM26 52h2v2h-2zM36 52h2v2h-2zM44 52h2v2h-2zM50 52h2v2h-2zM0 54h2v2h-2zM14 54h6v2h-6zM22 54h2v2h-2zM28 54h2v2h-2zM34 54h2v2h-2zM38 54h6v2h-6zM46 54h8v2h-8zM2 56h6v2h-6zM10 56h2v2h-2zM16 56h2v2h-2zM24 56h2v2h-2zM30 56h2v2h-2zM34 56h2v2h-2zM38 56h2v2h-2zM42 56h4v2h-4zM52 56h2v2h-2zM0 58h6v2h-6zM10 58h6v2h-6zM18 58h2v2h-2zM22 58h2v2h-2zM30 58h2v2h-2zM36 58h2v2h-2zM40 58h6v2h-6zM48 58h2v2h-2z"/></pattern>
<pattern id="prdf" width="42" height="46" patternUnits="userSpaceOnUse"><path fill="#c42d47" d="M14 0h4v2h-4zM36 0h2v2h-2zM18 2h2v2h-2zM34 2h2v2h-2zM38 2h2v2h-2zM6 6h2v2h-2zM22 6h2v2h-2zM28 6h2v2h-2zM8 8h2v2h-2zM22 8h2v2h-2zM26 8h2v2h-2zM36 8h4v2h-4zM36 10h2v2h-2zM6 14h2v2h-2zM26 14h2v2h-2zM36 14h2v2h-2zM0 16h2v2h-2zM16 16h2v2h-2zM36 16h2v2h-2zM4 18h2v2h-2zM14 22h2v2h-2zM30 22h2v2h-2zM10 24h2v2h-2zM34 24h2v2h-2zM2 26h2v2h-2zM6 26h2v2h-2zM10 30h2v2h-2zM18 30h2v2h-2zM24 30h2v2h-2zM0 32h2v2h-2zM20 32h2v2h-2zM34 32h2v2h-2zM38 32h2v2h-2zM8 34h2v2h-2zM12 34h2v2h-2zM22 34h2v2h-2zM30 34h4v2h-4zM2 36h6v2h-6zM22 36h2v2h-2zM38 36h2v2h-2zM0 38h2v2h-2zM14 38h2v2h-2zM20 38h2v2h-2zM10 40h2v2h-2zM28 40h4v2h-4zM40 40h2v2h-2zM4 42h2v2h-2zM34 42h4v2h-4zM4 44h4v2h-4zM38 44h4v2h-4z"/></pattern>
<polygon points="939.1,1130.2 977.2,1147.7 1021.2,1165.3 1065.2,1188.8 1094.5,1218.1 1100.3,1247.4 1094.5,1291.3 1088.6,1320.7 1071,1344.1 1024.1,1358.8 983.1,1361.7 947.9,1355.8 918.6,1329.5 909.8,1300.2 898.1,1276.7 883.4,1247.4 877.6,1218.1 886.4,1180 904,1153.6" fill="url(#pgr)" stroke="url(#pgrf)" stroke-width="16" stroke-linejoin="round"/>
<polygon points="1035.8,976.3 1065.2,979.2 1076.9,1012.9 1085.7,1048.1 1100.3,1083.3 1117.9,1112.6 1135.5,1144.8 1141.4,1174.1 1142.8,1218.1 1123.8,1247.4 1100.3,1260 1075,1262 1035.8,1258 991.9,1250.2 947.9,1247.4 904,1247.4 883.4,1218.1 886.4,1174.1 909.8,1100.8 918.6,1065.7 936.2,1036.4 959.6,1007.1 991.9,983.6" fill="url(#pcy)" stroke="url(#pcyf)" stroke-width="14" stroke-linejoin="round"/>
<polygon points="939.1,1130.2 977.2,1147.7 1021.2,1165.3 1065.2,1188.8 1094.5,1218.1 1100.3,1247.4 1094.5,1291.3 1088.6,1320.7 1050,1300 990,1320 930,1300" fill="url(#pcy2)"/>
<polygon points="1068.1,969 1094.5,960.2 1123.8,954.3 1164.8,942.6 1173.6,969 1175.1,1012.9 1166.3,1056.9 1164.8,1089.1 1141.4,1095 1117.9,1092.1 1100.3,1083.3 1091.5,1065.7 1076.9,1048.1 1071,1021.7 1062.2,998.3 1050.5,980.7" fill="url(#prd)" stroke="url(#prdf)" stroke-width="12" stroke-linejoin="round"/>
<rect x="865.85" y="932.25" width="325.2" height="460" fill="none" stroke="#111" stroke-width="4.5"/>
<rect x="1242.1" y="922.6" width="140.6" height="140.6" fill="#a347a6"/>
<rect x="1249.8" y="930.3" width="125.2" height="125.2" fill="#5b5f7e"/>
<circle cx="1309.8" cy="993.1" r="29.5" fill="#0c0c14" opacity="0.18"/>
<circle cx="1309.8" cy="993.1" r="26.5" fill="#0c0c14" opacity="0.45"/>
<circle cx="1309.8" cy="993.1" r="24.3" fill="#06060a"/>
<circle cx="1309.8" cy="993.1" r="20.5" fill="url(#gc2)"/>
<circle cx="1316.36" cy="984.23" r="2" fill="#c4e6e0" opacity="0.55"/>
<circle cx="1309.96" cy="1000.55" r="1.57" fill="#5f6e88" opacity="0.55"/>
<circle cx="1315.31" cy="991.83" r="1.91" fill="#c4e6e0" opacity="0.55"/>
<circle cx="1306.97" cy="999.39" r="2.7" fill="#66768e" opacity="0.55"/>
<circle cx="1316.85" cy="998.81" r="2.2" fill="#b8dcd6" opacity="0.55"/>
<circle cx="1304.55" cy="1002.74" r="2.85" fill="#b8dcd6" opacity="0.55"/>
<circle cx="1306.96" cy="995.75" r="3.55" fill="#5f6e88" opacity="0.55"/>
<circle cx="1308.54" cy="991.46" r="2.13" fill="#b8dcd6" opacity="0.55"/>
<circle cx="1306.18" cy="994.2" r="2.24" fill="#66768e" opacity="0.55"/>
<circle cx="1301.5" cy="992.64" r="3.38" fill="#66768e" opacity="0.55"/>
<circle cx="1311.73" cy="1007.94" r="3.18" fill="#c4e6e0" opacity="0.55"/>
<circle cx="1315.69" cy="992.46" r="2.75" fill="#5f6e88" opacity="0.55"/>
<circle cx="1304.2" cy="996.26" r="2.94" fill="#c4e6e0" opacity="0.55"/>
<circle cx="1316.51" cy="1004.33" r="1.85" fill="#c4e6e0" opacity="0.55"/>
<circle cx="1319.78" cy="996.23" r="2.19" fill="#b8dcd6" opacity="0.55"/>
<circle cx="1303.61" cy="991.58" r="2.75" fill="#5f6e88" opacity="0.55"/>
<circle cx="1308.82" cy="984.92" r="2.71" fill="#5f6e88" opacity="0.55"/>
<circle cx="1295.1" cy="994.56" r="2.48" fill="#c4e6e0" opacity="0.55"/>
<rect x="1390.4" y="923.4" width="140.6" height="140.6" fill="#cd5c6e"/>
<rect x="1398.1" y="931.1" width="125.2" height="125.2" fill="#5b5f7e"/>
<circle cx="1464" cy="992.4" r="29.5" fill="#0c0c14" opacity="0.18"/>
<circle cx="1464" cy="992.4" r="26.5" fill="#0c0c14" opacity="0.45"/>
<circle cx="1464" cy="992.4" r="24.3" fill="#06060a"/>
<circle cx="1464" cy="992.4" r="20.5" fill="url(#gc2)"/>
<circle cx="1459.21" cy="989.84" r="3" fill="#b8dcd6" opacity="0.55"/>
<circle cx="1471.67" cy="981.52" r="1.73" fill="#c4e6e0" opacity="0.55"/>
<circle cx="1466.87" cy="992.99" r="2.29" fill="#b8dcd6" opacity="0.55"/>
<circle cx="1463.38" cy="997.75" r="1.63" fill="#c4e6e0" opacity="0.55"/>
<circle cx="1466.39" cy="993.5" r="2.44" fill="#c4e6e0" opacity="0.55"/>
<circle cx="1471.43" cy="996.92" r="1.47" fill="#c4e6e0" opacity="0.55"/>
<circle cx="1466.15" cy="982.85" r="3.29" fill="#b8dcd6" opacity="0.55"/>
<circle cx="1462.81" cy="990.19" r="2.43" fill="#b8dcd6" opacity="0.55"/>
<circle cx="1468.85" cy="994.24" r="1.31" fill="#c4e6e0" opacity="0.55"/>
<circle cx="1475.52" cy="986.24" r="1.98" fill="#66768e" opacity="0.55"/>
<circle cx="1468.68" cy="982.5" r="1.36" fill="#b8dcd6" opacity="0.55"/>
<circle cx="1454.38" cy="985.63" r="3.66" fill="#b8dcd6" opacity="0.55"/>
<circle cx="1468.96" cy="986.75" r="3.48" fill="#c4e6e0" opacity="0.55"/>
<circle cx="1463.42" cy="1000.92" r="2.63" fill="#c4e6e0" opacity="0.55"/>
<circle cx="1461.63" cy="996.76" r="3.62" fill="#5f6e88" opacity="0.55"/>
<circle cx="1452.63" cy="1001.52" r="2.25" fill="#66768e" opacity="0.55"/>
<circle cx="1455.62" cy="980.87" r="2.66" fill="#b8dcd6" opacity="0.55"/>
<circle cx="1471.76" cy="1004.66" r="3.33" fill="#5f6e88" opacity="0.55"/>
<rect x="1242.1" y="1111.1" width="140.6" height="140.6" fill="#303894"/>
<rect x="1249.8" y="1118.8" width="125.2" height="125.2" fill="#5b5f7e"/>
<circle cx="1313.7" cy="1181.6" r="40" fill="#0c0c14" opacity="0.18"/>
<circle cx="1313.7" cy="1181.6" r="37" fill="#0c0c14" opacity="0.45"/>
<circle cx="1313.7" cy="1181.6" r="34.8" fill="#06060a"/>
<circle cx="1313.7" cy="1181.6" r="31" fill="url(#gc2)"/>
<circle cx="1332.18" cy="1193.66" r="5.43" fill="#5f6e88" opacity="0.55"/>
<circle cx="1310.42" cy="1182.98" r="3.75" fill="#66768e" opacity="0.55"/>
<circle cx="1319.84" cy="1197.85" r="1.21" fill="#c4e6e0" opacity="0.55"/>
<circle cx="1312.46" cy="1186.84" r="3.79" fill="#5f6e88" opacity="0.55"/>
<circle cx="1299.4" cy="1165.07" r="4.03" fill="#5f6e88" opacity="0.55"/>
<circle cx="1312.55" cy="1183.69" r="5.4" fill="#5f6e88" opacity="0.55"/>
<circle cx="1310.17" cy="1159.69" r="2.03" fill="#c4e6e0" opacity="0.55"/>
<circle cx="1314" cy="1164.28" r="4.74" fill="#b8dcd6" opacity="0.55"/>
<circle cx="1313.39" cy="1180.22" r="2.17" fill="#b8dcd6" opacity="0.55"/>
<circle cx="1311.37" cy="1163.33" r="3.28" fill="#b8dcd6" opacity="0.55"/>
<circle cx="1326.68" cy="1169.05" r="5.22" fill="#66768e" opacity="0.55"/>
<circle cx="1320.12" cy="1175.37" r="5.23" fill="#c4e6e0" opacity="0.55"/>
<circle cx="1329.05" cy="1191.74" r="4.86" fill="#c4e6e0" opacity="0.55"/>
<circle cx="1319.74" cy="1173.13" r="3.96" fill="#5f6e88" opacity="0.55"/>
<circle cx="1327.69" cy="1179.91" r="5.04" fill="#b8dcd6" opacity="0.55"/>
<circle cx="1324.55" cy="1167.69" r="2.05" fill="#c4e6e0" opacity="0.55"/>
<circle cx="1333.38" cy="1174.18" r="5.17" fill="#5f6e88" opacity="0.55"/>
<circle cx="1314.77" cy="1187.93" r="5.27" fill="#66768e" opacity="0.55"/>
<circle cx="1326.9" cy="1173.35" r="1.94" fill="#b8dcd6" opacity="0.55"/>
<circle cx="1313.55" cy="1183.16" r="5.36" fill="#c4e6e0" opacity="0.55"/>
<circle cx="1320.76" cy="1202.66" r="5.58" fill="#5f6e88" opacity="0.55"/>
<circle cx="1315.31" cy="1177.19" r="3.19" fill="#5f6e88" opacity="0.55"/>
<circle cx="1303.22" cy="1175.28" r="3.26" fill="#c4e6e0" opacity="0.55"/>
<circle cx="1307.26" cy="1175.7" r="3.24" fill="#5f6e88" opacity="0.55"/>
<circle cx="1333.19" cy="1181.56" r="2.81" fill="#5f6e88" opacity="0.55"/>
<circle cx="1332.29" cy="1189.26" r="4.79" fill="#5f6e88" opacity="0.55"/>
<circle cx="1303.92" cy="1186.71" r="4.93" fill="#66768e" opacity="0.55"/>
<rect x="1387.3" y="1111.1" width="140.6" height="140.6" fill="#90d2ea"/>
<rect x="1395" y="1118.8" width="125.2" height="125.2" fill="#5b5f7e"/>
<circle cx="1457.8" cy="1184.7" r="31" fill="#0c0c14" opacity="0.18"/>
<circle cx="1457.8" cy="1184.7" r="28" fill="#0c0c14" opacity="0.45"/>
<circle cx="1457.8" cy="1184.7" r="25.8" fill="#06060a"/>
<circle cx="1457.8" cy="1184.7" r="22" fill="url(#gc2)"/>
<circle cx="1455.19" cy="1183.44" r="2.02" fill="#c4e6e0" opacity="0.55"/>
<circle cx="1459.61" cy="1185.88" r="3.27" fill="#c4e6e0" opacity="0.55"/>
<circle cx="1465.12" cy="1177.07" r="2.45" fill="#5f6e88" opacity="0.55"/>
<circle cx="1448.58" cy="1192.73" r="2.58" fill="#5f6e88" opacity="0.55"/>
<circle cx="1456.68" cy="1182.84" r="2.51" fill="#5f6e88" opacity="0.55"/>
<circle cx="1471.4" cy="1190.9" r="1.89" fill="#66768e" opacity="0.55"/>
<circle cx="1464.71" cy="1186.07" r="2.45" fill="#66768e" opacity="0.55"/>
<circle cx="1463.32" cy="1186.8" r="3.01" fill="#66768e" opacity="0.55"/>
<circle cx="1454.09" cy="1178.12" r="3.23" fill="#5f6e88" opacity="0.55"/>
<circle cx="1457.68" cy="1184.65" r="3.3" fill="#b8dcd6" opacity="0.55"/>
<circle cx="1468.93" cy="1189.83" r="1.95" fill="#5f6e88" opacity="0.55"/>
<circle cx="1467.72" cy="1177.46" r="1.49" fill="#b8dcd6" opacity="0.55"/>
<circle cx="1458.64" cy="1180.88" r="3.51" fill="#66768e" opacity="0.55"/>
<circle cx="1457.49" cy="1183.81" r="1.26" fill="#b8dcd6" opacity="0.55"/>
<circle cx="1458.66" cy="1184.98" r="2.79" fill="#c4e6e0" opacity="0.55"/>
<circle cx="1457.61" cy="1172.03" r="3.02" fill="#5f6e88" opacity="0.55"/>
<circle cx="1468.91" cy="1183.23" r="3.37" fill="#5f6e88" opacity="0.55"/>
<circle cx="1465.93" cy="1180.29" r="2.56" fill="#66768e" opacity="0.55"/>
<circle cx="1459.04" cy="1172.02" r="3.22" fill="#66768e" opacity="0.55"/>
<rect x="1242.1" y="1290.6" width="140.6" height="140.6" fill="#5db59c"/>
<rect x="1249.8" y="1298.3" width="125.2" height="125.2" fill="#5b5f7e"/>
<circle cx="1310.6" cy="1358.5" r="48" fill="#0c0c14" opacity="0.18"/>
<circle cx="1310.6" cy="1358.5" r="45" fill="#0c0c14" opacity="0.45"/>
<circle cx="1310.6" cy="1358.5" r="42.8" fill="#06060a"/>
<circle cx="1310.6" cy="1358.5" r="39" fill="url(#gc2)"/>
<circle cx="1308.31" cy="1370.79" r="3.03" fill="#66768e" opacity="0.55"/>
<circle cx="1311.44" cy="1359.45" r="6.42" fill="#5f6e88" opacity="0.55"/>
<circle cx="1295.54" cy="1359.56" r="5.2" fill="#b8dcd6" opacity="0.55"/>
<circle cx="1302.72" cy="1361.29" r="6.04" fill="#5f6e88" opacity="0.55"/>
<circle cx="1309.64" cy="1359.2" r="4.05" fill="#c4e6e0" opacity="0.55"/>
<circle cx="1311.29" cy="1356.83" r="2.07" fill="#c4e6e0" opacity="0.55"/>
<circle cx="1328.58" cy="1376.41" r="4.66" fill="#b8dcd6" opacity="0.55"/>
<circle cx="1302.92" cy="1366.07" r="3.52" fill="#66768e" opacity="0.55"/>
<circle cx="1289.79" cy="1357.96" r="3.01" fill="#b8dcd6" opacity="0.55"/>
<circle cx="1309.12" cy="1347.83" r="5.74" fill="#c4e6e0" opacity="0.55"/>
<circle cx="1292.91" cy="1357.9" r="3.51" fill="#c4e6e0" opacity="0.55"/>
<circle cx="1324.5" cy="1336.22" r="1.52" fill="#66768e" opacity="0.55"/>
<circle cx="1290.32" cy="1348.63" r="5.82" fill="#c4e6e0" opacity="0.55"/>
<circle cx="1293.92" cy="1341.1" r="4.19" fill="#c4e6e0" opacity="0.55"/>
<circle cx="1311.07" cy="1372.42" r="2.81" fill="#c4e6e0" opacity="0.55"/>
<circle cx="1328.6" cy="1370.48" r="3.35" fill="#c4e6e0" opacity="0.55"/>
<circle cx="1293.62" cy="1356.73" r="3.09" fill="#5f6e88" opacity="0.55"/>
<circle cx="1287.05" cy="1373.34" r="2.42" fill="#c4e6e0" opacity="0.55"/>
<circle cx="1312.06" cy="1368.94" r="1.41" fill="#c4e6e0" opacity="0.55"/>
<circle cx="1308.16" cy="1354.79" r="5.36" fill="#c4e6e0" opacity="0.55"/>
<circle cx="1302.83" cy="1362.03" r="2.16" fill="#5f6e88" opacity="0.55"/>
<circle cx="1332.56" cy="1348.47" r="6.9" fill="#66768e" opacity="0.55"/>
<circle cx="1295.99" cy="1355.63" r="6.14" fill="#c4e6e0" opacity="0.55"/>
<circle cx="1310.97" cy="1355.59" r="5.8" fill="#5f6e88" opacity="0.55"/>
<circle cx="1313.46" cy="1352.24" r="1.8" fill="#b8dcd6" opacity="0.55"/>
<circle cx="1331.93" cy="1352.47" r="5.74" fill="#b8dcd6" opacity="0.55"/>
<circle cx="1297.21" cy="1366.35" r="4.47" fill="#b8dcd6" opacity="0.55"/>
<circle cx="1300.96" cy="1359.86" r="2.11" fill="#5f6e88" opacity="0.55"/>
<circle cx="1310.11" cy="1364.62" r="5.52" fill="#66768e" opacity="0.55"/>
<circle cx="1314.95" cy="1376.38" r="3.15" fill="#5f6e88" opacity="0.55"/>
<circle cx="1336.21" cy="1348.41" r="5.87" fill="#5f6e88" opacity="0.55"/>
<circle cx="1298.37" cy="1340.52" r="2.43" fill="#66768e" opacity="0.55"/>
<circle cx="1316.73" cy="1352.51" r="5.05" fill="#c4e6e0" opacity="0.55"/>
<circle cx="1301.18" cy="1372.34" r="1.52" fill="#c4e6e0" opacity="0.55"/>
<circle cx="1311.8" cy="1381.55" r="6.93" fill="#b8dcd6" opacity="0.55"/>
<rect x="1390.4" y="1290.3" width="140.6" height="140.6" fill="#2f8a45"/>
<rect x="1398.1" y="1298" width="125.2" height="125.2" fill="#5b5f7e"/>
<circle cx="1460.9" cy="1357" r="49" fill="#0c0c14" opacity="0.18"/>
<circle cx="1460.9" cy="1357" r="46" fill="#0c0c14" opacity="0.45"/>
<circle cx="1460.9" cy="1357" r="43.8" fill="#06060a"/>
<circle cx="1460.9" cy="1357" r="40" fill="url(#gc2)"/>
<circle cx="1465.15" cy="1346.71" r="6.45" fill="#b8dcd6" opacity="0.55"/>
<circle cx="1454.81" cy="1355.94" r="5.77" fill="#b8dcd6" opacity="0.55"/>
<circle cx="1441.62" cy="1349.17" r="4.59" fill="#5f6e88" opacity="0.55"/>
<circle cx="1450.01" cy="1366.76" r="6.7" fill="#c4e6e0" opacity="0.55"/>
<circle cx="1467.21" cy="1339.28" r="2.09" fill="#5f6e88" opacity="0.55"/>
<circle cx="1461.29" cy="1354.16" r="4.4" fill="#66768e" opacity="0.55"/>
<circle cx="1475.47" cy="1352.06" r="2.76" fill="#66768e" opacity="0.55"/>
<circle cx="1461.79" cy="1358.64" r="5.05" fill="#66768e" opacity="0.55"/>
<circle cx="1456.12" cy="1348.88" r="6.79" fill="#5f6e88" opacity="0.55"/>
<circle cx="1462.66" cy="1357.61" r="4.8" fill="#5f6e88" opacity="0.55"/>
<circle cx="1435.01" cy="1342.96" r="2.2" fill="#b8dcd6" opacity="0.55"/>
<circle cx="1438.11" cy="1360.21" r="6.11" fill="#c4e6e0" opacity="0.55"/>
<circle cx="1455.42" cy="1337.26" r="2.26" fill="#b8dcd6" opacity="0.55"/>
<circle cx="1461.95" cy="1384.15" r="6.63" fill="#5f6e88" opacity="0.55"/>
<circle cx="1456.64" cy="1370.24" r="2.83" fill="#c4e6e0" opacity="0.55"/>
<circle cx="1461.08" cy="1354.92" r="2.93" fill="#5f6e88" opacity="0.55"/>
<circle cx="1458.58" cy="1354.23" r="1.3" fill="#5f6e88" opacity="0.55"/>
<circle cx="1464.7" cy="1357.19" r="5.74" fill="#66768e" opacity="0.55"/>
<circle cx="1446.65" cy="1366.52" r="1.53" fill="#b8dcd6" opacity="0.55"/>
<circle cx="1455.29" cy="1345.05" r="1.88" fill="#5f6e88" opacity="0.55"/>
<circle cx="1461.04" cy="1347.43" r="3.33" fill="#5f6e88" opacity="0.55"/>
<circle cx="1467.64" cy="1362.72" r="3.35" fill="#c4e6e0" opacity="0.55"/>
<circle cx="1472.47" cy="1333.25" r="2.93" fill="#5f6e88" opacity="0.55"/>
<circle cx="1449.86" cy="1364.14" r="6.37" fill="#66768e" opacity="0.55"/>
<circle cx="1488.3" cy="1347.65" r="1.4" fill="#66768e" opacity="0.55"/>
<circle cx="1459.66" cy="1359.42" r="4.22" fill="#5f6e88" opacity="0.55"/>
<circle cx="1477.58" cy="1365.18" r="4" fill="#5f6e88" opacity="0.55"/>
<circle cx="1462.41" cy="1377.18" r="3.02" fill="#b8dcd6" opacity="0.55"/>
<circle cx="1466.49" cy="1360.98" r="5.67" fill="#b8dcd6" opacity="0.55"/>
<circle cx="1464.42" cy="1347.69" r="4.29" fill="#66768e" opacity="0.55"/>
<circle cx="1440.61" cy="1351.8" r="1.44" fill="#b8dcd6" opacity="0.55"/>
<circle cx="1469.48" cy="1377.78" r="3.46" fill="#5f6e88" opacity="0.55"/>
<circle cx="1440.84" cy="1359.67" r="5.52" fill="#66768e" opacity="0.55"/>
<circle cx="1457.99" cy="1363.16" r="6.86" fill="#c4e6e0" opacity="0.55"/>
<circle cx="1465.11" cy="1347.49" r="3.34" fill="#66768e" opacity="0.55"/>
<circle cx="1467.16" cy="1373.81" r="1.85" fill="#b8dcd6" opacity="0.55"/>
<line x1="1119.4" y1="999.7" x2="1390.4" y2="926.5" stroke="#cc5a72" stroke-width="7.3" stroke-opacity="0.8"/>
<circle cx="1119.4" cy="999.7" r="7.6" fill="#cc5a72" fill-opacity="0.85"/>
<line x1="1116.4" y1="1033.4" x2="1242.1" y2="1061.5" stroke="#b257bb" stroke-width="7.3" stroke-opacity="0.8"/>
<circle cx="1116.4" cy="1033.4" r="7.6" fill="#b257bb" fill-opacity="0.85"/>
<line x1="1015.3" y1="1058.4" x2="1387.3" y2="1114" stroke="#92d4f0" stroke-width="7.3" stroke-opacity="0.8"/>
<circle cx="1015.3" cy="1058.4" r="7.6" fill="#92d4f0" fill-opacity="0.85"/>
<line x1="1059.3" y1="1146.3" x2="1242.1" y2="1248" stroke="#3d3f9e" stroke-width="7.3" stroke-opacity="0.8"/>
<circle cx="1059.3" cy="1146.3" r="7.6" fill="#3d3f9e" fill-opacity="0.85"/>
<line x1="945" y1="1254.7" x2="1242.1" y2="1293" stroke="#5dbb9a" stroke-width="7.3" stroke-opacity="0.8"/>
<circle cx="945" cy="1254.7" r="7.6" fill="#5dbb9a" fill-opacity="0.85"/>
<line x1="1032.9" y1="1326.5" x2="1390.4" y2="1427.5" stroke="#2f8a45" stroke-width="7.3" stroke-opacity="0.8"/>
<circle cx="1032.9" cy="1326.5" r="7.6" fill="#2f8a45" fill-opacity="0.85"/>
<text x="1314.38" y="916.6" font-size="31.56" textLength="144.48" lengthAdjust="spacingAndGlyphs" fill="#000">Naive (D0)</text>
<text x="1243.02" y="1106.7" font-size="31.71" textLength="286.47" lengthAdjust="spacingAndGlyphs" fill="#000">Post-Activated (D21)</text>
<text x="1288.9" y="1284.1" font-size="32.44" textLength="197.19" lengthAdjust="spacingAndGlyphs" fill="#000">Activated (D7)</text>
<pattern id="hpk" width="14.4" height="14.4" patternUnits="userSpaceOnUse" patternTransform="rotate(-42 0 0)"><rect width="14.4" height="14.4" fill="#fff"/><rect width="14.4" height="7.2" fill="#cf5f70"/></pattern>
<pattern id="hgr" width="14.4" height="14.4" patternUnits="userSpaceOnUse" patternTransform="rotate(-42 0 0)"><rect width="14.4" height="14.4" fill="#fff"/><rect width="14.4" height="7.2" fill="#bde48e"/></pattern>
<pattern id="hcy" width="14.4" height="14.4" patternUnits="userSpaceOnUse" patternTransform="rotate(-42 0 0)"><rect width="14.4" height="14.4" fill="#fff"/><rect width="14.4" height="7.2" fill="#8ed5ea"/></pattern>
<pattern id="hgy" width="14.4" height="14.4" patternUnits="userSpaceOnUse" patternTransform="rotate(-42 0 0)"><rect width="14.4" height="14.4" fill="#fff"/><rect width="14.4" height="7.2" fill="#c9c9cc"/></pattern>
<text x="1517.76" y="889.25" font-size="33.82" textLength="54.94" lengthAdjust="spacingAndGlyphs" fill="#000" font-weight="bold">(M)</text>
<rect x="1654" y="890.85" width="20.4" height="321.75" fill="#cf5f70"/>
<rect x="1654" y="887.6" width="20.4" height="3.6" fill="#121a12"/>
<rect x="1654" y="887.6" width="20.4" height="325" fill="none" stroke="#000" stroke-width="2"/>
<rect x="1674.4" y="890.85" width="20.4" height="321.75" fill="url(#hpk)"/>
<rect x="1674.4" y="887.6" width="20.4" height="3.6" fill="#121a12"/>
<rect x="1674.4" y="887.6" width="20.4" height="325" fill="none" stroke="#000" stroke-width="2"/>
<rect x="1704.35" y="887.6" width="20.4" height="325" fill="#bde48e"/>
<rect x="1704.35" y="887.6" width="20.4" height="325" fill="none" stroke="#000" stroke-width="2"/>
<rect x="1724.75" y="887.6" width="20.4" height="325" fill="url(#hgr)"/>
<rect x="1724.75" y="887.6" width="20.4" height="325" fill="none" stroke="#000" stroke-width="2"/>
<rect x="1754.7" y="902.88" width="20.4" height="309.72" fill="#bde48e"/>
<rect x="1754.7" y="887.6" width="20.4" height="15.28" fill="#8ed5ea"/>
<line x1="1754.7" y1="902.88" x2="1775.1" y2="902.88" stroke="#000" stroke-width="1.8"/>
<rect x="1754.7" y="887.6" width="20.4" height="325" fill="none" stroke="#000" stroke-width="2"/>
<rect x="1775.1" y="892.15" width="20.4" height="320.45" fill="url(#hgr)"/>
<rect x="1775.1" y="887.6" width="20.4" height="4.55" fill="url(#hcy)"/>
<line x1="1775.1" y1="892.15" x2="1795.5" y2="892.15" stroke="#000" stroke-width="1.8"/>
<rect x="1775.1" y="887.6" width="20.4" height="325" fill="none" stroke="#000" stroke-width="2"/>
<rect x="1805.05" y="916.2" width="20.4" height="296.4" fill="#bde48e"/>
<rect x="1805.05" y="887.6" width="20.4" height="28.6" fill="#8ed5ea"/>
<line x1="1805.05" y1="916.2" x2="1825.45" y2="916.2" stroke="#000" stroke-width="1.8"/>
<rect x="1805.05" y="887.6" width="20.4" height="325" fill="none" stroke="#000" stroke-width="2"/>
<rect x="1825.45" y="921.07" width="20.4" height="291.53" fill="url(#hgr)"/>
<rect x="1825.45" y="887.6" width="20.4" height="33.47" fill="url(#hcy)"/>
<line x1="1825.45" y1="921.07" x2="1845.85" y2="921.07" stroke="#000" stroke-width="1.8"/>
<rect x="1825.45" y="887.6" width="20.4" height="325" fill="none" stroke="#000" stroke-width="2"/>
<rect x="1855.4" y="1025.07" width="20.4" height="187.53" fill="#bde48e"/>
<rect x="1855.4" y="887.6" width="20.4" height="137.47" fill="#8ed5ea"/>
<line x1="1855.4" y1="1025.07" x2="1875.8" y2="1025.07" stroke="#000" stroke-width="1.8"/>
<rect x="1855.4" y="887.6" width="20.4" height="325" fill="none" stroke="#000" stroke-width="2"/>
<rect x="1875.8" y="1011.75" width="20.4" height="200.85" fill="url(#hgr)"/>
<rect x="1875.8" y="887.6" width="20.4" height="124.15" fill="url(#hcy)"/>
<line x1="1875.8" y1="1011.75" x2="1896.2" y2="1011.75" stroke="#000" stroke-width="1.8"/>
<rect x="1875.8" y="887.6" width="20.4" height="325" fill="none" stroke="#000" stroke-width="2"/>
<rect x="1905.75" y="1062.45" width="20.4" height="150.15" fill="#bde48e"/>
<rect x="1905.75" y="887.6" width="20.4" height="174.85" fill="#8ed5ea"/>
<line x1="1905.75" y1="1062.45" x2="1926.15" y2="1062.45" stroke="#000" stroke-width="1.8"/>
<rect x="1905.75" y="887.6" width="20.4" height="325" fill="none" stroke="#000" stroke-width="2"/>
<rect x="1926.15" y="1095.6" width="20.4" height="117" fill="url(#hgr)"/>
<rect x="1926.15" y="887.6" width="20.4" height="208" fill="url(#hcy)"/>
<line x1="1926.15" y1="1095.6" x2="1946.55" y2="1095.6" stroke="#000" stroke-width="1.8"/>
<rect x="1926.15" y="887.6" width="20.4" height="325" fill="none" stroke="#000" stroke-width="2"/>
<rect x="1956.1" y="1193.75" width="20.4" height="18.85" fill="#bde48e"/>
<rect x="1956.1" y="887.6" width="20.4" height="306.15" fill="#8ed5ea"/>
<line x1="1956.1" y1="1193.75" x2="1976.5" y2="1193.75" stroke="#000" stroke-width="1.8"/>
<rect x="1956.1" y="887.6" width="20.4" height="325" fill="none" stroke="#000" stroke-width="2"/>
<rect x="1976.5" y="1180.1" width="20.4" height="32.5" fill="url(#hgr)"/>
<rect x="1976.5" y="887.6" width="20.4" height="292.5" fill="url(#hcy)"/>
<line x1="1976.5" y1="1180.1" x2="1996.9" y2="1180.1" stroke="#000" stroke-width="1.8"/>
<rect x="1976.5" y="887.6" width="20.4" height="325" fill="none" stroke="#000" stroke-width="2"/>
<line x1="1646.25" y1="886.8" x2="1646.25" y2="1213.6" stroke="#000" stroke-width="2"/>
<line x1="1645.3" y1="1212.6" x2="1997" y2="1212.6" stroke="#000" stroke-width="2.4"/>
<line x1="1646.25" y1="1147.6" x2="1651.5" y2="1147.6" stroke="#000" stroke-width="2"/>
<line x1="1646.25" y1="1082.6" x2="1651.5" y2="1082.6" stroke="#000" stroke-width="2"/>
<line x1="1646.25" y1="1017.6" x2="1651.5" y2="1017.6" stroke="#000" stroke-width="2"/>
<line x1="1646.25" y1="952.6" x2="1651.5" y2="952.6" stroke="#000" stroke-width="2"/>
<line x1="1646.25" y1="887.6" x2="1651.5" y2="887.6" stroke="#000" stroke-width="2"/>
<text x="1591.31" y="896.9" font-size="29.1" textLength="50.86" lengthAdjust="spacingAndGlyphs" fill="#000">100</text>
<text x="1605.86" y="962.1" font-size="29.1" textLength="36.45" lengthAdjust="spacingAndGlyphs" fill="#000">80</text>
<text x="1605.6" y="1027.1" font-size="29.1" textLength="36.72" lengthAdjust="spacingAndGlyphs" fill="#000">60</text>
<text x="1606.53" y="1092.1" font-size="29.1" textLength="35.75" lengthAdjust="spacingAndGlyphs" fill="#000">40</text>
<text x="1605.6" y="1157.1" font-size="29.1" textLength="36.72" lengthAdjust="spacingAndGlyphs" fill="#000">20</text>
<text x="1626.45" y="1231.1" font-size="29.1" textLength="15.64" lengthAdjust="spacingAndGlyphs" fill="#000">0</text>
<text x="1667.81" y="1238" font-size="28.39" textLength="15.41" lengthAdjust="spacingAndGlyphs" fill="#000">0</text>
<text x="1718.3" y="1238" font-size="28.39" textLength="15.57" lengthAdjust="spacingAndGlyphs" fill="#000">3</text>
<text x="1768.6" y="1238" font-size="28.8" textLength="16.17" lengthAdjust="spacingAndGlyphs" fill="#000">7</text>
<text x="1810.91" y="1238" font-size="28.39" textLength="31.78" lengthAdjust="spacingAndGlyphs" fill="#000">10</text>
<text x="1861.63" y="1238" font-size="28.8" textLength="31.47" lengthAdjust="spacingAndGlyphs" fill="#000">14</text>
<text x="1911.49" y="1238" font-size="28.8" textLength="32.1" lengthAdjust="spacingAndGlyphs" fill="#000">17</text>
<text x="1960.14" y="1238" font-size="28.39" textLength="31.31" lengthAdjust="spacingAndGlyphs" fill="#000">21</text>
<text x="1683.86" y="1265.5" font-size="29.68" textLength="260.81" lengthAdjust="spacingAndGlyphs" fill="#000">Culture Age (Days)</text>
<text transform="translate(1600.75 1168) rotate(-90)" x="-1.07" y="0" font-size="31.9" textLength="262.89" lengthAdjust="spacingAndGlyphs" fill="#000">% of Cells in Group</text>
<rect x="1588" y="1279.4" width="24.8" height="24.8" fill="#cf5f70"/>
<text x="1616.49" y="1300.9" font-size="30.55" textLength="80.2" lengthAdjust="spacingAndGlyphs" fill="#000">Naive</text>
<rect x="1588" y="1317.7" width="24.8" height="24.8" fill="#bde48e"/>
<text x="1619" y="1339.2" font-size="30.55" textLength="132.24" lengthAdjust="spacingAndGlyphs" fill="#000">Activated</text>
<rect x="1588" y="1355.7" width="24.8" height="24.8" fill="#8ed5ea"/>
<text x="1616.45" y="1377.2" font-size="30.55" textLength="205.13" lengthAdjust="spacingAndGlyphs" fill="#000">Post-Activated</text>
<rect x="1588" y="1391" width="24.8" height="24.8" fill="#c9c9cc"/>
<text x="1617.76" y="1412.5" font-size="30.11" textLength="234.62" lengthAdjust="spacingAndGlyphs" fill="#000">qOBM Measured</text>
<rect x="1588" y="1429.4" width="24.8" height="24.8" fill="url(#hgy)"/>
<text x="1616.46" y="1450.9" font-size="30.55" textLength="370.13" lengthAdjust="spacingAndGlyphs" fill="#000">Flow Cytometry Measured</text>
</svg></body></html>
